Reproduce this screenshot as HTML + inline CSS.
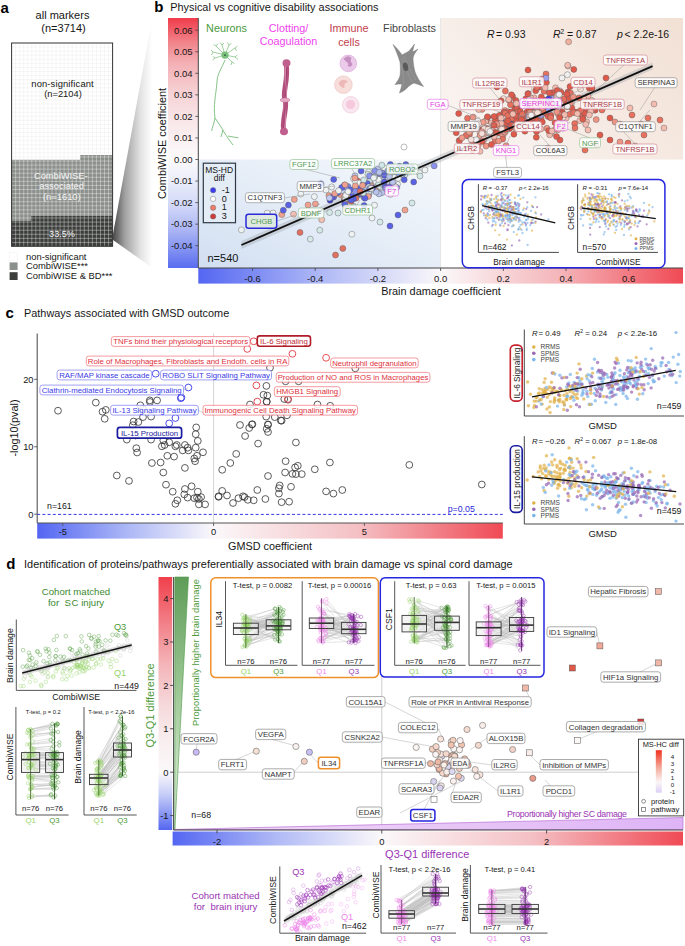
<!DOCTYPE html><html><head><meta charset="utf-8"><style>html,body{margin:0;padding:0;background:#fff;width:685px;height:946px;overflow:hidden}svg{display:block}text{font-family:"Liberation Sans",sans-serif}</style></head><body><svg width="685" height="946" viewBox="0 0 685 946"><defs><clipPath id="clipwhite"><path d="M11.6,43.0 H112.6 V154.9 H80.0 V159.8 H11.6 Z"/></clipPath><linearGradient id="funnel" x1="113" y1="0" x2="152" y2="0" gradientUnits="userSpaceOnUse"><stop offset="0" stop-color="#4a4a4a"/><stop offset="0.3" stop-color="#a0a0a0"/><stop offset="0.7" stop-color="#e2e2e2"/><stop offset="1" stop-color="#ffffff"/></linearGradient><linearGradient id="bvert" x1="0" y1="0" x2="0" y2="1"><stop offset="0" stop-color="#f03c4a"/><stop offset="0.1" stop-color="#f2858c"/><stop offset="0.18" stop-color="#f3b0b5"/><stop offset="0.3" stop-color="#f6d2d5"/><stop offset="0.42" stop-color="#f9e8ea"/><stop offset="0.566" stop-color="#fcfafc"/><stop offset="0.66" stop-color="#e8ebfa"/><stop offset="0.75" stop-color="#d2d8f8"/><stop offset="0.85" stop-color="#aab4f4"/><stop offset="0.93" stop-color="#8090f2"/><stop offset="1" stop-color="#5a6cf0"/></linearGradient><linearGradient id="bhor" x1="0" y1="0" x2="1" y2="0"><stop offset="0" stop-color="#5466f2"/><stop offset="0.2499484217041469" stop-color="#aeb8f6"/><stop offset="0.4998968434082938" stop-color="#fbf8fa"/><stop offset="0.749948421704147" stop-color="#f4b4b8"/><stop offset="1" stop-color="#f04a55"/></linearGradient><linearGradient id="bpeach" x1="0" y1="0.6" x2="1" y2="0"><stop offset="0" stop-color="#f9f3f0"/><stop offset="1" stop-color="#f2e0d4"/></linearGradient><linearGradient id="bblue" x1="0" y1="1" x2="1" y2="0"><stop offset="0" stop-color="#d2dff2"/><stop offset="0.5" stop-color="#e5edf7"/><stop offset="1" stop-color="#f6f9fc"/></linearGradient><linearGradient id="chor" x1="0" y1="0" x2="1" y2="0"><stop offset="0" stop-color="#5466f2"/><stop offset="0.18943298969072161" stop-color="#aab6f6"/><stop offset="0.37886597938144323" stop-color="#fbf8fa"/><stop offset="0.6894329896907216" stop-color="#f4c0c4"/><stop offset="1" stop-color="#f04a55"/></linearGradient><linearGradient id="dvert" x1="0" y1="0" x2="0" y2="1"><stop offset="0" stop-color="#f0404c"/><stop offset="0.171" stop-color="#f27c84"/><stop offset="0.343" stop-color="#f4b4b8"/><stop offset="0.514" stop-color="#f6dadc"/><stop offset="0.65" stop-color="#f9eeef"/><stop offset="0.7715415019762848" stop-color="#fbf8fa"/><stop offset="0.857" stop-color="#c8cff8"/><stop offset="0.943" stop-color="#8492f2"/><stop offset="1" stop-color="#5466f2"/></linearGradient><linearGradient id="dhor" x1="0" y1="0" x2="1" y2="0"><stop offset="0" stop-color="#5466f2"/><stop offset="0.20435806831566553" stop-color="#b0baf6"/><stop offset="0.40871613663133105" stop-color="#fbf8fa"/><stop offset="0.7043580683156656" stop-color="#f4c0c4"/><stop offset="1" stop-color="#f04a55"/></linearGradient><linearGradient id="dgreen" x1="0" y1="0" x2="0" y2="1"><stop offset="0" stop-color="#5e9c58"/><stop offset="0.5" stop-color="#a4cc9c"/><stop offset="1" stop-color="#e4f2e0"/></linearGradient><linearGradient id="dpurp" x1="0" y1="0" x2="1" y2="0"><stop offset="0" stop-color="#f2dcf6"/><stop offset="1" stop-color="#deb4f6"/></linearGradient><linearGradient id="dleg" x1="0" y1="0" x2="0" y2="1"><stop offset="0" stop-color="#f03020"/><stop offset="0.4" stop-color="#f4a898"/><stop offset="0.75" stop-color="#fbf6f6"/><stop offset="1" stop-color="#dcd0f8"/></linearGradient></defs><text x="0.5" y="12.6" font-size="15" fill="#000" font-weight="bold">a</text>
<text x="62.5" y="19.3" font-size="11" fill="#161616" text-anchor="middle">all markers</text>
<text x="63.5" y="32.4" font-size="11" fill="#161616" text-anchor="middle">(n=3714)</text>
<rect x="11.60" y="43.00" width="101.00" height="203.30" fill="#fff"/>
<path d="M11.6,159.8 H80.0 V154.9 H112.6 V215.9 H30.8 V220.8 H11.6 Z" fill="#8c908c"/>
<path d="M11.6,220.8 H30.8 V215.9 H112.6 V246.3 H11.6 Z" fill="#3c3e3c"/>
<path d="M15.64,43.0V246.3M19.68,43.0V246.3M23.72,43.0V246.3M27.76,43.0V246.3M31.80,43.0V246.3M35.84,43.0V246.3M39.88,43.0V246.3M43.92,43.0V246.3M47.96,43.0V246.3M52.00,43.0V246.3M56.04,43.0V246.3M60.08,43.0V246.3M64.12,43.0V246.3M68.16,43.0V246.3M72.20,43.0V246.3M76.24,43.0V246.3M80.28,43.0V246.3M84.32,43.0V246.3M88.36,43.0V246.3M92.40,43.0V246.3M96.44,43.0V246.3M100.48,43.0V246.3M104.52,43.0V246.3M108.56,43.0V246.3M11.6,47.07H112.6M11.6,51.14H112.6M11.6,55.21H112.6M11.6,59.28H112.6M11.6,63.35H112.6M11.6,67.42H112.6M11.6,71.49H112.6M11.6,75.56H112.6M11.6,79.63H112.6M11.6,83.70H112.6M11.6,87.77H112.6M11.6,91.84H112.6M11.6,95.91H112.6M11.6,99.98H112.6M11.6,104.05H112.6M11.6,108.12H112.6M11.6,112.19H112.6M11.6,116.26H112.6M11.6,120.33H112.6M11.6,124.40H112.6M11.6,128.47H112.6M11.6,132.54H112.6M11.6,136.61H112.6M11.6,140.68H112.6M11.6,144.75H112.6M11.6,148.82H112.6M11.6,152.89H112.6M11.6,156.96H112.6M11.6,161.03H112.6M11.6,165.10H112.6M11.6,169.17H112.6M11.6,173.24H112.6M11.6,177.31H112.6M11.6,181.38H112.6M11.6,185.45H112.6M11.6,189.52H112.6M11.6,193.59H112.6M11.6,197.66H112.6M11.6,201.73H112.6M11.6,205.80H112.6M11.6,209.87H112.6M11.6,213.94H112.6M11.6,218.01H112.6M11.6,222.08H112.6M11.6,226.15H112.6M11.6,230.22H112.6M11.6,234.29H112.6M11.6,238.36H112.6M11.6,242.43H112.6" stroke="#ffffff" stroke-opacity="0.45" stroke-width="0.8" fill="none"/>
<path d="M15.64,43.0V246.3M19.68,43.0V246.3M23.72,43.0V246.3M27.76,43.0V246.3M31.80,43.0V246.3M35.84,43.0V246.3M39.88,43.0V246.3M43.92,43.0V246.3M47.96,43.0V246.3M52.00,43.0V246.3M56.04,43.0V246.3M60.08,43.0V246.3M64.12,43.0V246.3M68.16,43.0V246.3M72.20,43.0V246.3M76.24,43.0V246.3M80.28,43.0V246.3M84.32,43.0V246.3M88.36,43.0V246.3M92.40,43.0V246.3M96.44,43.0V246.3M100.48,43.0V246.3M104.52,43.0V246.3M108.56,43.0V246.3M11.6,47.07H112.6M11.6,51.14H112.6M11.6,55.21H112.6M11.6,59.28H112.6M11.6,63.35H112.6M11.6,67.42H112.6M11.6,71.49H112.6M11.6,75.56H112.6M11.6,79.63H112.6M11.6,83.70H112.6M11.6,87.77H112.6M11.6,91.84H112.6M11.6,95.91H112.6M11.6,99.98H112.6M11.6,104.05H112.6M11.6,108.12H112.6M11.6,112.19H112.6M11.6,116.26H112.6M11.6,120.33H112.6M11.6,124.40H112.6M11.6,128.47H112.6M11.6,132.54H112.6M11.6,136.61H112.6M11.6,140.68H112.6M11.6,144.75H112.6M11.6,148.82H112.6M11.6,152.89H112.6M11.6,156.96H112.6M11.6,161.03H112.6M11.6,165.10H112.6M11.6,169.17H112.6M11.6,173.24H112.6M11.6,177.31H112.6M11.6,181.38H112.6M11.6,185.45H112.6M11.6,189.52H112.6M11.6,193.59H112.6M11.6,197.66H112.6M11.6,201.73H112.6M11.6,205.80H112.6M11.6,209.87H112.6M11.6,213.94H112.6M11.6,218.01H112.6M11.6,222.08H112.6M11.6,226.15H112.6M11.6,230.22H112.6M11.6,234.29H112.6M11.6,238.36H112.6M11.6,242.43H112.6" stroke="#000" stroke-opacity="0.07" stroke-width="0.5" fill="none" clip-path="url(#clipwhite)"/>
<rect x="11.60" y="43.00" width="101.00" height="203.30" fill="none" stroke="#333" stroke-width="1"/>
<text x="62.5" y="86.7" font-size="9.4" fill="#161616" text-anchor="middle" textLength="62.4">non-significant</text>
<text x="63.0" y="97.2" font-size="9.3" fill="#161616" text-anchor="middle">(n=2104)</text>
<text x="60.8" y="178.9" font-size="9.3" fill="#f4f4f4" text-anchor="middle">CombiWISE-</text>
<text x="61.6" y="189.4" font-size="9.4" fill="#f4f4f4" text-anchor="middle">associated</text>
<text x="61.8" y="200.4" font-size="9.4" fill="#f4f4f4" text-anchor="middle">(n=1610)</text>
<text x="62.0" y="236.7" font-size="9.1" fill="#f4f4f4" text-anchor="middle">33.5%</text>
<rect x="9.60" y="252.20" width="8.00" height="8.00" fill="#fff" stroke="#eee" stroke-width="0.5"/>
<rect x="9.60" y="262.40" width="8.00" height="7.60" fill="#8c908c"/>
<rect x="9.60" y="272.20" width="8.00" height="7.80" fill="#3c3e3c"/>
<text x="26.0" y="260.0" font-size="9.4" fill="#161616">non-significant</text>
<text x="26.0" y="269.2" font-size="9.4" fill="#161616">CombiWISE***</text>
<text x="26.0" y="278.6" font-size="9.4" fill="#161616">CombiWISE &amp; BD***</text>
<path d="M113,234 L152.5,17 L152.5,268 L113,240 Z" fill="url(#funnel)"/>
<text x="154.3" y="11.8" font-size="15" fill="#000" font-weight="bold">b</text>
<text x="170.3" y="11.1" font-size="10.9" fill="#161616">Physical vs cognitive disability associations</text>
<rect x="168.00" y="18.00" width="30.30" height="250.00" fill="url(#bvert)"/>
<rect x="198.30" y="268.00" width="484.70" height="15.60" fill="url(#bhor)"/>
<rect x="198.30" y="18.00" width="484.70" height="250.00" fill="#fff"/>
<rect x="440.60" y="18.00" width="242.40" height="141.50" fill="url(#bpeach)"/>
<rect x="198.30" y="159.50" width="242.30" height="108.50" fill="url(#bblue)"/>
<line x1="440.60" y1="18.00" x2="440.60" y2="268.00" stroke="#e0e0e0" stroke-width="0.8"/>
<line x1="198.30" y1="18.00" x2="198.30" y2="268.00" stroke="#444" stroke-width="1"/>
<line x1="198.30" y1="268.00" x2="683.00" y2="268.00" stroke="#444" stroke-width="1"/>
<line x1="195.30" y1="30.20" x2="198.30" y2="30.20" stroke="#444" stroke-width="0.8"/>
<text x="192.6" y="33.5" font-size="9.5" fill="#161616" text-anchor="end">0.06</text>
<line x1="195.30" y1="51.75" x2="198.30" y2="51.75" stroke="#444" stroke-width="0.8"/>
<text x="192.6" y="55.0" font-size="9.5" fill="#161616" text-anchor="end">0.05</text>
<line x1="195.30" y1="73.30" x2="198.30" y2="73.30" stroke="#444" stroke-width="0.8"/>
<text x="192.6" y="76.6" font-size="9.5" fill="#161616" text-anchor="end">0.04</text>
<line x1="195.30" y1="94.85" x2="198.30" y2="94.85" stroke="#444" stroke-width="0.8"/>
<text x="192.6" y="98.2" font-size="9.5" fill="#161616" text-anchor="end">0.03</text>
<line x1="195.30" y1="116.40" x2="198.30" y2="116.40" stroke="#444" stroke-width="0.8"/>
<text x="192.6" y="119.7" font-size="9.5" fill="#161616" text-anchor="end">0.02</text>
<line x1="195.30" y1="137.95" x2="198.30" y2="137.95" stroke="#444" stroke-width="0.8"/>
<text x="192.6" y="141.2" font-size="9.5" fill="#161616" text-anchor="end">0.01</text>
<line x1="195.30" y1="159.50" x2="198.30" y2="159.50" stroke="#444" stroke-width="0.8"/>
<text x="192.6" y="162.8" font-size="9.5" fill="#161616" text-anchor="end">0.00</text>
<line x1="195.30" y1="181.05" x2="198.30" y2="181.05" stroke="#444" stroke-width="0.8"/>
<text x="192.6" y="184.4" font-size="9.5" fill="#161616" text-anchor="end">-0.01</text>
<line x1="195.30" y1="202.60" x2="198.30" y2="202.60" stroke="#444" stroke-width="0.8"/>
<text x="192.6" y="205.9" font-size="9.5" fill="#161616" text-anchor="end">-0.02</text>
<line x1="195.30" y1="224.15" x2="198.30" y2="224.15" stroke="#444" stroke-width="0.8"/>
<text x="192.6" y="227.4" font-size="9.5" fill="#161616" text-anchor="end">-0.03</text>
<line x1="195.30" y1="245.70" x2="198.30" y2="245.70" stroke="#444" stroke-width="0.8"/>
<text x="192.6" y="249.0" font-size="9.5" fill="#161616" text-anchor="end">-0.04</text>
<line x1="252.50" y1="268.00" x2="252.50" y2="271.00" stroke="#444" stroke-width="0.8"/>
<text x="252.5" y="282.4" font-size="9.5" fill="#161616" text-anchor="middle">-0.6</text>
<line x1="315.20" y1="268.00" x2="315.20" y2="271.00" stroke="#444" stroke-width="0.8"/>
<text x="315.2" y="282.4" font-size="9.5" fill="#161616" text-anchor="middle">-0.4</text>
<line x1="377.90" y1="268.00" x2="377.90" y2="271.00" stroke="#444" stroke-width="0.8"/>
<text x="377.9" y="282.4" font-size="9.5" fill="#161616" text-anchor="middle">-0.2</text>
<line x1="440.60" y1="268.00" x2="440.60" y2="271.00" stroke="#444" stroke-width="0.8"/>
<text x="440.6" y="282.4" font-size="9.5" fill="#161616" text-anchor="middle">0.0</text>
<line x1="503.30" y1="268.00" x2="503.30" y2="271.00" stroke="#444" stroke-width="0.8"/>
<text x="503.3" y="282.4" font-size="9.5" fill="#161616" text-anchor="middle">0.2</text>
<line x1="566.00" y1="268.00" x2="566.00" y2="271.00" stroke="#444" stroke-width="0.8"/>
<text x="566.0" y="282.4" font-size="9.5" fill="#161616" text-anchor="middle">0.4</text>
<line x1="628.70" y1="268.00" x2="628.70" y2="271.00" stroke="#444" stroke-width="0.8"/>
<text x="628.7" y="282.4" font-size="9.5" fill="#161616" text-anchor="middle">0.6</text>
<text x="165.8" y="143.5" font-size="10.9" fill="#161616" text-anchor="middle" transform="rotate(-90 165.8 143.5)">CombiWISE coefficient</text>
<text x="441.0" y="294.8" font-size="10.9" fill="#161616" text-anchor="middle">Brain damage coefficient</text>
<path d="M241.4,241 L652.6,62.5 L652.6,69.5 L241.4,249 Z" fill="#9aa0a8" fill-opacity="0.35"/>
<g stroke="#555" stroke-width="0.4"><circle cx="615.0" cy="122.0" r="3" fill="#ee9484"/><circle cx="375.0" cy="177.6" r="3" fill="#5a62e4"/><circle cx="606.0" cy="78.0" r="3" fill="#e05a4c"/><circle cx="511.0" cy="123.8" r="3" fill="#e05a4c"/><circle cx="411.8" cy="167.7" r="3" fill="#5a62e4"/><circle cx="468.6" cy="136.2" r="3" fill="#f8e0da"/><circle cx="573.8" cy="69.4" r="3" fill="#e05a4c"/><circle cx="479.4" cy="138.0" r="3" fill="#f0f0f0"/><circle cx="471.6" cy="146.7" r="3" fill="#e05a4c"/><circle cx="364.0" cy="188.5" r="3" fill="#5a62e4"/><circle cx="347.4" cy="199.2" r="3" fill="#5a62e4"/><circle cx="503.4" cy="98.7" r="3" fill="#f8e0da"/><circle cx="528.0" cy="122.2" r="3" fill="#ee9484"/><circle cx="610.0" cy="118.0" r="3" fill="#e05a4c"/><circle cx="456.2" cy="132.7" r="3" fill="#e05a4c"/><circle cx="553.1" cy="100.3" r="3" fill="#e05a4c"/><circle cx="348.0" cy="186.5" r="3" fill="#8a92ee"/><circle cx="241.4" cy="229.9" r="3" fill="#eef2f2"/><circle cx="333.7" cy="179.4" r="3" fill="#5a62e4"/><circle cx="514.5" cy="116.1" r="3" fill="#9aa0f0"/><circle cx="550.5" cy="117.4" r="3" fill="#f4bcb0"/><circle cx="641.0" cy="124.0" r="3" fill="#ee9484"/><circle cx="482.5" cy="129.3" r="3" fill="#e05a4c"/><circle cx="585.3" cy="110.1" r="3" fill="#e05a4c"/><circle cx="482.1" cy="130.6" r="3" fill="#e05a4c"/><circle cx="524.2" cy="121.2" r="3" fill="#e05a4c"/><circle cx="580.0" cy="113.7" r="3" fill="#e8705f"/><circle cx="575.2" cy="112.4" r="3" fill="#e05a4c"/><circle cx="536.3" cy="130.5" r="3" fill="#e05a4c"/><circle cx="522.6" cy="105.8" r="3" fill="#f8e0da"/><circle cx="564.6" cy="102.7" r="3" fill="#e05a4c"/><circle cx="473.3" cy="143.7" r="3" fill="#e05a4c"/><circle cx="533.7" cy="118.2" r="3" fill="#e05a4c"/><circle cx="434.2" cy="165.9" r="3" fill="#8a92ee"/><circle cx="576.6" cy="112.3" r="3" fill="#e05a4c"/><circle cx="358.0" cy="186.1" r="3" fill="#5a62e4"/><circle cx="514.8" cy="107.8" r="3" fill="#e05a4c"/><circle cx="534.8" cy="112.0" r="3" fill="#ee9484"/><circle cx="480.4" cy="133.8" r="3" fill="#ee9484"/><circle cx="515.2" cy="125.1" r="3" fill="#e05a4c"/><circle cx="392.8" cy="179.7" r="3" fill="#5a62e4"/><circle cx="545.4" cy="111.5" r="3" fill="#e05a4c"/><circle cx="562.5" cy="123.1" r="3" fill="#ee9484"/><circle cx="404.7" cy="175.0" r="3" fill="#cfe6e6"/><circle cx="504.9" cy="110.6" r="3" fill="#ee9484"/><circle cx="491.7" cy="133.7" r="3" fill="#ee9484"/><circle cx="368.5" cy="172.0" r="3" fill="#eef2f2"/><circle cx="566.2" cy="118.1" r="3" fill="#f4bcb0"/><circle cx="372.0" cy="178.3" r="3" fill="#cfe6e6"/><circle cx="359.0" cy="194.4" r="3" fill="#5a62e4"/><circle cx="340.0" cy="194.5" r="3" fill="#f0a08e"/><circle cx="526.9" cy="112.0" r="3" fill="#e05a4c"/><circle cx="473.3" cy="128.2" r="3" fill="#f8e0da"/><circle cx="513.0" cy="117.3" r="3" fill="#e05a4c"/><circle cx="377.3" cy="186.8" r="3" fill="#cfe6e6"/><circle cx="392.0" cy="183.6" r="3" fill="#cfe6e6"/><circle cx="533.7" cy="108.2" r="3" fill="#f4bcb0"/><circle cx="517.3" cy="118.7" r="3" fill="#f09a8a"/><circle cx="604.0" cy="102.7" r="3" fill="#f4bcb0"/><circle cx="568.0" cy="66.0" r="3" fill="#f4bcb0"/><circle cx="527.6" cy="116.5" r="3" fill="#9aa0f0"/><circle cx="357.8" cy="193.7" r="3" fill="#5a62e4"/><circle cx="353.0" cy="191.3" r="3" fill="#5a62e4"/><circle cx="406.2" cy="169.3" r="3" fill="#b8c4ec"/><circle cx="384.4" cy="167.9" r="3" fill="#eef2f2"/><circle cx="489.5" cy="120.9" r="3" fill="#ee9484"/><circle cx="555.0" cy="122.7" r="3" fill="#e05a4c"/><circle cx="529.7" cy="112.2" r="3" fill="#e8705f"/><circle cx="544.3" cy="110.0" r="3" fill="#f8e0da"/><circle cx="571.8" cy="102.7" r="3" fill="#f8e0da"/><circle cx="588.0" cy="96.0" r="3" fill="#f4bcb0"/><circle cx="377.8" cy="169.0" r="3" fill="#b8c4ec"/><circle cx="562.2" cy="111.8" r="3" fill="#e05a4c"/><circle cx="515.9" cy="100.5" r="3" fill="#e05a4c"/><circle cx="548.0" cy="106.3" r="3" fill="#f8e0da"/><circle cx="660.0" cy="120.0" r="3" fill="#e8705f"/><circle cx="338.0" cy="213.0" r="3" fill="#d4e8e8"/><circle cx="468.8" cy="135.7" r="3" fill="#e05a4c"/><circle cx="534.1" cy="105.0" r="3" fill="#f0f0f0"/><circle cx="600.6" cy="103.7" r="3" fill="#e05a4c"/><circle cx="467.0" cy="135.0" r="3" fill="#f8e0da"/><circle cx="620.0" cy="142.0" r="3" fill="#ee9484"/><circle cx="370.4" cy="187.1" r="3" fill="#5a62e4"/><circle cx="486.0" cy="146.1" r="3" fill="#ee9484"/><circle cx="536.8" cy="118.6" r="3" fill="#e05a4c"/><circle cx="370.3" cy="177.2" r="3" fill="#5a62e4"/><circle cx="524.9" cy="131.2" r="3" fill="#e05a4c"/><circle cx="635.0" cy="146.0" r="3" fill="#f4bcb0"/><circle cx="503.8" cy="121.5" r="3" fill="#e05a4c"/><circle cx="493.1" cy="117.7" r="3" fill="#ee9484"/><circle cx="353.5" cy="178.8" r="3" fill="#eef2f2"/><circle cx="330.0" cy="200.2" r="3" fill="#3c44d0"/><circle cx="356.6" cy="192.5" r="3" fill="#5a62e4"/><circle cx="479.9" cy="132.1" r="3" fill="#f4bcb0"/><circle cx="355.0" cy="175.8" r="3" fill="#c4ccf2"/><circle cx="628.0" cy="143.0" r="3" fill="#e8705f"/><circle cx="486.4" cy="120.5" r="3" fill="#f4bcb0"/><circle cx="378.5" cy="187.0" r="3" fill="#cfe6e6"/><circle cx="345.0" cy="189.6" r="3" fill="#eef2f2"/><circle cx="374.5" cy="205.2" r="3" fill="#eef2f2"/><circle cx="513.3" cy="121.6" r="3" fill="#3c44d0"/><circle cx="467.5" cy="118.2" r="3" fill="#e8705f"/><circle cx="596.0" cy="144.0" r="3" fill="#ee9484"/><circle cx="365.7" cy="184.5" r="3" fill="#eef2f2"/><circle cx="514.3" cy="113.5" r="3" fill="#e05a4c"/><circle cx="344.4" cy="185.2" r="3" fill="#8a92ee"/><circle cx="524.1" cy="121.8" r="3" fill="#ee9484"/><circle cx="472.2" cy="140.5" r="3" fill="#e8705f"/><circle cx="531.0" cy="110.5" r="3" fill="#e05a4c"/><circle cx="486.0" cy="132.8" r="3" fill="#f09a8a"/><circle cx="528.0" cy="70.0" r="3" fill="#e05a4c"/><circle cx="345.6" cy="196.0" r="3" fill="#f0a08e"/><circle cx="401.5" cy="175.6" r="3" fill="#cfe6e6"/><circle cx="379.3" cy="179.5" r="3" fill="#cfe6e6"/><circle cx="552.1" cy="104.3" r="3" fill="#f0f0f0"/><circle cx="568.0" cy="96.0" r="3" fill="#e05a4c"/><circle cx="364.1" cy="205.5" r="3" fill="#5a62e4"/><circle cx="363.6" cy="196.9" r="3" fill="#cfe6e6"/><circle cx="351.3" cy="194.6" r="3" fill="#f0a08e"/><circle cx="346.0" cy="206.0" r="3" fill="#e07060"/><circle cx="356.8" cy="180.4" r="3" fill="#e07060"/><circle cx="412.0" cy="203.0" r="3" fill="#d4e8e8"/><circle cx="514.1" cy="123.8" r="3" fill="#3c44d0"/><circle cx="562.1" cy="100.1" r="3" fill="#ee9484"/><circle cx="567.7" cy="65.2" r="3" fill="#f4bcb0"/><circle cx="359.4" cy="193.2" r="3" fill="#5a62e4"/><circle cx="364.5" cy="196.6" r="3" fill="#8a92ee"/><circle cx="382.0" cy="173.0" r="3" fill="#8a92ee"/><circle cx="487.4" cy="117.5" r="3" fill="#f8e0da"/><circle cx="469.6" cy="133.9" r="3" fill="#e8705f"/><circle cx="498.4" cy="131.9" r="3" fill="#3c44d0"/><circle cx="535.1" cy="112.0" r="3" fill="#e05a4c"/><circle cx="476.5" cy="128.5" r="3" fill="#f4bcb0"/><circle cx="507.3" cy="121.8" r="3" fill="#f09a8a"/><circle cx="549.4" cy="107.4" r="3" fill="#f8e0da"/><circle cx="568.0" cy="92.0" r="3" fill="#e05a4c"/><circle cx="537.7" cy="112.7" r="3" fill="#ee9484"/><circle cx="610.0" cy="140.0" r="3" fill="#e05a4c"/><circle cx="331.6" cy="186.9" r="3" fill="#eef2f2"/><circle cx="585.0" cy="150.0" r="3" fill="#e8705f"/><circle cx="512.6" cy="96.5" r="3" fill="#e05a4c"/><circle cx="333.8" cy="197.0" r="3" fill="#5a62e4"/><circle cx="502.1" cy="127.9" r="3" fill="#f09a8a"/><circle cx="281.8" cy="214.6" r="3" fill="#f0a08e"/><circle cx="328.9" cy="195.6" r="3" fill="#f0a08e"/><circle cx="380.2" cy="174.5" r="3" fill="#5a62e4"/><circle cx="570.5" cy="93.0" r="3" fill="#e8705f"/><circle cx="542.6" cy="104.9" r="3" fill="#e8705f"/><circle cx="545.9" cy="107.2" r="3" fill="#e05a4c"/><circle cx="522.9" cy="115.9" r="3" fill="#e8705f"/><circle cx="335.5" cy="255.0" r="3" fill="#e07060"/><circle cx="563.1" cy="117.4" r="3" fill="#f8e0da"/><circle cx="508.1" cy="113.6" r="3" fill="#f4bcb0"/><circle cx="506.1" cy="145.7" r="3" fill="#ee9484"/><circle cx="551.1" cy="133.3" r="3" fill="#f4bcb0"/><circle cx="489.9" cy="119.5" r="3" fill="#e05a4c"/><circle cx="361.4" cy="190.1" r="3" fill="#8a92ee"/><circle cx="374.5" cy="189.1" r="3" fill="#5a62e4"/><circle cx="359.4" cy="181.9" r="3" fill="#e07060"/><circle cx="405.1" cy="171.4" r="3" fill="#b8c4ec"/><circle cx="495.1" cy="141.1" r="3" fill="#e8705f"/><circle cx="368.1" cy="192.4" r="3" fill="#eef2f2"/><circle cx="344.5" cy="199.2" r="3" fill="#5a62e4"/><circle cx="482.0" cy="109.4" r="3" fill="#f09a8a"/><circle cx="569.7" cy="114.3" r="3" fill="#e8705f"/><circle cx="397.5" cy="184.2" r="3" fill="#eef2f2"/><circle cx="485.5" cy="121.2" r="3" fill="#f4bcb0"/><circle cx="486.3" cy="128.2" r="3" fill="#e05a4c"/><circle cx="319.8" cy="230.2" r="3" fill="#d4e8e8"/><circle cx="369.9" cy="175.9" r="3" fill="#8a92ee"/><circle cx="655.0" cy="83.0" r="3" fill="#e8705f"/><circle cx="534.1" cy="97.8" r="3" fill="#f4bcb0"/><circle cx="364.8" cy="183.1" r="3" fill="#5a62e4"/><circle cx="492.3" cy="120.7" r="3" fill="#f0f0f0"/><circle cx="582.9" cy="116.5" r="3" fill="#e8705f"/><circle cx="332.1" cy="197.4" r="3" fill="#5a62e4"/><circle cx="564.6" cy="98.5" r="3" fill="#e8705f"/><circle cx="535.8" cy="112.4" r="3" fill="#ee9484"/><circle cx="511.1" cy="117.1" r="3" fill="#f09a8a"/><circle cx="515.0" cy="124.6" r="3" fill="#f2f2f2"/><circle cx="348.3" cy="209.6" r="3" fill="#f0a08e"/><circle cx="356.0" cy="198.2" r="3" fill="#e07060"/><circle cx="557.8" cy="129.9" r="3" fill="#f4bcb0"/><circle cx="363.7" cy="195.1" r="3" fill="#eef2f2"/><circle cx="528.2" cy="82.6" r="3" fill="#e05a4c"/><circle cx="382.6" cy="177.5" r="3" fill="#f0a08e"/><circle cx="501.1" cy="114.9" r="3" fill="#ee9484"/><circle cx="374.2" cy="190.3" r="3" fill="#cfe6e6"/><circle cx="591.8" cy="100.4" r="3" fill="#f4bcb0"/><circle cx="425.0" cy="170.0" r="3" fill="#eef2f2"/><circle cx="352.7" cy="194.5" r="3" fill="#5a62e4"/><circle cx="364.7" cy="183.5" r="3" fill="#cfe6e6"/><circle cx="528.2" cy="93.6" r="3" fill="#e8705f"/><circle cx="516.6" cy="106.6" r="3" fill="#e05a4c"/><circle cx="530.7" cy="98.0" r="3" fill="#f4bcb0"/><circle cx="404.2" cy="179.8" r="3" fill="#5a62e4"/><circle cx="273.0" cy="213.0" r="3" fill="#eef2f2"/><circle cx="392.8" cy="183.2" r="3" fill="#8a92ee"/><circle cx="525.9" cy="98.7" r="3" fill="#e05a4c"/><circle cx="504.9" cy="122.8" r="3" fill="#e05a4c"/><circle cx="542.2" cy="78.9" r="3" fill="#e05a4c"/><circle cx="571.9" cy="108.1" r="3" fill="#e05a4c"/><circle cx="545.9" cy="113.5" r="3" fill="#e05a4c"/><circle cx="544.1" cy="91.2" r="3" fill="#e8705f"/><circle cx="413.7" cy="182.0" r="3" fill="#5a62e4"/><circle cx="546.0" cy="74.0" r="3" fill="#e8705f"/><circle cx="359.4" cy="187.4" r="3" fill="#5a62e4"/><circle cx="555.5" cy="129.1" r="3" fill="#ee9484"/><circle cx="381.8" cy="177.0" r="3" fill="#5a62e4"/><circle cx="561.4" cy="114.2" r="3" fill="#ee9484"/><circle cx="491.1" cy="129.7" r="3" fill="#f09a8a"/><circle cx="338.0" cy="192.5" r="3" fill="#5a62e4"/><circle cx="342.5" cy="190.4" r="3" fill="#c4ccf2"/><circle cx="394.3" cy="180.8" r="3" fill="#eef2f2"/><circle cx="475.4" cy="126.9" r="3" fill="#e8705f"/><circle cx="352.8" cy="207.3" r="3" fill="#8a92ee"/><circle cx="556.5" cy="106.6" r="3" fill="#e8705f"/><circle cx="371.3" cy="185.6" r="3" fill="#eef2f2"/><circle cx="507.8" cy="111.7" r="3" fill="#e8705f"/><circle cx="355.6" cy="181.9" r="3" fill="#eef2f2"/><circle cx="480.2" cy="135.6" r="3" fill="#f09a8a"/><circle cx="541.1" cy="118.3" r="3" fill="#e8705f"/><circle cx="315.4" cy="203.9" r="3" fill="#f0a08e"/><circle cx="579.8" cy="120.6" r="3" fill="#f4bcb0"/><circle cx="467.1" cy="126.6" r="3" fill="#e05a4c"/><circle cx="532.5" cy="116.1" r="3" fill="#e8705f"/><circle cx="381.8" cy="179.3" r="3" fill="#eef2f2"/><circle cx="570.4" cy="103.1" r="3" fill="#ee9484"/><circle cx="498.2" cy="131.4" r="3" fill="#f8e0da"/><circle cx="494.6" cy="123.2" r="3" fill="#f4bcb0"/><circle cx="664.0" cy="128.0" r="3" fill="#f4bcb0"/><circle cx="527.9" cy="93.9" r="3" fill="#e05a4c"/><circle cx="560.0" cy="140.0" r="3" fill="#e05a4c"/><circle cx="484.1" cy="128.8" r="3" fill="#f8e0da"/><circle cx="516.0" cy="121.8" r="3" fill="#e05a4c"/><circle cx="513.4" cy="126.7" r="3" fill="#e05a4c"/><circle cx="602.0" cy="110.0" r="3" fill="#e8705f"/><circle cx="362.8" cy="182.6" r="3" fill="#8a92ee"/><circle cx="370.1" cy="183.0" r="3" fill="#8a92ee"/><circle cx="405.8" cy="164.6" r="3" fill="#5a62e4"/><circle cx="346.3" cy="187.3" r="3" fill="#8a92ee"/><circle cx="300.0" cy="232.4" r="3" fill="#e07060"/><circle cx="509.2" cy="100.3" r="3" fill="#e05a4c"/><circle cx="368.8" cy="194.5" r="3" fill="#8a92ee"/><circle cx="342.8" cy="248.4" r="3" fill="#e07060"/><circle cx="500.6" cy="133.2" r="3" fill="#ee9484"/><circle cx="465.4" cy="128.5" r="3" fill="#e8705f"/><circle cx="473.1" cy="117.1" r="3" fill="#ee9484"/><circle cx="520.5" cy="114.1" r="3" fill="#f0f0f0"/><circle cx="357.8" cy="192.3" r="3" fill="#c4ccf2"/><circle cx="368.6" cy="191.9" r="3" fill="#cfe6e6"/><circle cx="354.8" cy="178.0" r="3" fill="#f0a08e"/><circle cx="648.0" cy="118.0" r="3" fill="#e8705f"/><circle cx="478.2" cy="145.2" r="3" fill="#f09a8a"/><circle cx="583.7" cy="83.2" r="3" fill="#e8705f"/><circle cx="489.6" cy="129.7" r="3" fill="#f4bcb0"/><circle cx="513.9" cy="134.2" r="3" fill="#e05a4c"/><circle cx="491.6" cy="122.9" r="3" fill="#f4bcb0"/><circle cx="494.1" cy="128.5" r="3" fill="#f09a8a"/><circle cx="495.3" cy="131.6" r="3" fill="#f4bcb0"/><circle cx="344.8" cy="202.0" r="3" fill="#e07060"/><circle cx="353.5" cy="206.1" r="3" fill="#c4ccf2"/><circle cx="498.0" cy="126.8" r="3" fill="#f0f0f0"/><circle cx="391.4" cy="167.8" r="3" fill="#cfe6e6"/><circle cx="595.1" cy="110.2" r="3" fill="#e05a4c"/><circle cx="589.3" cy="88.2" r="3" fill="#e05a4c"/><circle cx="399.0" cy="176.2" r="3" fill="#eef2f2"/><circle cx="538.8" cy="87.2" r="3" fill="#e05a4c"/><circle cx="503.9" cy="112.3" r="3" fill="#e05a4c"/><circle cx="583.5" cy="98.1" r="3" fill="#f4bcb0"/><circle cx="545.1" cy="100.6" r="3" fill="#e05a4c"/><circle cx="502.9" cy="135.6" r="3" fill="#f09a8a"/><circle cx="509.4" cy="128.7" r="3" fill="#e05a4c"/><circle cx="548.0" cy="148.0" r="3" fill="#e05a4c"/><circle cx="334.8" cy="193.6" r="3" fill="#f0a08e"/><circle cx="351.9" cy="234.2" r="3" fill="#eef2f2"/><circle cx="368.7" cy="188.9" r="3" fill="#8a92ee"/><circle cx="329.6" cy="212.5" r="3" fill="#d4e8e8"/><circle cx="540.0" cy="115.6" r="3" fill="#e05a4c"/><circle cx="550.2" cy="108.6" r="3" fill="#e8705f"/><circle cx="294.3" cy="199.5" r="3" fill="#f0a08e"/><circle cx="370.3" cy="183.8" r="3" fill="#cfe6e6"/><circle cx="517.0" cy="108.5" r="3" fill="#e05a4c"/><circle cx="558.8" cy="105.7" r="3" fill="#f4bcb0"/><circle cx="567.0" cy="106.7" r="3" fill="#ee9484"/><circle cx="517.0" cy="113.9" r="3" fill="#f4bcb0"/><circle cx="568.6" cy="41.8" r="3" fill="#f0b0a0"/><circle cx="459.5" cy="146.2" r="3" fill="#f8e0da"/><circle cx="549.7" cy="134.8" r="3" fill="#f4bcb0"/><circle cx="503.4" cy="121.9" r="3" fill="#f4bcb0"/><circle cx="393.3" cy="187.5" r="3" fill="#8a92ee"/><circle cx="361.6" cy="193.3" r="3" fill="#8a92ee"/><circle cx="527.1" cy="105.2" r="3" fill="#e8705f"/><circle cx="310.3" cy="239.1" r="3" fill="#d4e8e8"/><circle cx="511.0" cy="112.1" r="3" fill="#e05a4c"/><circle cx="481.8" cy="131.7" r="3" fill="#ee9484"/><circle cx="562.0" cy="78.0" r="3" fill="#f0f0f0"/><circle cx="584.6" cy="113.3" r="3" fill="#e05a4c"/><circle cx="495.5" cy="120.6" r="3" fill="#e05a4c"/><circle cx="570.0" cy="86.6" r="3" fill="#e05a4c"/><circle cx="630.0" cy="108.0" r="3" fill="#f4bcb0"/><circle cx="596.2" cy="119.6" r="3" fill="#ee9484"/><circle cx="586.6" cy="121.8" r="3" fill="#f4bcb0"/><circle cx="475.2" cy="127.4" r="3" fill="#e05a4c"/><circle cx="546.9" cy="128.2" r="3" fill="#ee9484"/><circle cx="491.4" cy="144.5" r="3" fill="#e05a4c"/><circle cx="484.0" cy="139.1" r="3" fill="#f4bcb0"/><circle cx="529.2" cy="109.9" r="3" fill="#e05a4c"/><circle cx="534.8" cy="113.7" r="3" fill="#ee9484"/><circle cx="554.3" cy="97.2" r="3" fill="#9aa0f0"/><circle cx="364.2" cy="197.4" r="3" fill="#b8c4ec"/><circle cx="385.1" cy="186.8" r="3" fill="#5a62e4"/><circle cx="593.4" cy="108.9" r="3" fill="#e8705f"/><circle cx="399.5" cy="166.3" r="3" fill="#5a62e4"/><circle cx="507.9" cy="124.7" r="3" fill="#e05a4c"/><circle cx="543.5" cy="105.8" r="3" fill="#ee9484"/><circle cx="487.5" cy="116.8" r="3" fill="#e05a4c"/><circle cx="466.8" cy="126.1" r="3" fill="#f8e0da"/><circle cx="511.5" cy="94.8" r="3" fill="#e05a4c"/><circle cx="505.8" cy="128.8" r="3" fill="#f09a8a"/><circle cx="548.2" cy="116.6" r="3" fill="#e05a4c"/><circle cx="560.3" cy="104.1" r="3" fill="#f8e0da"/><circle cx="394.7" cy="177.3" r="3" fill="#eef2f2"/><circle cx="466.0" cy="135.5" r="3" fill="#e8705f"/><circle cx="521.7" cy="115.6" r="3" fill="#ee9484"/><circle cx="515.9" cy="120.2" r="3" fill="#e05a4c"/><circle cx="580.5" cy="89.0" r="3" fill="#f8e0da"/><circle cx="378.7" cy="183.8" r="3" fill="#cfe6e6"/><circle cx="363.4" cy="194.6" r="3" fill="#5a62e4"/><circle cx="478.6" cy="141.8" r="3" fill="#f09a8a"/><circle cx="559.8" cy="90.9" r="3" fill="#f4bcb0"/><circle cx="369.3" cy="181.6" r="3" fill="#cfe6e6"/><circle cx="367.9" cy="174.2" r="3" fill="#cfe6e6"/><circle cx="471.1" cy="146.9" r="3" fill="#f8e0da"/><circle cx="489.1" cy="132.6" r="3" fill="#f8e0da"/><circle cx="535.7" cy="90.7" r="3" fill="#e05a4c"/><circle cx="590.7" cy="111.5" r="3" fill="#f4bcb0"/><circle cx="505.2" cy="113.2" r="3" fill="#e8705f"/><circle cx="588.0" cy="130.0" r="3" fill="#f4bcb0"/><circle cx="390.3" cy="194.4" r="3" fill="#eef2f2"/><circle cx="512.1" cy="118.3" r="3" fill="#e8705f"/><circle cx="537.2" cy="114.0" r="3" fill="#f0f0f0"/><circle cx="556.3" cy="94.7" r="3" fill="#f4bcb0"/><circle cx="504.6" cy="132.2" r="3" fill="#f09a8a"/><circle cx="390.0" cy="226.0" r="3" fill="#5a62e4"/><circle cx="350.3" cy="203.3" r="3" fill="#eef2f2"/><circle cx="480.0" cy="151.3" r="3" fill="#f4bcb0"/><circle cx="592.0" cy="88.0" r="3" fill="#e05a4c"/><circle cx="567.4" cy="74.7" r="3" fill="#f0f0f0"/><circle cx="464.6" cy="124.6" r="3" fill="#f8e0da"/><circle cx="353.4" cy="190.7" r="3" fill="#d4e8e8"/><circle cx="536.6" cy="101.9" r="3" fill="#e05a4c"/><circle cx="523.5" cy="124.3" r="3" fill="#f0f0f0"/><circle cx="390.4" cy="164.5" r="3" fill="#5a62e4"/><circle cx="477.9" cy="121.2" r="3" fill="#f2f2f2"/><circle cx="560.4" cy="115.5" r="3" fill="#e05a4c"/><circle cx="550.5" cy="103.9" r="3" fill="#e05a4c"/><circle cx="502.7" cy="139.0" r="3" fill="#e8705f"/><circle cx="500.9" cy="122.4" r="3" fill="#ee9484"/><circle cx="510.5" cy="104.8" r="3" fill="#e8705f"/><circle cx="540.9" cy="129.0" r="3" fill="#f4bcb0"/><circle cx="580.6" cy="110.5" r="3" fill="#e8705f"/><circle cx="399.0" cy="174.9" r="3" fill="#8a92ee"/><circle cx="494.5" cy="129.4" r="3" fill="#f8e0da"/><circle cx="529.7" cy="117.2" r="3" fill="#f0f0f0"/><circle cx="483.1" cy="122.2" r="3" fill="#f09a8a"/><circle cx="567.4" cy="106.2" r="3" fill="#f0f0f0"/><circle cx="341.7" cy="187.6" r="3" fill="#5a62e4"/><circle cx="562.2" cy="113.8" r="3" fill="#e05a4c"/><circle cx="283.3" cy="210.2" r="3" fill="#5a62e4"/><circle cx="585.2" cy="103.0" r="3" fill="#ee9484"/><circle cx="344.8" cy="204.2" r="3" fill="#5a62e4"/><circle cx="371.0" cy="185.8" r="3" fill="#f0a08e"/><circle cx="350.4" cy="189.8" r="3" fill="#5a62e4"/><circle cx="561.1" cy="92.4" r="3" fill="#e05a4c"/><circle cx="546.4" cy="82.6" r="3" fill="#e05a4c"/><circle cx="532.3" cy="118.1" r="3" fill="#e05a4c"/><circle cx="396.7" cy="187.5" r="3" fill="#8a92ee"/><circle cx="398.0" cy="215.0" r="3" fill="#5a62e4"/><circle cx="419.3" cy="172.8" r="3" fill="#eef2f2"/><circle cx="558.2" cy="114.0" r="3" fill="#ee9484"/><circle cx="374.7" cy="170.8" r="3" fill="#8a92ee"/><circle cx="548.7" cy="130.7" r="3" fill="#e05a4c"/><circle cx="536.0" cy="84.0" r="3" fill="#f4bcb0"/><circle cx="507.2" cy="125.4" r="3" fill="#e8705f"/><circle cx="527.2" cy="103.8" r="3" fill="#3c44d0"/><circle cx="531.1" cy="111.2" r="3" fill="#e05a4c"/><circle cx="561.6" cy="124.5" r="3" fill="#ee9484"/><circle cx="351.0" cy="201.4" r="3" fill="#e07060"/><circle cx="535.9" cy="125.6" r="3" fill="#f0f0f0"/><circle cx="585.7" cy="124.4" r="3" fill="#f4bcb0"/><circle cx="507.8" cy="115.7" r="3" fill="#e8705f"/><circle cx="474.4" cy="126.0" r="3" fill="#e8705f"/><circle cx="494.2" cy="116.5" r="3" fill="#e05a4c"/><circle cx="393.2" cy="171.4" r="3" fill="#8a92ee"/><circle cx="384.9" cy="177.9" r="3" fill="#eef2f2"/><circle cx="555.5" cy="87.8" r="3" fill="#f4bcb0"/><circle cx="501.7" cy="122.6" r="3" fill="#3c44d0"/><circle cx="420.0" cy="176.0" r="3" fill="#d4e8e8"/><circle cx="518.1" cy="111.9" r="3" fill="#e8705f"/><circle cx="557.1" cy="90.6" r="3" fill="#e05a4c"/><circle cx="558.5" cy="126.6" r="3" fill="#f0f0f0"/><circle cx="536.7" cy="131.5" r="3" fill="#e05a4c"/><circle cx="473.5" cy="129.1" r="3" fill="#e8705f"/><circle cx="488.7" cy="131.7" r="3" fill="#f2f2f2"/><circle cx="505.4" cy="91.1" r="3" fill="#e8705f"/><circle cx="569.0" cy="97.8" r="3" fill="#e05a4c"/><circle cx="478.6" cy="109.5" r="3" fill="#f4bcb0"/><circle cx="383.1" cy="180.4" r="3" fill="#b8c4ec"/><circle cx="542.3" cy="122.0" r="3" fill="#e05a4c"/><circle cx="503.9" cy="127.9" r="3" fill="#f0f0f0"/><circle cx="551.9" cy="92.8" r="3" fill="#e05a4c"/><circle cx="345.0" cy="184.8" r="3" fill="#f0a08e"/><circle cx="556.7" cy="97.6" r="3" fill="#f4bcb0"/><circle cx="366.3" cy="187.2" r="3" fill="#b8c4ec"/><circle cx="368.4" cy="196.4" r="3" fill="#f0a08e"/><circle cx="515.5" cy="127.9" r="3" fill="#ee9484"/><circle cx="367.3" cy="183.5" r="3" fill="#5a62e4"/><circle cx="535.5" cy="101.0" r="3" fill="#ee9484"/><circle cx="521.3" cy="122.1" r="3" fill="#e8705f"/><circle cx="344.1" cy="197.5" r="3" fill="#f0a08e"/><circle cx="520.2" cy="111.3" r="3" fill="#e05a4c"/><circle cx="288.4" cy="205.1" r="3" fill="#5a62e4"/><circle cx="556.5" cy="136.6" r="3" fill="#e05a4c"/><circle cx="494.8" cy="132.3" r="3" fill="#e05a4c"/><circle cx="384.3" cy="182.0" r="3" fill="#5a62e4"/><circle cx="549.4" cy="93.0" r="3" fill="#e05a4c"/><circle cx="534.0" cy="106.8" r="3" fill="#e05a4c"/><circle cx="654.0" cy="104.0" r="3" fill="#f4bcb0"/><circle cx="476.2" cy="139.8" r="3" fill="#f2f2f2"/><circle cx="541.0" cy="115.2" r="3" fill="#9aa0f0"/><circle cx="528.7" cy="123.0" r="3" fill="#f0f0f0"/><circle cx="314.3" cy="196.6" r="3" fill="#eef2f2"/><circle cx="508.6" cy="99.5" r="3" fill="#f4bcb0"/><circle cx="453.2" cy="125.5" r="3" fill="#f2f2f2"/><circle cx="596.0" cy="104.0" r="3" fill="#f4bcb0"/><circle cx="573.7" cy="112.6" r="3" fill="#e8705f"/><circle cx="385.8" cy="188.4" r="3" fill="#8a92ee"/><circle cx="345.4" cy="198.4" r="3" fill="#d4e8e8"/><circle cx="379.3" cy="172.4" r="3" fill="#b8c4ec"/><circle cx="384.7" cy="174.7" r="3" fill="#cfe6e6"/><circle cx="644.0" cy="135.0" r="3" fill="#e8705f"/><circle cx="530.6" cy="122.9" r="3" fill="#e05a4c"/><circle cx="579.0" cy="98.0" r="3" fill="#e8705f"/><circle cx="363.0" cy="183.8" r="3" fill="#5a62e4"/><circle cx="378.4" cy="179.4" r="3" fill="#eef2f2"/><circle cx="361.1" cy="171.0" r="3" fill="#5a62e4"/><circle cx="505.1" cy="132.1" r="3" fill="#f09a8a"/><circle cx="530.6" cy="102.2" r="3" fill="#e8705f"/><circle cx="389.5" cy="187.2" r="3" fill="#5a62e4"/><circle cx="524.4" cy="121.3" r="3" fill="#e8705f"/><circle cx="499.2" cy="115.5" r="3" fill="#e05a4c"/><circle cx="515.6" cy="116.0" r="3" fill="#e05a4c"/><circle cx="506.4" cy="129.2" r="3" fill="#3c44d0"/><circle cx="550.9" cy="115.3" r="3" fill="#e05a4c"/><circle cx="471.1" cy="139.5" r="3" fill="#f8e0da"/><circle cx="469.2" cy="132.2" r="3" fill="#f09a8a"/><circle cx="493.7" cy="124.7" r="3" fill="#f09a8a"/><circle cx="545.2" cy="87.7" r="3" fill="#f4bcb0"/><circle cx="320.9" cy="183.8" r="3" fill="#5a62e4"/><circle cx="505.8" cy="123.0" r="3" fill="#e05a4c"/><circle cx="488.1" cy="129.4" r="3" fill="#f8e0da"/><circle cx="267.2" cy="213.1" r="3" fill="#eef2f2"/><circle cx="506.0" cy="130.1" r="3" fill="#f0f0f0"/><circle cx="564.7" cy="114.7" r="3" fill="#f4bcb0"/><circle cx="574.7" cy="123.6" r="3" fill="#e8705f"/><circle cx="543.7" cy="102.3" r="3" fill="#e05a4c"/><circle cx="542.7" cy="107.9" r="3" fill="#e05a4c"/><circle cx="559.1" cy="94.5" r="3" fill="#f0f0f0"/><circle cx="532.9" cy="106.3" r="3" fill="#e8705f"/><circle cx="345.8" cy="195.3" r="3" fill="#eef2f2"/><circle cx="541.7" cy="108.9" r="3" fill="#e05a4c"/><circle cx="496.6" cy="133.1" r="3" fill="#e05a4c"/><circle cx="531.1" cy="113.9" r="3" fill="#f4bcb0"/><circle cx="536.8" cy="108.4" r="3" fill="#e8705f"/><circle cx="380.0" cy="222.0" r="3" fill="#d4e8e8"/><circle cx="507.9" cy="120.8" r="3" fill="#e05a4c"/><circle cx="516.5" cy="103.5" r="3" fill="#f4bcb0"/><circle cx="562.8" cy="128.1" r="3" fill="#e8705f"/><circle cx="376.2" cy="190.8" r="3" fill="#f0a08e"/><circle cx="363.2" cy="182.3" r="3" fill="#f0a08e"/><circle cx="338.6" cy="190.7" r="3" fill="#eef2f2"/><circle cx="500.6" cy="127.9" r="3" fill="#f8e0da"/><circle cx="587.7" cy="105.9" r="3" fill="#e8705f"/><circle cx="504.8" cy="128.9" r="3" fill="#ee9484"/><circle cx="300.8" cy="194.0" r="3" fill="#eef2f2"/><circle cx="589.3" cy="115.1" r="3" fill="#f4bcb0"/><circle cx="348.1" cy="191.6" r="3" fill="#eef2f2"/><circle cx="539.8" cy="113.5" r="3" fill="#f8e0da"/><circle cx="556.8" cy="111.9" r="3" fill="#ee9484"/><circle cx="405.0" cy="210.0" r="3" fill="#f0a08e"/><circle cx="353.6" cy="198.7" r="3" fill="#5a62e4"/><circle cx="481.9" cy="133.6" r="3" fill="#f8e0da"/><circle cx="529.5" cy="115.0" r="3" fill="#f4bcb0"/><circle cx="359.8" cy="183.1" r="3" fill="#eef2f2"/><circle cx="384.7" cy="175.3" r="3" fill="#5a62e4"/><circle cx="382.0" cy="192.7" r="3" fill="#b8c4ec"/><circle cx="536.9" cy="87.3" r="3" fill="#e8705f"/><circle cx="559.6" cy="117.8" r="3" fill="#e05a4c"/><circle cx="368.9" cy="186.9" r="3" fill="#cfe6e6"/><circle cx="392.5" cy="167.3" r="3" fill="#8a92ee"/><circle cx="364.9" cy="198.2" r="3" fill="#5a62e4"/><circle cx="556.2" cy="101.6" r="3" fill="#3c44d0"/><circle cx="351.1" cy="200.0" r="3" fill="#5a62e4"/><circle cx="543.4" cy="99.8" r="3" fill="#e8705f"/><circle cx="495.6" cy="103.9" r="3" fill="#e05a4c"/><circle cx="466.5" cy="126.1" r="3" fill="#ee9484"/><circle cx="499.7" cy="125.9" r="3" fill="#ee9484"/><circle cx="551.9" cy="131.0" r="3" fill="#f4bcb0"/><circle cx="550.7" cy="117.8" r="3" fill="#e8705f"/><circle cx="519.8" cy="122.5" r="3" fill="#e8705f"/><circle cx="379.0" cy="193.9" r="3" fill="#b8c4ec"/><circle cx="363.5" cy="183.6" r="3" fill="#5a62e4"/><circle cx="490.0" cy="131.5" r="3" fill="#f0f0f0"/><circle cx="482.3" cy="141.4" r="3" fill="#e05a4c"/><circle cx="536.4" cy="106.7" r="3" fill="#ee9484"/><circle cx="575.0" cy="128.0" r="3" fill="#e8705f"/><circle cx="527.5" cy="125.4" r="3" fill="#f8e0da"/><circle cx="374.5" cy="176.8" r="3" fill="#b8c4ec"/><circle cx="459.1" cy="140.6" r="3" fill="#f4bcb0"/><circle cx="632.0" cy="115.0" r="3" fill="#e8705f"/><circle cx="403.3" cy="173.1" r="3" fill="#8a92ee"/><circle cx="582.8" cy="119.1" r="3" fill="#e05a4c"/><circle cx="533.6" cy="113.0" r="3" fill="#f4bcb0"/><circle cx="398.2" cy="178.3" r="3" fill="#eef2f2"/><circle cx="404.0" cy="147.0" r="3" fill="#ffffff"/><circle cx="355.3" cy="185.9" r="3" fill="#f0a08e"/><circle cx="561.3" cy="125.3" r="3" fill="#f4bcb0"/><circle cx="544.2" cy="112.2" r="3" fill="#e8705f"/><circle cx="363.1" cy="192.9" r="3" fill="#cfe6e6"/><circle cx="557.5" cy="126.2" r="3" fill="#ee9484"/><circle cx="600.0" cy="135.0" r="3" fill="#e05a4c"/><circle cx="472.4" cy="150.5" r="3" fill="#e05a4c"/><circle cx="381.9" cy="165.2" r="3" fill="#cfe6e6"/><circle cx="511.8" cy="125.2" r="3" fill="#e05a4c"/><circle cx="376.1" cy="191.9" r="3" fill="#b8c4ec"/><circle cx="374.6" cy="177.4" r="3" fill="#cfe6e6"/><circle cx="293.5" cy="214.2" r="3" fill="#f4c0b4"/><circle cx="530.0" cy="112.8" r="3" fill="#ee9484"/><circle cx="395.4" cy="186.9" r="3" fill="#eef2f2"/><circle cx="369.6" cy="175.9" r="3" fill="#8a92ee"/><circle cx="531.2" cy="115.2" r="3" fill="#f0f0f0"/><circle cx="326.0" cy="190.0" r="3" fill="#eef2f2"/><circle cx="548.7" cy="110.0" r="3" fill="#9aa0f0"/><circle cx="505.6" cy="129.5" r="3" fill="#e05a4c"/><circle cx="363.7" cy="180.0" r="3" fill="#cfe6e6"/><circle cx="392.6" cy="182.1" r="3" fill="#b8c4ec"/><circle cx="512.9" cy="114.1" r="3" fill="#f4bcb0"/><circle cx="573.3" cy="96.9" r="3" fill="#ee9484"/><circle cx="478.4" cy="123.8" r="3" fill="#f8e0da"/><circle cx="369.8" cy="188.4" r="3" fill="#8a92ee"/><circle cx="372.5" cy="188.1" r="3" fill="#5a62e4"/><circle cx="403.2" cy="169.5" r="3" fill="#eef2f2"/><circle cx="542.4" cy="107.9" r="3" fill="#ee9484"/><circle cx="459.5" cy="140.6" r="3" fill="#e05a4c"/><circle cx="548.7" cy="98.8" r="3" fill="#3c44d0"/><circle cx="496.9" cy="86.9" r="3" fill="#e05a4c"/><circle cx="529.4" cy="99.8" r="3" fill="#f8e0da"/><circle cx="620.0" cy="124.0" r="3" fill="#ee9484"/><circle cx="308.1" cy="205.0" r="3" fill="#f0a08e"/><circle cx="389.3" cy="176.5" r="3" fill="#b8c4ec"/><circle cx="501.1" cy="123.2" r="3" fill="#f4bcb0"/><circle cx="387.9" cy="170.8" r="3" fill="#8a92ee"/><circle cx="373.7" cy="177.9" r="3" fill="#eef2f2"/><circle cx="458.7" cy="113.6" r="3" fill="#e05a4c"/><circle cx="462.0" cy="137.8" r="3" fill="#f09a8a"/><circle cx="535.6" cy="104.6" r="3" fill="#f4bcb0"/><circle cx="498.7" cy="140.9" r="3" fill="#ee9484"/><circle cx="494.1" cy="136.4" r="3" fill="#f4bcb0"/><circle cx="501.9" cy="129.2" r="3" fill="#f8e0da"/><circle cx="321.7" cy="219.7" r="3" fill="#f4c0b4"/><circle cx="496.8" cy="124.2" r="3" fill="#f09a8a"/><circle cx="577.3" cy="113.7" r="3" fill="#f4bcb0"/><circle cx="515.0" cy="126.1" r="3" fill="#f4bcb0"/><circle cx="541.3" cy="96.9" r="3" fill="#e05a4c"/><circle cx="522.3" cy="114.2" r="3" fill="#e8705f"/><circle cx="556.2" cy="100.0" r="3" fill="#f0f0f0"/><circle cx="521.5" cy="119.5" r="3" fill="#e05a4c"/><circle cx="494.1" cy="125.4" r="3" fill="#e05a4c"/><circle cx="537.5" cy="112.8" r="3" fill="#f8e0da"/><circle cx="566.9" cy="94.2" r="3" fill="#e05a4c"/><circle cx="371.2" cy="188.4" r="3" fill="#eef2f2"/><circle cx="355.5" cy="191.5" r="3" fill="#8a92ee"/><circle cx="501.1" cy="118.1" r="3" fill="#f4bcb0"/><circle cx="360.2" cy="191.5" r="3" fill="#e07060"/><circle cx="362.6" cy="185.4" r="3" fill="#f0a08e"/><circle cx="329.4" cy="197.9" r="3" fill="#c4ccf2"/><circle cx="501.0" cy="100.8" r="3" fill="#e05a4c"/><circle cx="466.4" cy="148.7" r="3" fill="#f8e0da"/><circle cx="471.3" cy="147.3" r="3" fill="#f4bcb0"/><circle cx="372.0" cy="218.0" r="3" fill="#eef2f2"/><circle cx="546.0" cy="78.0" r="3" fill="#9aa0f0"/><circle cx="536.3" cy="137.3" r="3" fill="#e05a4c"/></g>
<line x1="241.40" y1="245.00" x2="652.60" y2="66.10" stroke="#111" stroke-width="1.8"/>
<line x1="490.00" y1="88.00" x2="500.00" y2="100.00" stroke="#999" stroke-width="0.5"/>
<line x1="532.00" y1="86.00" x2="530.00" y2="100.00" stroke="#999" stroke-width="0.5"/>
<line x1="583.00" y1="87.00" x2="570.00" y2="96.00" stroke="#999" stroke-width="0.5"/>
<line x1="625.00" y1="64.00" x2="590.00" y2="96.00" stroke="#999" stroke-width="0.5"/>
<line x1="655.00" y1="87.00" x2="640.00" y2="110.00" stroke="#999" stroke-width="0.5"/>
<line x1="480.00" y1="105.00" x2="500.00" y2="112.00" stroke="#999" stroke-width="0.5"/>
<line x1="447.00" y1="105.00" x2="480.00" y2="118.00" stroke="#999" stroke-width="0.5"/>
<line x1="481.00" y1="126.00" x2="495.00" y2="125.00" stroke="#999" stroke-width="0.5"/>
<line x1="540.00" y1="108.00" x2="520.00" y2="116.00" stroke="#999" stroke-width="0.5"/>
<line x1="528.00" y1="131.00" x2="520.00" y2="122.00" stroke="#999" stroke-width="0.5"/>
<line x1="561.00" y1="128.00" x2="570.00" y2="122.00" stroke="#999" stroke-width="0.5"/>
<line x1="467.00" y1="148.00" x2="482.00" y2="138.00" stroke="#999" stroke-width="0.5"/>
<line x1="506.00" y1="146.00" x2="510.00" y2="136.00" stroke="#999" stroke-width="0.5"/>
<line x1="550.00" y1="146.00" x2="540.00" y2="135.00" stroke="#999" stroke-width="0.5"/>
<line x1="590.00" y1="138.00" x2="560.00" y2="126.00" stroke="#999" stroke-width="0.5"/>
<line x1="620.00" y1="105.00" x2="600.00" y2="110.00" stroke="#999" stroke-width="0.5"/>
<line x1="640.00" y1="121.00" x2="650.00" y2="110.00" stroke="#999" stroke-width="0.5"/>
<line x1="635.00" y1="144.00" x2="622.00" y2="130.00" stroke="#999" stroke-width="0.5"/>
<line x1="507.00" y1="168.00" x2="505.00" y2="150.00" stroke="#999" stroke-width="0.5"/>
<line x1="304.00" y1="169.00" x2="340.00" y2="178.00" stroke="#999" stroke-width="0.5"/>
<line x1="352.00" y1="169.00" x2="356.00" y2="176.00" stroke="#999" stroke-width="0.5"/>
<line x1="395.00" y1="174.00" x2="380.00" y2="176.00" stroke="#999" stroke-width="0.5"/>
<line x1="310.00" y1="189.00" x2="335.00" y2="186.00" stroke="#999" stroke-width="0.5"/>
<line x1="284.00" y1="198.00" x2="310.00" y2="194.00" stroke="#999" stroke-width="0.5"/>
<line x1="392.00" y1="190.00" x2="380.00" y2="190.00" stroke="#999" stroke-width="0.5"/>
<line x1="311.00" y1="208.00" x2="320.00" y2="204.00" stroke="#999" stroke-width="0.5"/>
<line x1="357.00" y1="205.00" x2="360.00" y2="200.00" stroke="#999" stroke-width="0.5"/>
<line x1="277.00" y1="221.00" x2="295.00" y2="215.00" stroke="#999" stroke-width="0.5"/>
<rect x="472.7" y="78.0" width="34.3" height="10.0" rx="2.5" fill="#fff" fill-opacity="0.85" stroke="#cc7a88" stroke-width="0.6"/>
<text x="489.9" y="85.7" font-size="7.6" fill="#a83a48" text-anchor="middle">IL12RB2</text>
<rect x="519.3" y="76.8" width="24.7" height="10.0" rx="2.5" fill="#fff" fill-opacity="0.85" stroke="#cc7a88" stroke-width="0.6"/>
<text x="531.6" y="84.5" font-size="7.6" fill="#a83a48" text-anchor="middle">IL1R1</text>
<rect x="571.0" y="77.3" width="24.0" height="10.0" rx="2.5" fill="#fff" fill-opacity="0.85" stroke="#cc7a88" stroke-width="0.6"/>
<text x="583.0" y="85.0" font-size="7.6" fill="#a83a48" text-anchor="middle">CD14</text>
<rect x="603.4" y="55.0" width="44.0" height="10.0" rx="2.5" fill="#fff" fill-opacity="0.85" stroke="#cc7a88" stroke-width="0.6"/>
<text x="625.4" y="62.7" font-size="7.6" fill="#a83a48" text-anchor="middle">TNFRSF1A</text>
<rect x="635.2" y="77.7" width="41.9" height="10.0" rx="2.5" fill="#fff" fill-opacity="0.85" stroke="#888888" stroke-width="0.6"/>
<text x="656.2" y="85.4" font-size="7.6" fill="#333333" text-anchor="middle">SERPINA3</text>
<rect x="459.8" y="99.7" width="42.7" height="10.0" rx="2.5" fill="#fff" fill-opacity="0.85" stroke="#cc7a88" stroke-width="0.6"/>
<text x="481.1" y="107.4" font-size="7.6" fill="#a83a48" text-anchor="middle">TNFRSF19</text>
<rect x="519.8" y="98.4" width="41.7" height="10.0" rx="2.5" fill="#fff" fill-opacity="0.85" stroke="#e66ae6" stroke-width="0.6"/>
<text x="540.6" y="106.1" font-size="7.6" fill="#e63ce6" text-anchor="middle">SERPINC1</text>
<rect x="427.4" y="99.3" width="20.7" height="10.0" rx="2.5" fill="#fff" fill-opacity="0.85" stroke="#e66ae6" stroke-width="0.6"/>
<text x="437.8" y="107.0" font-size="7.6" fill="#e63ce6" text-anchor="middle">FGA</text>
<rect x="580.6" y="99.2" width="43.6" height="10.0" rx="2.5" fill="#fff" fill-opacity="0.85" stroke="#cc7a88" stroke-width="0.6"/>
<text x="602.4" y="106.9" font-size="7.6" fill="#a83a48" text-anchor="middle">TNFRSF1B</text>
<rect x="448.1" y="121.4" width="31.1" height="10.0" rx="2.5" fill="#fff" fill-opacity="0.85" stroke="#888888" stroke-width="0.6"/>
<text x="463.6" y="129.1" font-size="7.6" fill="#333333" text-anchor="middle">MMP19</text>
<rect x="514.4" y="121.5" width="27.3" height="10.0" rx="2.5" fill="#fff" fill-opacity="0.85" stroke="#cc7a88" stroke-width="0.6"/>
<text x="528.0" y="129.2" font-size="7.6" fill="#a83a48" text-anchor="middle">CCL14</text>
<rect x="554.6" y="120.8" width="13.1" height="10.0" rx="2.5" fill="#fff" fill-opacity="0.85" stroke="#e66ae6" stroke-width="0.6"/>
<text x="561.2" y="128.5" font-size="7.6" fill="#e63ce6" text-anchor="middle">F2</text>
<rect x="615.7" y="121.7" width="39.6" height="10.0" rx="2.5" fill="#fff" fill-opacity="0.85" stroke="#888888" stroke-width="0.6"/>
<text x="635.5" y="129.4" font-size="7.6" fill="#333333" text-anchor="middle">C1QTNF1</text>
<rect x="454.3" y="143.6" width="25.3" height="10.0" rx="2.5" fill="#fff" fill-opacity="0.85" stroke="#cc7a88" stroke-width="0.6"/>
<text x="467.0" y="151.3" font-size="7.6" fill="#a83a48" text-anchor="middle">IL1R2</text>
<rect x="493.3" y="145.6" width="25.5" height="10.0" rx="2.5" fill="#fff" fill-opacity="0.85" stroke="#e66ae6" stroke-width="0.6"/>
<text x="506.0" y="153.3" font-size="7.6" fill="#e63ce6" text-anchor="middle">KNG1</text>
<rect x="533.7" y="145.6" width="33.3" height="10.0" rx="2.5" fill="#fff" fill-opacity="0.85" stroke="#888888" stroke-width="0.6"/>
<text x="550.4" y="153.3" font-size="7.6" fill="#333333" text-anchor="middle">COL6A3</text>
<rect x="579.6" y="137.8" width="20.9" height="10.0" rx="2.5" fill="#fff" fill-opacity="0.85" stroke="#88bb88" stroke-width="0.6"/>
<text x="590.0" y="145.5" font-size="7.6" fill="#4f9a4f" text-anchor="middle">NGF</text>
<rect x="612.9" y="144.0" width="44.1" height="10.0" rx="2.5" fill="#fff" fill-opacity="0.85" stroke="#cc7a88" stroke-width="0.6"/>
<text x="635.0" y="151.7" font-size="7.6" fill="#a83a48" text-anchor="middle">TNFRSF1B</text>
<rect x="493.6" y="167.4" width="27.9" height="10.0" rx="2.5" fill="#fff" fill-opacity="0.85" stroke="#888888" stroke-width="0.6"/>
<text x="507.6" y="175.1" font-size="7.6" fill="#333333" text-anchor="middle">FSTL3</text>
<rect x="289.9" y="159.5" width="28.1" height="10.0" rx="2.5" fill="#fff" fill-opacity="0.85" stroke="#88bb88" stroke-width="0.6"/>
<text x="303.9" y="167.2" font-size="7.6" fill="#4f9a4f" text-anchor="middle">FGF12</text>
<rect x="331.4" y="158.5" width="43.2" height="10.0" rx="2.5" fill="#fff" fill-opacity="0.85" stroke="#88bb88" stroke-width="0.6"/>
<text x="353.0" y="166.2" font-size="7.6" fill="#4f9a4f" text-anchor="middle">LRRC37A2</text>
<rect x="386.5" y="164.0" width="31.5" height="10.0" rx="2.5" fill="#fff" fill-opacity="0.85" stroke="#88bb88" stroke-width="0.6"/>
<text x="402.2" y="171.7" font-size="7.6" fill="#4f9a4f" text-anchor="middle">ROBO2</text>
<rect x="297.2" y="181.4" width="26.6" height="10.0" rx="2.5" fill="#fff" fill-opacity="0.85" stroke="#888888" stroke-width="0.6"/>
<text x="310.5" y="189.1" font-size="7.6" fill="#333333" text-anchor="middle">MMP3</text>
<rect x="245.4" y="192.7" width="39.0" height="10.0" rx="2.5" fill="#fff" fill-opacity="0.85" stroke="#888888" stroke-width="0.6"/>
<text x="264.9" y="200.4" font-size="7.6" fill="#333333" text-anchor="middle">C1QTNF3</text>
<rect x="385.1" y="186.0" width="13.4" height="10.0" rx="2.5" fill="#fff" fill-opacity="0.85" stroke="#e66ae6" stroke-width="0.6"/>
<text x="391.8" y="193.7" font-size="7.6" fill="#e63ce6" text-anchor="middle">F7</text>
<rect x="298.3" y="208.0" width="25.5" height="10.0" rx="2.5" fill="#fff" fill-opacity="0.85" stroke="#88bb88" stroke-width="0.6"/>
<text x="311.1" y="215.7" font-size="7.6" fill="#4f9a4f" text-anchor="middle">BDNF</text>
<rect x="342.8" y="205.0" width="29.7" height="10.0" rx="2.5" fill="#fff" fill-opacity="0.85" stroke="#88bb88" stroke-width="0.6"/>
<text x="357.6" y="212.7" font-size="7.6" fill="#4f9a4f" text-anchor="middle">CDHR1</text>
<rect x="246.0" y="214.3" width="30.7" height="14.0" rx="2.5" fill="#dfe9e2" fill-opacity="1" stroke="#2a2ad8" stroke-width="1.5"/>
<text x="261.4" y="224.0" font-size="7.6" fill="#4f9a4f" text-anchor="middle">CHGB</text>
<text x="207.5" y="261.5" font-size="11" fill="#161616">n=540</text>
<rect x="203.30" y="163.20" width="32.20" height="59.50" fill="#e4ecf5" stroke="#2e3a46" stroke-width="1.2"/>
<text x="219.2" y="172.7" font-size="8.5" fill="#161616" text-anchor="middle">MS-HD</text>
<text x="219.3" y="181.0" font-size="8.5" fill="#161616" text-anchor="middle">diff</text>
<circle cx="213.1" cy="190.2" r="2.7" fill="#3c3cf0" stroke="#777" stroke-width="0.5"/>
<text x="221.7" y="192.8" font-size="9" fill="#161616">-1</text>
<circle cx="213.1" cy="198.9" r="2.7" fill="#ffffff" stroke="#777" stroke-width="0.5"/>
<text x="221.7" y="201.5" font-size="9" fill="#161616">0</text>
<circle cx="213.1" cy="207.7" r="2.7" fill="#ee7a6a" stroke="#777" stroke-width="0.5"/>
<text x="221.7" y="210.3" font-size="9" fill="#161616">1</text>
<circle cx="213.1" cy="216.4" r="2.7" fill="#cc3a3a" stroke="#777" stroke-width="0.5"/>
<text x="221.7" y="219.0" font-size="9" fill="#161616">3</text>
<text x="487.0" y="38.0" font-size="10.5" fill="#161616" font-style="italic">R</text>
<text x="496.0" y="38.0" font-size="10.5" fill="#161616">= 0.93</text>
<text x="553.0" y="38.0" font-size="10.5" fill="#161616" font-style="italic">R</text>
<text x="560.5" y="33.5" font-size="6.5" fill="#161616">2</text>
<text x="567.0" y="38.0" font-size="10.5" fill="#161616">= 0.87</text>
<text x="617.0" y="38.0" font-size="10.5" fill="#161616" font-style="italic">p</text>
<text x="624.5" y="38.0" font-size="10.5" fill="#161616">&lt; 2.2e-16</text>
<rect x="462.30" y="179.60" width="202.60" height="88.10" fill="#fff" stroke="#2626e0" stroke-width="1.5" rx="6"/>
<g fill="#9868b4" fill-opacity="0.65"><circle cx="508.4" cy="225.2" r="1.15"/><circle cx="535.5" cy="221.6" r="1.15"/><circle cx="511.9" cy="245.4" r="1.15"/><circle cx="485.7" cy="218.1" r="1.15"/><circle cx="487.6" cy="213.4" r="1.15"/><circle cx="492.2" cy="208.9" r="1.15"/><circle cx="499.7" cy="214.1" r="1.15"/><circle cx="516.8" cy="216.7" r="1.15"/><circle cx="518.6" cy="210.3" r="1.15"/><circle cx="518.1" cy="214.1" r="1.15"/><circle cx="496.0" cy="205.7" r="1.15"/><circle cx="507.7" cy="219.3" r="1.15"/><circle cx="504.8" cy="208.3" r="1.15"/><circle cx="492.7" cy="225.0" r="1.15"/><circle cx="512.6" cy="209.8" r="1.15"/><circle cx="512.0" cy="209.1" r="1.15"/><circle cx="502.5" cy="216.0" r="1.15"/><circle cx="510.2" cy="206.5" r="1.15"/><circle cx="493.4" cy="214.6" r="1.15"/><circle cx="518.5" cy="203.9" r="1.15"/><circle cx="503.7" cy="220.6" r="1.15"/><circle cx="525.2" cy="222.8" r="1.15"/><circle cx="496.6" cy="204.8" r="1.15"/><circle cx="518.4" cy="218.2" r="1.15"/><circle cx="491.5" cy="207.4" r="1.15"/><circle cx="493.9" cy="209.6" r="1.15"/><circle cx="500.7" cy="216.2" r="1.15"/><circle cx="493.8" cy="213.5" r="1.15"/><circle cx="505.0" cy="209.1" r="1.15"/><circle cx="510.0" cy="206.6" r="1.15"/><circle cx="532.0" cy="222.9" r="1.15"/><circle cx="511.9" cy="212.9" r="1.15"/><circle cx="481.1" cy="199.5" r="1.15"/><circle cx="507.3" cy="203.6" r="1.15"/><circle cx="495.9" cy="215.6" r="1.15"/><circle cx="495.8" cy="206.0" r="1.15"/><circle cx="500.3" cy="225.6" r="1.15"/><circle cx="519.1" cy="206.0" r="1.15"/><circle cx="507.7" cy="215.2" r="1.15"/><circle cx="500.2" cy="215.2" r="1.15"/><circle cx="515.3" cy="204.2" r="1.15"/><circle cx="501.6" cy="193.2" r="1.15"/><circle cx="496.4" cy="211.7" r="1.15"/><circle cx="527.3" cy="202.3" r="1.15"/><circle cx="515.6" cy="209.0" r="1.15"/><circle cx="513.3" cy="207.7" r="1.15"/><circle cx="498.8" cy="219.7" r="1.15"/><circle cx="491.6" cy="195.0" r="1.15"/><circle cx="514.5" cy="212.7" r="1.15"/><circle cx="497.0" cy="202.1" r="1.15"/><circle cx="499.5" cy="216.9" r="1.15"/><circle cx="510.1" cy="211.8" r="1.15"/><circle cx="507.5" cy="229.4" r="1.15"/><circle cx="510.9" cy="219.6" r="1.15"/><circle cx="499.9" cy="208.3" r="1.15"/><circle cx="488.8" cy="209.0" r="1.15"/><circle cx="485.4" cy="207.6" r="1.15"/><circle cx="503.5" cy="210.0" r="1.15"/><circle cx="501.8" cy="196.5" r="1.15"/><circle cx="483.7" cy="213.3" r="1.15"/><circle cx="509.7" cy="219.0" r="1.15"/><circle cx="501.2" cy="200.3" r="1.15"/><circle cx="499.4" cy="204.6" r="1.15"/><circle cx="526.3" cy="208.9" r="1.15"/><circle cx="508.7" cy="208.3" r="1.15"/><circle cx="514.0" cy="218.4" r="1.15"/><circle cx="510.0" cy="214.5" r="1.15"/><circle cx="503.4" cy="219.0" r="1.15"/><circle cx="515.3" cy="202.8" r="1.15"/><circle cx="519.3" cy="240.5" r="1.15"/><circle cx="513.1" cy="213.2" r="1.15"/><circle cx="511.3" cy="210.3" r="1.15"/><circle cx="496.9" cy="217.9" r="1.15"/><circle cx="510.2" cy="203.1" r="1.15"/><circle cx="503.4" cy="203.0" r="1.15"/><circle cx="505.5" cy="204.1" r="1.15"/><circle cx="526.0" cy="224.4" r="1.15"/><circle cx="505.0" cy="211.8" r="1.15"/><circle cx="519.2" cy="220.1" r="1.15"/><circle cx="537.1" cy="207.2" r="1.15"/><circle cx="531.0" cy="223.0" r="1.15"/><circle cx="500.8" cy="215.5" r="1.15"/><circle cx="488.3" cy="222.7" r="1.15"/><circle cx="511.4" cy="206.6" r="1.15"/><circle cx="500.6" cy="210.2" r="1.15"/><circle cx="507.5" cy="230.2" r="1.15"/><circle cx="506.7" cy="215.8" r="1.15"/><circle cx="508.4" cy="196.6" r="1.15"/><circle cx="516.3" cy="204.8" r="1.15"/><circle cx="533.0" cy="207.0" r="1.15"/><circle cx="515.0" cy="203.1" r="1.15"/><circle cx="492.3" cy="206.5" r="1.15"/><circle cx="481.0" cy="211.3" r="1.15"/><circle cx="515.4" cy="213.7" r="1.15"/><circle cx="515.3" cy="212.2" r="1.15"/><circle cx="513.2" cy="207.2" r="1.15"/><circle cx="541.2" cy="214.5" r="1.15"/><circle cx="505.1" cy="223.4" r="1.15"/><circle cx="502.5" cy="211.0" r="1.15"/><circle cx="525.0" cy="214.6" r="1.15"/></g>
<g fill="#e2b24a" fill-opacity="0.65"><circle cx="490.3" cy="200.7" r="1.15"/><circle cx="535.3" cy="212.4" r="1.15"/><circle cx="510.6" cy="194.7" r="1.15"/><circle cx="500.3" cy="207.8" r="1.15"/><circle cx="488.3" cy="206.7" r="1.15"/><circle cx="490.0" cy="215.1" r="1.15"/><circle cx="491.2" cy="200.1" r="1.15"/><circle cx="496.8" cy="212.5" r="1.15"/><circle cx="514.7" cy="212.3" r="1.15"/><circle cx="531.7" cy="220.5" r="1.15"/><circle cx="507.1" cy="212.5" r="1.15"/><circle cx="512.4" cy="217.9" r="1.15"/><circle cx="536.1" cy="217.3" r="1.15"/><circle cx="502.5" cy="214.5" r="1.15"/><circle cx="505.0" cy="200.3" r="1.15"/><circle cx="505.7" cy="212.2" r="1.15"/><circle cx="507.7" cy="210.3" r="1.15"/><circle cx="532.1" cy="230.7" r="1.15"/><circle cx="535.5" cy="222.8" r="1.15"/><circle cx="485.8" cy="215.9" r="1.15"/><circle cx="513.8" cy="211.5" r="1.15"/><circle cx="511.6" cy="221.1" r="1.15"/><circle cx="495.7" cy="224.9" r="1.15"/><circle cx="513.8" cy="209.1" r="1.15"/><circle cx="506.2" cy="208.8" r="1.15"/><circle cx="487.3" cy="201.2" r="1.15"/><circle cx="492.4" cy="216.9" r="1.15"/><circle cx="503.6" cy="226.0" r="1.15"/><circle cx="531.9" cy="205.7" r="1.15"/><circle cx="498.3" cy="200.4" r="1.15"/><circle cx="498.6" cy="199.8" r="1.15"/><circle cx="494.1" cy="199.1" r="1.15"/><circle cx="523.9" cy="208.4" r="1.15"/><circle cx="516.1" cy="220.2" r="1.15"/><circle cx="513.4" cy="225.5" r="1.15"/><circle cx="510.4" cy="215.6" r="1.15"/><circle cx="507.7" cy="203.6" r="1.15"/><circle cx="507.2" cy="213.7" r="1.15"/><circle cx="510.5" cy="220.0" r="1.15"/><circle cx="499.5" cy="214.4" r="1.15"/><circle cx="487.4" cy="216.2" r="1.15"/><circle cx="494.6" cy="215.4" r="1.15"/><circle cx="517.3" cy="214.1" r="1.15"/><circle cx="502.6" cy="215.9" r="1.15"/><circle cx="505.9" cy="212.3" r="1.15"/><circle cx="514.7" cy="218.1" r="1.15"/><circle cx="520.4" cy="228.7" r="1.15"/><circle cx="522.4" cy="224.4" r="1.15"/><circle cx="511.5" cy="202.7" r="1.15"/><circle cx="516.9" cy="234.6" r="1.15"/><circle cx="484.2" cy="197.5" r="1.15"/><circle cx="498.9" cy="219.6" r="1.15"/><circle cx="506.8" cy="205.1" r="1.15"/><circle cx="502.3" cy="221.1" r="1.15"/><circle cx="507.7" cy="211.9" r="1.15"/><circle cx="488.8" cy="206.2" r="1.15"/><circle cx="516.4" cy="216.7" r="1.15"/><circle cx="494.6" cy="213.5" r="1.15"/><circle cx="511.1" cy="207.3" r="1.15"/><circle cx="497.9" cy="210.0" r="1.15"/><circle cx="527.9" cy="214.9" r="1.15"/><circle cx="497.5" cy="215.5" r="1.15"/><circle cx="506.9" cy="239.6" r="1.15"/><circle cx="508.3" cy="219.6" r="1.15"/><circle cx="488.2" cy="195.4" r="1.15"/><circle cx="499.3" cy="234.8" r="1.15"/><circle cx="502.0" cy="207.6" r="1.15"/><circle cx="507.6" cy="207.2" r="1.15"/><circle cx="520.5" cy="199.0" r="1.15"/><circle cx="505.5" cy="217.6" r="1.15"/></g>
<g fill="#7ab4ea" fill-opacity="0.65"><circle cx="515.8" cy="206.0" r="1.15"/><circle cx="519.4" cy="227.1" r="1.15"/><circle cx="482.6" cy="204.6" r="1.15"/><circle cx="530.3" cy="225.1" r="1.15"/><circle cx="505.8" cy="215.0" r="1.15"/><circle cx="483.5" cy="209.7" r="1.15"/><circle cx="513.9" cy="219.7" r="1.15"/><circle cx="489.9" cy="202.3" r="1.15"/><circle cx="535.5" cy="197.3" r="1.15"/><circle cx="522.5" cy="233.0" r="1.15"/><circle cx="523.1" cy="210.1" r="1.15"/><circle cx="513.8" cy="232.1" r="1.15"/><circle cx="505.8" cy="216.1" r="1.15"/><circle cx="513.4" cy="214.3" r="1.15"/><circle cx="503.6" cy="210.2" r="1.15"/><circle cx="491.9" cy="226.3" r="1.15"/><circle cx="504.8" cy="216.0" r="1.15"/><circle cx="515.8" cy="209.1" r="1.15"/><circle cx="485.6" cy="205.9" r="1.15"/><circle cx="487.6" cy="203.3" r="1.15"/><circle cx="491.1" cy="208.6" r="1.15"/><circle cx="508.0" cy="221.3" r="1.15"/><circle cx="495.3" cy="202.4" r="1.15"/><circle cx="492.9" cy="221.4" r="1.15"/><circle cx="512.3" cy="214.8" r="1.15"/><circle cx="501.5" cy="220.0" r="1.15"/><circle cx="502.5" cy="220.6" r="1.15"/><circle cx="526.2" cy="219.9" r="1.15"/><circle cx="503.1" cy="218.3" r="1.15"/><circle cx="497.4" cy="209.5" r="1.15"/><circle cx="514.6" cy="202.1" r="1.15"/><circle cx="535.9" cy="213.4" r="1.15"/><circle cx="516.5" cy="212.4" r="1.15"/><circle cx="508.7" cy="210.7" r="1.15"/><circle cx="532.6" cy="207.1" r="1.15"/><circle cx="500.2" cy="224.6" r="1.15"/><circle cx="518.0" cy="207.5" r="1.15"/><circle cx="501.1" cy="216.6" r="1.15"/><circle cx="510.7" cy="208.6" r="1.15"/><circle cx="531.0" cy="210.9" r="1.15"/><circle cx="528.1" cy="218.9" r="1.15"/><circle cx="494.1" cy="220.8" r="1.15"/><circle cx="520.6" cy="224.9" r="1.15"/><circle cx="492.7" cy="218.7" r="1.15"/><circle cx="487.3" cy="219.7" r="1.15"/><circle cx="502.4" cy="202.4" r="1.15"/><circle cx="496.1" cy="212.0" r="1.15"/><circle cx="520.4" cy="212.8" r="1.15"/><circle cx="526.7" cy="230.1" r="1.15"/><circle cx="527.2" cy="207.1" r="1.15"/><circle cx="519.5" cy="204.3" r="1.15"/><circle cx="525.9" cy="214.0" r="1.15"/><circle cx="505.5" cy="208.2" r="1.15"/><circle cx="511.9" cy="220.7" r="1.15"/><circle cx="522.3" cy="222.4" r="1.15"/><circle cx="497.8" cy="195.8" r="1.15"/><circle cx="489.9" cy="207.5" r="1.15"/><circle cx="490.9" cy="207.9" r="1.15"/><circle cx="524.1" cy="216.7" r="1.15"/><circle cx="502.5" cy="197.9" r="1.15"/><circle cx="506.5" cy="219.0" r="1.15"/><circle cx="511.9" cy="226.4" r="1.15"/><circle cx="520.5" cy="213.1" r="1.15"/><circle cx="507.6" cy="205.2" r="1.15"/><circle cx="493.0" cy="209.8" r="1.15"/><circle cx="503.3" cy="199.5" r="1.15"/><circle cx="509.5" cy="216.8" r="1.15"/><circle cx="507.5" cy="201.2" r="1.15"/><circle cx="499.4" cy="219.5" r="1.15"/><circle cx="508.9" cy="204.7" r="1.15"/><circle cx="526.8" cy="228.7" r="1.15"/><circle cx="505.8" cy="195.3" r="1.15"/><circle cx="513.4" cy="225.5" r="1.15"/><circle cx="510.4" cy="220.7" r="1.15"/><circle cx="533.6" cy="222.9" r="1.15"/><circle cx="521.0" cy="213.6" r="1.15"/><circle cx="488.6" cy="201.7" r="1.15"/><circle cx="502.1" cy="204.4" r="1.15"/><circle cx="486.8" cy="209.2" r="1.15"/><circle cx="532.7" cy="219.7" r="1.15"/><circle cx="513.3" cy="211.4" r="1.15"/><circle cx="507.6" cy="217.0" r="1.15"/><circle cx="519.0" cy="212.4" r="1.15"/><circle cx="504.3" cy="207.5" r="1.15"/><circle cx="519.1" cy="195.4" r="1.15"/><circle cx="494.3" cy="218.3" r="1.15"/><circle cx="498.1" cy="211.7" r="1.15"/><circle cx="505.3" cy="205.0" r="1.15"/><circle cx="525.9" cy="225.7" r="1.15"/><circle cx="527.6" cy="222.8" r="1.15"/><circle cx="518.1" cy="195.7" r="1.15"/><circle cx="519.5" cy="217.9" r="1.15"/><circle cx="495.6" cy="222.5" r="1.15"/><circle cx="518.2" cy="229.7" r="1.15"/><circle cx="516.8" cy="205.1" r="1.15"/><circle cx="518.6" cy="229.2" r="1.15"/><circle cx="482.3" cy="210.1" r="1.15"/><circle cx="516.0" cy="219.3" r="1.15"/><circle cx="518.4" cy="208.4" r="1.15"/><circle cx="520.6" cy="220.6" r="1.15"/><circle cx="515.2" cy="216.7" r="1.15"/><circle cx="517.4" cy="214.2" r="1.15"/><circle cx="484.1" cy="215.3" r="1.15"/><circle cx="509.7" cy="217.1" r="1.15"/><circle cx="509.5" cy="215.0" r="1.15"/><circle cx="496.6" cy="211.9" r="1.15"/><circle cx="490.9" cy="199.9" r="1.15"/><circle cx="516.6" cy="209.1" r="1.15"/><circle cx="500.1" cy="212.8" r="1.15"/><circle cx="490.7" cy="206.4" r="1.15"/><circle cx="524.1" cy="222.5" r="1.15"/><circle cx="487.8" cy="214.6" r="1.15"/><circle cx="510.1" cy="222.4" r="1.15"/><circle cx="508.8" cy="219.0" r="1.15"/><circle cx="527.6" cy="217.0" r="1.15"/><circle cx="491.8" cy="207.0" r="1.15"/><circle cx="509.3" cy="204.0" r="1.15"/><circle cx="517.9" cy="211.9" r="1.15"/><circle cx="509.7" cy="217.6" r="1.15"/><circle cx="502.0" cy="222.8" r="1.15"/><circle cx="494.4" cy="213.5" r="1.15"/><circle cx="521.5" cy="229.9" r="1.15"/><circle cx="548.4" cy="219.4" r="1.15"/><circle cx="489.2" cy="211.2" r="1.15"/><circle cx="516.6" cy="217.4" r="1.15"/><circle cx="491.3" cy="198.9" r="1.15"/><circle cx="508.4" cy="214.9" r="1.15"/><circle cx="491.7" cy="207.8" r="1.15"/><circle cx="523.3" cy="197.6" r="1.15"/><circle cx="526.2" cy="220.2" r="1.15"/><circle cx="494.9" cy="210.6" r="1.15"/><circle cx="512.9" cy="212.2" r="1.15"/><circle cx="494.5" cy="218.2" r="1.15"/><circle cx="482.6" cy="204.3" r="1.15"/><circle cx="515.1" cy="213.6" r="1.15"/><circle cx="527.6" cy="245.0" r="1.15"/><circle cx="518.7" cy="221.8" r="1.15"/></g>
<g fill="#e2b24a" fill-opacity="0.65"><circle cx="495.4" cy="209.3" r="1.15"/><circle cx="497.0" cy="214.5" r="1.15"/><circle cx="497.0" cy="208.9" r="1.15"/><circle cx="496.8" cy="201.6" r="1.15"/><circle cx="490.0" cy="198.7" r="1.15"/><circle cx="502.5" cy="199.4" r="1.15"/><circle cx="487.2" cy="201.7" r="1.15"/><circle cx="489.4" cy="218.0" r="1.15"/><circle cx="507.1" cy="208.8" r="1.15"/><circle cx="485.1" cy="204.3" r="1.15"/><circle cx="498.7" cy="215.5" r="1.15"/><circle cx="485.8" cy="215.1" r="1.15"/><circle cx="497.6" cy="207.5" r="1.15"/><circle cx="496.2" cy="196.4" r="1.15"/><circle cx="482.9" cy="197.1" r="1.15"/><circle cx="498.5" cy="213.1" r="1.15"/><circle cx="494.4" cy="206.8" r="1.15"/><circle cx="502.6" cy="216.7" r="1.15"/><circle cx="489.5" cy="208.2" r="1.15"/><circle cx="495.2" cy="230.3" r="1.15"/><circle cx="504.2" cy="207.7" r="1.15"/><circle cx="501.8" cy="207.1" r="1.15"/><circle cx="491.0" cy="206.1" r="1.15"/><circle cx="487.3" cy="197.2" r="1.15"/><circle cx="514.9" cy="197.8" r="1.15"/><circle cx="513.5" cy="210.1" r="1.15"/><circle cx="508.1" cy="204.0" r="1.15"/><circle cx="513.3" cy="207.2" r="1.15"/><circle cx="499.0" cy="216.0" r="1.15"/><circle cx="492.9" cy="205.7" r="1.15"/><circle cx="491.2" cy="203.6" r="1.15"/><circle cx="496.2" cy="197.5" r="1.15"/><circle cx="503.8" cy="194.8" r="1.15"/><circle cx="498.9" cy="205.3" r="1.15"/><circle cx="480.8" cy="211.9" r="1.15"/></g>
<g fill="#9868b4" fill-opacity="0.65"><circle cx="496.9" cy="208.1" r="1.15"/><circle cx="497.8" cy="204.0" r="1.15"/><circle cx="501.2" cy="199.2" r="1.15"/><circle cx="500.9" cy="205.9" r="1.15"/><circle cx="492.3" cy="209.8" r="1.15"/><circle cx="496.5" cy="207.6" r="1.15"/><circle cx="488.4" cy="206.7" r="1.15"/><circle cx="508.0" cy="197.5" r="1.15"/><circle cx="484.7" cy="196.0" r="1.15"/><circle cx="501.3" cy="214.6" r="1.15"/><circle cx="507.1" cy="198.4" r="1.15"/><circle cx="492.5" cy="210.7" r="1.15"/><circle cx="481.4" cy="196.0" r="1.15"/></g>
<g fill="#7ab4ea" fill-opacity="0.65"><circle cx="509.1" cy="199.8" r="1.15"/><circle cx="510.2" cy="200.2" r="1.15"/><circle cx="484.8" cy="197.9" r="1.15"/><circle cx="491.2" cy="206.5" r="1.15"/><circle cx="504.9" cy="201.1" r="1.15"/><circle cx="508.4" cy="208.9" r="1.15"/><circle cx="509.1" cy="202.8" r="1.15"/><circle cx="502.4" cy="206.7" r="1.15"/><circle cx="496.5" cy="198.9" r="1.15"/><circle cx="494.0" cy="209.1" r="1.15"/><circle cx="500.1" cy="207.4" r="1.15"/><circle cx="496.7" cy="210.9" r="1.15"/><circle cx="496.8" cy="207.8" r="1.15"/><circle cx="486.0" cy="195.8" r="1.15"/><circle cx="508.5" cy="195.3" r="1.15"/><circle cx="488.2" cy="214.8" r="1.15"/><circle cx="517.6" cy="202.8" r="1.15"/><circle cx="495.1" cy="206.6" r="1.15"/><circle cx="500.8" cy="194.6" r="1.15"/><circle cx="486.4" cy="201.5" r="1.15"/><circle cx="486.5" cy="204.2" r="1.15"/><circle cx="495.6" cy="203.4" r="1.15"/><circle cx="497.5" cy="211.6" r="1.15"/></g>
<line x1="478.40" y1="184.20" x2="478.40" y2="252.40" stroke="#333" stroke-width="0.9"/>
<line x1="478.40" y1="252.40" x2="558.90" y2="252.40" stroke="#333" stroke-width="0.9"/>
<line x1="482.20" y1="205.70" x2="555.30" y2="222.80" stroke="#111" stroke-width="1.3"/>
<text x="482.7" y="189.6" font-size="6" fill="#161616" font-style="italic">R</text>
<text x="488.6" y="189.6" font-size="6" fill="#161616">= -0.37</text>
<text x="519.0" y="189.6" font-size="6" fill="#161616" font-style="italic">p</text>
<text x="523.2" y="189.6" font-size="6" fill="#161616">&lt; 2.2e-16</text>
<text x="483.0" y="250.4" font-size="8.4" fill="#161616">n=462</text>
<text x="519.0" y="264.7" font-size="8.3" fill="#161616" text-anchor="middle">Brain damage</text>
<text x="474.5" y="217.9" font-size="8.3" fill="#161616" text-anchor="middle" transform="rotate(-90 474.5 217.9)">CHGB</text>
<g fill="#7ab4ea" fill-opacity="0.65"><circle cx="590.8" cy="199.0" r="1.15"/><circle cx="639.6" cy="209.2" r="1.15"/><circle cx="631.8" cy="215.9" r="1.15"/><circle cx="604.6" cy="232.1" r="1.15"/><circle cx="633.8" cy="211.3" r="1.15"/><circle cx="624.0" cy="234.9" r="1.15"/><circle cx="626.0" cy="216.6" r="1.15"/><circle cx="603.7" cy="221.1" r="1.15"/><circle cx="641.7" cy="217.2" r="1.15"/><circle cx="611.7" cy="195.0" r="1.15"/><circle cx="598.7" cy="221.7" r="1.15"/><circle cx="621.0" cy="215.4" r="1.15"/><circle cx="613.9" cy="224.9" r="1.15"/><circle cx="617.0" cy="208.2" r="1.15"/><circle cx="636.1" cy="210.3" r="1.15"/><circle cx="647.2" cy="215.4" r="1.15"/><circle cx="592.0" cy="213.2" r="1.15"/><circle cx="622.6" cy="220.4" r="1.15"/><circle cx="619.0" cy="196.7" r="1.15"/><circle cx="602.5" cy="201.7" r="1.15"/><circle cx="593.8" cy="198.0" r="1.15"/><circle cx="591.6" cy="224.7" r="1.15"/><circle cx="629.2" cy="229.4" r="1.15"/><circle cx="584.7" cy="211.3" r="1.15"/><circle cx="610.6" cy="206.1" r="1.15"/><circle cx="589.9" cy="198.3" r="1.15"/><circle cx="599.0" cy="205.1" r="1.15"/><circle cx="604.6" cy="207.8" r="1.15"/><circle cx="614.2" cy="220.0" r="1.15"/><circle cx="597.9" cy="209.0" r="1.15"/><circle cx="597.0" cy="200.3" r="1.15"/><circle cx="611.7" cy="222.4" r="1.15"/><circle cx="615.2" cy="209.2" r="1.15"/><circle cx="616.2" cy="229.9" r="1.15"/><circle cx="609.9" cy="209.9" r="1.15"/><circle cx="610.3" cy="209.0" r="1.15"/><circle cx="617.0" cy="225.9" r="1.15"/><circle cx="620.9" cy="210.2" r="1.15"/><circle cx="602.9" cy="214.0" r="1.15"/><circle cx="595.1" cy="203.8" r="1.15"/><circle cx="607.7" cy="213.9" r="1.15"/><circle cx="631.4" cy="207.5" r="1.15"/><circle cx="613.7" cy="221.3" r="1.15"/><circle cx="624.2" cy="226.8" r="1.15"/><circle cx="613.3" cy="209.9" r="1.15"/><circle cx="621.7" cy="214.8" r="1.15"/><circle cx="638.2" cy="212.2" r="1.15"/><circle cx="613.5" cy="220.7" r="1.15"/><circle cx="624.7" cy="201.3" r="1.15"/><circle cx="627.8" cy="206.6" r="1.15"/><circle cx="632.3" cy="214.1" r="1.15"/><circle cx="599.5" cy="217.4" r="1.15"/><circle cx="607.4" cy="211.8" r="1.15"/><circle cx="583.1" cy="225.5" r="1.15"/><circle cx="602.6" cy="201.5" r="1.15"/><circle cx="628.1" cy="218.1" r="1.15"/><circle cx="606.0" cy="226.5" r="1.15"/><circle cx="618.9" cy="218.7" r="1.15"/><circle cx="616.7" cy="213.3" r="1.15"/><circle cx="629.5" cy="221.2" r="1.15"/><circle cx="596.2" cy="206.4" r="1.15"/><circle cx="605.0" cy="221.0" r="1.15"/><circle cx="638.4" cy="223.2" r="1.15"/><circle cx="598.3" cy="214.6" r="1.15"/><circle cx="581.0" cy="215.1" r="1.15"/><circle cx="639.9" cy="210.5" r="1.15"/><circle cx="589.8" cy="224.5" r="1.15"/><circle cx="582.9" cy="200.1" r="1.15"/><circle cx="607.1" cy="201.5" r="1.15"/><circle cx="583.3" cy="215.0" r="1.15"/><circle cx="605.1" cy="208.8" r="1.15"/><circle cx="606.8" cy="213.0" r="1.15"/><circle cx="603.9" cy="216.9" r="1.15"/><circle cx="630.8" cy="198.3" r="1.15"/><circle cx="603.9" cy="214.3" r="1.15"/><circle cx="635.3" cy="223.1" r="1.15"/><circle cx="597.3" cy="193.2" r="1.15"/><circle cx="606.8" cy="202.3" r="1.15"/><circle cx="628.3" cy="193.9" r="1.15"/><circle cx="601.3" cy="200.6" r="1.15"/><circle cx="596.3" cy="220.1" r="1.15"/><circle cx="625.0" cy="210.0" r="1.15"/><circle cx="639.1" cy="221.7" r="1.15"/><circle cx="649.0" cy="210.3" r="1.15"/><circle cx="627.5" cy="200.3" r="1.15"/><circle cx="617.6" cy="223.6" r="1.15"/><circle cx="603.3" cy="214.9" r="1.15"/><circle cx="643.9" cy="202.9" r="1.15"/><circle cx="605.5" cy="214.3" r="1.15"/><circle cx="609.2" cy="224.9" r="1.15"/><circle cx="624.6" cy="224.9" r="1.15"/><circle cx="629.9" cy="196.7" r="1.15"/><circle cx="620.9" cy="224.8" r="1.15"/><circle cx="627.2" cy="211.3" r="1.15"/><circle cx="615.6" cy="226.9" r="1.15"/><circle cx="605.7" cy="208.4" r="1.15"/><circle cx="609.1" cy="194.3" r="1.15"/><circle cx="636.3" cy="210.9" r="1.15"/><circle cx="603.5" cy="201.0" r="1.15"/><circle cx="618.6" cy="211.4" r="1.15"/><circle cx="595.3" cy="211.5" r="1.15"/><circle cx="584.2" cy="209.3" r="1.15"/><circle cx="600.3" cy="214.2" r="1.15"/><circle cx="594.8" cy="207.9" r="1.15"/><circle cx="626.1" cy="218.3" r="1.15"/><circle cx="603.8" cy="234.4" r="1.15"/><circle cx="633.2" cy="206.2" r="1.15"/><circle cx="615.9" cy="212.9" r="1.15"/><circle cx="580.7" cy="218.9" r="1.15"/><circle cx="627.1" cy="208.8" r="1.15"/><circle cx="597.5" cy="212.0" r="1.15"/><circle cx="627.8" cy="217.7" r="1.15"/><circle cx="612.4" cy="202.9" r="1.15"/><circle cx="624.6" cy="222.6" r="1.15"/><circle cx="588.5" cy="211.4" r="1.15"/><circle cx="587.0" cy="213.8" r="1.15"/><circle cx="596.8" cy="219.0" r="1.15"/><circle cx="652.6" cy="207.1" r="1.15"/><circle cx="608.5" cy="217.1" r="1.15"/><circle cx="629.4" cy="218.6" r="1.15"/><circle cx="594.4" cy="208.6" r="1.15"/><circle cx="605.1" cy="222.8" r="1.15"/></g>
<g fill="#e2b24a" fill-opacity="0.65"><circle cx="589.0" cy="193.3" r="1.15"/><circle cx="609.4" cy="211.0" r="1.15"/><circle cx="629.3" cy="228.0" r="1.15"/><circle cx="605.1" cy="208.0" r="1.15"/><circle cx="620.5" cy="208.1" r="1.15"/><circle cx="648.3" cy="213.5" r="1.15"/><circle cx="649.3" cy="211.5" r="1.15"/><circle cx="605.0" cy="215.7" r="1.15"/><circle cx="609.9" cy="211.2" r="1.15"/><circle cx="630.9" cy="235.4" r="1.15"/><circle cx="581.3" cy="206.4" r="1.15"/><circle cx="654.3" cy="221.5" r="1.15"/><circle cx="606.0" cy="219.1" r="1.15"/><circle cx="622.7" cy="213.0" r="1.15"/><circle cx="593.9" cy="212.9" r="1.15"/><circle cx="627.1" cy="219.8" r="1.15"/><circle cx="607.9" cy="215.1" r="1.15"/><circle cx="615.4" cy="197.9" r="1.15"/><circle cx="634.6" cy="215.1" r="1.15"/><circle cx="611.2" cy="209.7" r="1.15"/><circle cx="587.7" cy="214.6" r="1.15"/><circle cx="602.0" cy="198.7" r="1.15"/><circle cx="599.3" cy="211.9" r="1.15"/><circle cx="622.5" cy="219.2" r="1.15"/><circle cx="615.0" cy="232.8" r="1.15"/><circle cx="636.2" cy="217.4" r="1.15"/><circle cx="632.8" cy="207.5" r="1.15"/><circle cx="607.4" cy="222.1" r="1.15"/><circle cx="597.9" cy="203.5" r="1.15"/><circle cx="618.7" cy="195.2" r="1.15"/><circle cx="614.7" cy="205.3" r="1.15"/><circle cx="634.4" cy="225.1" r="1.15"/><circle cx="596.1" cy="208.6" r="1.15"/><circle cx="611.2" cy="199.2" r="1.15"/><circle cx="629.2" cy="206.0" r="1.15"/><circle cx="619.1" cy="207.7" r="1.15"/><circle cx="605.5" cy="201.8" r="1.15"/><circle cx="595.9" cy="210.5" r="1.15"/><circle cx="583.8" cy="200.3" r="1.15"/><circle cx="609.7" cy="206.8" r="1.15"/><circle cx="624.7" cy="220.8" r="1.15"/><circle cx="610.1" cy="223.8" r="1.15"/><circle cx="612.1" cy="200.5" r="1.15"/><circle cx="635.0" cy="221.5" r="1.15"/><circle cx="629.1" cy="222.7" r="1.15"/><circle cx="626.7" cy="205.9" r="1.15"/><circle cx="606.6" cy="205.3" r="1.15"/><circle cx="601.7" cy="218.6" r="1.15"/><circle cx="610.9" cy="202.4" r="1.15"/><circle cx="623.8" cy="214.5" r="1.15"/><circle cx="620.5" cy="216.1" r="1.15"/><circle cx="620.0" cy="218.7" r="1.15"/><circle cx="619.8" cy="219.4" r="1.15"/><circle cx="631.7" cy="223.5" r="1.15"/><circle cx="598.7" cy="197.0" r="1.15"/><circle cx="613.2" cy="214.2" r="1.15"/><circle cx="614.0" cy="212.0" r="1.15"/><circle cx="615.4" cy="202.7" r="1.15"/><circle cx="595.4" cy="209.3" r="1.15"/><circle cx="617.5" cy="211.3" r="1.15"/><circle cx="629.2" cy="216.7" r="1.15"/><circle cx="611.4" cy="221.7" r="1.15"/><circle cx="604.6" cy="210.5" r="1.15"/><circle cx="583.1" cy="198.3" r="1.15"/><circle cx="613.5" cy="216.8" r="1.15"/><circle cx="608.3" cy="216.3" r="1.15"/><circle cx="600.0" cy="207.5" r="1.15"/><circle cx="610.3" cy="209.0" r="1.15"/><circle cx="608.1" cy="220.6" r="1.15"/><circle cx="616.5" cy="215.0" r="1.15"/><circle cx="609.9" cy="226.0" r="1.15"/><circle cx="617.7" cy="213.1" r="1.15"/><circle cx="601.5" cy="217.4" r="1.15"/><circle cx="630.3" cy="220.4" r="1.15"/><circle cx="614.5" cy="207.7" r="1.15"/><circle cx="625.2" cy="206.9" r="1.15"/><circle cx="593.3" cy="222.5" r="1.15"/><circle cx="607.0" cy="211.7" r="1.15"/><circle cx="622.1" cy="229.1" r="1.15"/><circle cx="617.4" cy="203.8" r="1.15"/><circle cx="588.1" cy="208.7" r="1.15"/><circle cx="599.9" cy="216.1" r="1.15"/><circle cx="597.4" cy="209.5" r="1.15"/><circle cx="613.7" cy="197.2" r="1.15"/><circle cx="594.7" cy="207.7" r="1.15"/><circle cx="621.4" cy="208.7" r="1.15"/><circle cx="624.6" cy="208.7" r="1.15"/><circle cx="613.7" cy="214.4" r="1.15"/><circle cx="589.4" cy="204.8" r="1.15"/><circle cx="601.3" cy="196.7" r="1.15"/><circle cx="603.8" cy="211.8" r="1.15"/><circle cx="616.4" cy="215.9" r="1.15"/><circle cx="618.7" cy="215.3" r="1.15"/><circle cx="599.5" cy="196.6" r="1.15"/><circle cx="609.3" cy="203.9" r="1.15"/><circle cx="627.4" cy="209.0" r="1.15"/><circle cx="624.6" cy="203.9" r="1.15"/><circle cx="624.8" cy="216.6" r="1.15"/><circle cx="595.9" cy="218.1" r="1.15"/><circle cx="593.0" cy="213.9" r="1.15"/><circle cx="615.9" cy="222.1" r="1.15"/><circle cx="620.9" cy="208.7" r="1.15"/><circle cx="604.1" cy="208.2" r="1.15"/><circle cx="649.2" cy="205.0" r="1.15"/><circle cx="619.6" cy="222.0" r="1.15"/><circle cx="609.7" cy="207.8" r="1.15"/><circle cx="613.3" cy="224.4" r="1.15"/><circle cx="584.0" cy="204.9" r="1.15"/><circle cx="584.0" cy="211.0" r="1.15"/><circle cx="587.5" cy="198.8" r="1.15"/><circle cx="609.9" cy="213.4" r="1.15"/></g>
<g fill="#9868b4" fill-opacity="0.65"><circle cx="598.7" cy="212.1" r="1.15"/><circle cx="639.1" cy="215.0" r="1.15"/><circle cx="599.8" cy="227.1" r="1.15"/><circle cx="643.5" cy="217.0" r="1.15"/><circle cx="627.5" cy="210.4" r="1.15"/><circle cx="590.1" cy="228.0" r="1.15"/><circle cx="634.2" cy="213.2" r="1.15"/><circle cx="616.0" cy="211.2" r="1.15"/><circle cx="620.4" cy="206.3" r="1.15"/><circle cx="597.2" cy="211.6" r="1.15"/><circle cx="636.5" cy="211.1" r="1.15"/><circle cx="619.2" cy="194.0" r="1.15"/><circle cx="596.4" cy="196.7" r="1.15"/><circle cx="607.9" cy="204.2" r="1.15"/><circle cx="636.6" cy="209.8" r="1.15"/><circle cx="592.7" cy="196.5" r="1.15"/><circle cx="632.9" cy="211.0" r="1.15"/><circle cx="588.7" cy="202.8" r="1.15"/><circle cx="613.7" cy="214.6" r="1.15"/><circle cx="593.9" cy="219.1" r="1.15"/><circle cx="600.0" cy="215.1" r="1.15"/><circle cx="637.5" cy="226.4" r="1.15"/><circle cx="596.3" cy="208.0" r="1.15"/><circle cx="644.1" cy="210.7" r="1.15"/><circle cx="622.0" cy="200.4" r="1.15"/><circle cx="627.2" cy="223.5" r="1.15"/><circle cx="620.6" cy="212.9" r="1.15"/><circle cx="625.6" cy="207.5" r="1.15"/><circle cx="632.9" cy="212.8" r="1.15"/><circle cx="590.2" cy="234.7" r="1.15"/><circle cx="605.4" cy="223.9" r="1.15"/><circle cx="592.2" cy="208.0" r="1.15"/><circle cx="615.4" cy="202.5" r="1.15"/><circle cx="605.4" cy="198.4" r="1.15"/><circle cx="627.1" cy="208.6" r="1.15"/><circle cx="624.8" cy="221.7" r="1.15"/><circle cx="620.3" cy="214.1" r="1.15"/><circle cx="617.6" cy="214.0" r="1.15"/><circle cx="626.8" cy="224.4" r="1.15"/><circle cx="628.1" cy="223.8" r="1.15"/><circle cx="588.0" cy="208.2" r="1.15"/><circle cx="598.1" cy="203.8" r="1.15"/><circle cx="601.8" cy="217.2" r="1.15"/><circle cx="636.1" cy="209.4" r="1.15"/><circle cx="646.7" cy="224.3" r="1.15"/><circle cx="621.2" cy="223.1" r="1.15"/><circle cx="634.3" cy="215.5" r="1.15"/><circle cx="612.2" cy="216.0" r="1.15"/><circle cx="594.8" cy="197.1" r="1.15"/><circle cx="608.3" cy="228.9" r="1.15"/><circle cx="640.2" cy="221.1" r="1.15"/><circle cx="602.1" cy="206.5" r="1.15"/><circle cx="629.2" cy="208.3" r="1.15"/><circle cx="635.1" cy="216.9" r="1.15"/><circle cx="610.0" cy="218.1" r="1.15"/><circle cx="605.3" cy="220.0" r="1.15"/><circle cx="626.4" cy="218.1" r="1.15"/><circle cx="585.1" cy="204.3" r="1.15"/><circle cx="613.0" cy="215.5" r="1.15"/><circle cx="595.6" cy="215.3" r="1.15"/><circle cx="616.7" cy="221.3" r="1.15"/><circle cx="593.5" cy="216.9" r="1.15"/><circle cx="629.9" cy="222.4" r="1.15"/><circle cx="598.6" cy="207.0" r="1.15"/><circle cx="642.7" cy="215.6" r="1.15"/><circle cx="625.6" cy="214.1" r="1.15"/><circle cx="606.1" cy="211.3" r="1.15"/><circle cx="615.4" cy="202.4" r="1.15"/><circle cx="630.7" cy="227.2" r="1.15"/><circle cx="619.8" cy="216.8" r="1.15"/><circle cx="601.2" cy="203.7" r="1.15"/><circle cx="614.5" cy="202.4" r="1.15"/><circle cx="607.0" cy="211.5" r="1.15"/></g>
<g fill="#e2b24a" fill-opacity="0.65"><circle cx="588.0" cy="204.5" r="1.15"/><circle cx="584.2" cy="212.0" r="1.15"/><circle cx="599.7" cy="194.0" r="1.15"/><circle cx="581.8" cy="201.7" r="1.15"/><circle cx="593.4" cy="215.7" r="1.15"/><circle cx="599.5" cy="199.1" r="1.15"/><circle cx="591.2" cy="205.0" r="1.15"/><circle cx="589.9" cy="201.7" r="1.15"/><circle cx="582.1" cy="203.1" r="1.15"/><circle cx="603.4" cy="205.1" r="1.15"/><circle cx="591.0" cy="212.2" r="1.15"/><circle cx="603.0" cy="198.6" r="1.15"/><circle cx="590.9" cy="199.2" r="1.15"/><circle cx="590.1" cy="204.4" r="1.15"/><circle cx="604.2" cy="196.5" r="1.15"/><circle cx="595.3" cy="202.8" r="1.15"/><circle cx="605.3" cy="198.9" r="1.15"/><circle cx="588.6" cy="208.5" r="1.15"/><circle cx="598.0" cy="204.0" r="1.15"/><circle cx="598.1" cy="196.5" r="1.15"/><circle cx="592.5" cy="197.6" r="1.15"/><circle cx="594.8" cy="198.9" r="1.15"/><circle cx="596.2" cy="200.1" r="1.15"/><circle cx="603.6" cy="210.1" r="1.15"/><circle cx="589.6" cy="200.7" r="1.15"/><circle cx="590.1" cy="204.5" r="1.15"/><circle cx="589.4" cy="215.0" r="1.15"/><circle cx="602.7" cy="201.1" r="1.15"/><circle cx="591.1" cy="209.9" r="1.15"/><circle cx="594.7" cy="204.7" r="1.15"/><circle cx="605.9" cy="210.7" r="1.15"/><circle cx="611.3" cy="199.2" r="1.15"/><circle cx="602.7" cy="218.8" r="1.15"/><circle cx="584.9" cy="204.4" r="1.15"/><circle cx="591.7" cy="206.8" r="1.15"/><circle cx="591.1" cy="201.7" r="1.15"/><circle cx="598.5" cy="205.8" r="1.15"/><circle cx="585.4" cy="196.7" r="1.15"/><circle cx="596.9" cy="201.6" r="1.15"/><circle cx="580.4" cy="208.1" r="1.15"/><circle cx="592.7" cy="214.1" r="1.15"/><circle cx="590.2" cy="219.0" r="1.15"/><circle cx="587.8" cy="197.8" r="1.15"/><circle cx="599.0" cy="209.5" r="1.15"/><circle cx="592.5" cy="198.3" r="1.15"/><circle cx="594.5" cy="200.8" r="1.15"/><circle cx="584.8" cy="205.7" r="1.15"/><circle cx="604.8" cy="207.5" r="1.15"/><circle cx="589.9" cy="203.4" r="1.15"/><circle cx="601.8" cy="210.8" r="1.15"/><circle cx="596.1" cy="208.5" r="1.15"/><circle cx="602.9" cy="200.4" r="1.15"/><circle cx="592.3" cy="208.4" r="1.15"/><circle cx="597.6" cy="195.8" r="1.15"/><circle cx="591.0" cy="209.7" r="1.15"/><circle cx="582.4" cy="201.0" r="1.15"/><circle cx="585.0" cy="194.7" r="1.15"/><circle cx="601.5" cy="211.8" r="1.15"/><circle cx="605.7" cy="210.8" r="1.15"/><circle cx="593.4" cy="205.2" r="1.15"/><circle cx="596.5" cy="199.5" r="1.15"/><circle cx="601.6" cy="201.5" r="1.15"/><circle cx="601.5" cy="212.3" r="1.15"/><circle cx="614.6" cy="216.0" r="1.15"/><circle cx="608.1" cy="198.8" r="1.15"/><circle cx="593.3" cy="194.6" r="1.15"/><circle cx="597.7" cy="212.5" r="1.15"/><circle cx="605.1" cy="208.9" r="1.15"/><circle cx="599.7" cy="205.1" r="1.15"/><circle cx="605.3" cy="208.5" r="1.15"/><circle cx="601.3" cy="209.0" r="1.15"/><circle cx="603.8" cy="203.1" r="1.15"/></g>
<g fill="#9868b4" fill-opacity="0.65"><circle cx="589.7" cy="197.7" r="1.15"/><circle cx="597.1" cy="204.6" r="1.15"/><circle cx="581.1" cy="209.3" r="1.15"/><circle cx="581.8" cy="207.0" r="1.15"/><circle cx="598.7" cy="204.5" r="1.15"/><circle cx="597.4" cy="204.7" r="1.15"/><circle cx="591.5" cy="194.5" r="1.15"/><circle cx="595.6" cy="204.2" r="1.15"/></g>
<g fill="#7ab4ea" fill-opacity="0.65"><circle cx="590.1" cy="200.0" r="1.15"/><circle cx="581.6" cy="215.6" r="1.15"/><circle cx="594.8" cy="197.5" r="1.15"/><circle cx="595.7" cy="222.1" r="1.15"/><circle cx="594.6" cy="211.1" r="1.15"/><circle cx="594.7" cy="210.7" r="1.15"/><circle cx="611.7" cy="196.5" r="1.15"/><circle cx="609.1" cy="215.8" r="1.15"/><circle cx="599.6" cy="199.9" r="1.15"/><circle cx="610.3" cy="203.5" r="1.15"/><circle cx="589.3" cy="205.5" r="1.15"/><circle cx="598.7" cy="193.6" r="1.15"/><circle cx="592.0" cy="206.4" r="1.15"/><circle cx="615.0" cy="206.6" r="1.15"/></g>
<line x1="577.60" y1="184.20" x2="577.60" y2="252.40" stroke="#333" stroke-width="0.9"/>
<line x1="577.60" y1="252.40" x2="658.00" y2="252.40" stroke="#333" stroke-width="0.9"/>
<line x1="582.00" y1="208.00" x2="655.80" y2="218.70" stroke="#111" stroke-width="1.3"/>
<text x="582.5" y="189.6" font-size="6" fill="#161616" font-style="italic">R</text>
<text x="588.4" y="189.6" font-size="6" fill="#161616">= -0.31</text>
<text x="618.5" y="189.6" font-size="6" fill="#161616" font-style="italic">p</text>
<text x="622.7" y="189.6" font-size="6" fill="#161616">= 7.6e-14</text>
<text x="582.6" y="250.4" font-size="8.4" fill="#161616">n=570</text>
<text x="618.0" y="264.7" font-size="8.3" fill="#161616" text-anchor="middle">CombiWISE</text>
<text x="573.8" y="217.9" font-size="8.3" fill="#161616" text-anchor="middle" transform="rotate(-90 573.8 217.9)">CHGB</text>
<circle cx="636.0" cy="238.8" r="1.5" fill="#e2b24a"/>
<text x="639.5" y="240.6" font-size="5" fill="#444">RRMS</text>
<circle cx="636.0" cy="243.6" r="1.5" fill="#9868b4"/>
<text x="639.5" y="245.4" font-size="5" fill="#444">SPMS</text>
<circle cx="636.0" cy="248.4" r="1.5" fill="#7ab4ea"/>
<text x="639.5" y="250.2" font-size="5" fill="#444">PPMS</text>
<text x="226.5" y="32.2" font-size="10.8" fill="#4a9a3c" text-anchor="middle">Neurons</text>
<text x="288.5" y="32.2" font-size="10.8" fill="#ee44ee" text-anchor="middle">Clotting/</text>
<text x="288.5" y="45.4" font-size="10.8" fill="#ee44ee" text-anchor="middle">Coagulation</text>
<text x="349.0" y="32.2" font-size="10.8" fill="#c2404c" text-anchor="middle">Immune</text>
<text x="349.0" y="45.6" font-size="10.8" fill="#c2404c" text-anchor="middle">cells</text>
<text x="409.5" y="32.0" font-size="10.8" fill="#444" text-anchor="middle">Fibroblasts</text>
<path d="M225,60 C222,68 217,74 217,82 C216,95 213,105 215,118 M215,118 C214,124 212,128 211.7,131 M215,118 C219,124 222,128 224,132 C227,137 230,141 233,145 M223,130 L221,137 M228,136 C231,137 235,137 238.3,137.8" fill="none" stroke="#86c486" stroke-width="1.0"/>
<path d="M225,55L213,52M213,52L211,50M213,52L211.5,55M225,55L216,46M216,46L213.5,44.5M216,46L218,43.5M225,55L222,45M222,45L220,42.5M222,45L224,43M225,55L229,45M229,45L227.5,42.5M229,45L231.5,43.5M225,55L235,48M235,48L237.5,46M235,48L236.5,51M225,55L235,57M235,57L237.5,55M235,57L238,59.5M225,55L232,62M232,62L234.5,63.5M232,62L231,65M225,55L215,58M215,58L212.5,60M215,58L213,56.5" fill="none" stroke="#86c486" stroke-width="0.8"/>
<circle cx="225.0" cy="55.2" r="3.6" fill="#7cbf7c"/>
<circle cx="225.0" cy="55.2" r="0.9" fill="#2a5a4a"/>
<path d="M286,63 C289,80 282,92 285,100 C288,108 281,120 284,132" fill="none" stroke="#b4507e" stroke-width="5"/>
<path d="M286,63 C283,80 289,92 285,100 C282,110 288,120 284,132" fill="none" stroke="#d487aa" stroke-width="1.6"/>
<path d="M287,63 C286,80 286,92 285,100 C284,110 285,120 283,132" fill="none" stroke="#9a3a68" stroke-width="0.8"/>
<ellipse cx="286.5" cy="63" rx="4" ry="3.8" fill="#c0608e"/>
<ellipse cx="284" cy="131.5" rx="4" ry="3.8" fill="#c0608e"/>
<ellipse cx="285" cy="100" rx="5" ry="2" fill="#e6aac6" stroke="#c47c9e" stroke-width="0.5"/>
<circle cx="348.3" cy="63.4" r="8.3" fill="#eccaea" stroke="#dcb0dc" stroke-width="0.8"/>
<path d="M343.5,59 q4,-5 8,-1 q-2,3 1,6 q-1,4 -5,2 q2,-3 -1,-4 z" fill="#c690c2"/>
<circle cx="343.4" cy="84.7" r="8.8" fill="#f8dedb" stroke="#eccac8" stroke-width="0.8"/>
<path d="M338.5,83 q4,-6 10,-1 q-5,0 -4,6 q-4,0 -6,-5 z" fill="#eeb8b8"/>
<circle cx="350.7" cy="104.8" r="8.3" fill="#fae6ee" stroke="#f0d0de" stroke-width="0.8"/>
<circle cx="350.5" cy="104.5" r="4.6" fill="#f6c8dc"/>
<path d="M393,44.5 C397,48 400,52 402,55 C405,53 408,52 409,51 C411,49 413,46 414.5,44 C413.5,47 413,50 412.5,52 C414.5,51 416.5,50 418,49 C415.5,52 413.5,55 413,58 C413,63 414,68 415,72 C417,77 420,82 423.5,86.5 C420,85 417,84 414,83 C411,84 409,86 407,88 C405,90 402,92 399.5,93 C400.5,90 401.5,87 402,84 C399.5,84 397,84 395,84.5 C397,82 399,79 400,76 C400.5,72 400.5,67 400,62 C398,56 396,50 393,44.5 Z" fill="#8a8a8a" stroke="#7a7a7a" stroke-width="0.5"/>
<path d="M402,58 C405,66 408,74 412,82 M404,56 C407,64 411,72 416,80 M401,64 C403,72 404,80 403,88" fill="none" stroke="#a0a0a0" stroke-width="0.5"/>
<ellipse cx="405.6" cy="66.8" rx="2.6" ry="4.4" fill="#5a5a5a" transform="rotate(-12 405.6 66.8)"/>
<text x="5.5" y="317.5" font-size="15" fill="#000" font-weight="bold">c</text>
<text x="24.0" y="316.9" font-size="10.9" fill="#161616">Pathways associated with GMSD outcome</text>
<rect x="37.20" y="523.00" width="465.60" height="15.60" fill="url(#chor)"/>
<line x1="213.60" y1="333.50" x2="213.60" y2="523.00" stroke="#d4d4d4" stroke-width="1"/>
<line x1="37.20" y1="333.50" x2="37.20" y2="523.00" stroke="#555" stroke-width="1.1"/>
<line x1="37.20" y1="523.00" x2="502.80" y2="523.00" stroke="#555" stroke-width="1.1"/>
<line x1="37.2" y1="514.4" x2="502.8" y2="514.4" stroke="#3a3ae8" stroke-width="1" stroke-dasharray="3,2.2"/>
<text x="447.7" y="511.5" font-size="8.8" fill="#2a2ad8">p=0.05</text>
<text x="47.0" y="508.5" font-size="8.8" fill="#161616">n=161</text>
<line x1="34.20" y1="379.30" x2="37.20" y2="379.30" stroke="#555" stroke-width="0.9"/>
<text x="33.5" y="382.6" font-size="9.3" fill="#161616" text-anchor="end">20</text>
<line x1="34.20" y1="446.75" x2="37.20" y2="446.75" stroke="#555" stroke-width="0.9"/>
<text x="33.5" y="450.1" font-size="9.3" fill="#161616" text-anchor="end">10</text>
<line x1="34.20" y1="514.20" x2="37.20" y2="514.20" stroke="#555" stroke-width="0.9"/>
<text x="33.5" y="517.5" font-size="9.3" fill="#161616" text-anchor="end">0</text>
<line x1="62.80" y1="523.00" x2="62.80" y2="526.00" stroke="#555" stroke-width="0.9"/>
<text x="62.8" y="534.5" font-size="9.3" fill="#161616" text-anchor="middle">-5</text>
<line x1="213.60" y1="523.00" x2="213.60" y2="526.00" stroke="#555" stroke-width="0.9"/>
<text x="213.6" y="534.5" font-size="9.3" fill="#161616" text-anchor="middle">0</text>
<line x1="364.40" y1="523.00" x2="364.40" y2="526.00" stroke="#555" stroke-width="0.9"/>
<text x="364.4" y="534.5" font-size="9.3" fill="#161616" text-anchor="middle">5</text>
<text x="17.5" y="428.0" font-size="10.8" fill="#161616" text-anchor="middle" transform="rotate(-90 17.5 428.0)">-log10(pval)</text>
<text x="270.0" y="549.7" font-size="10.8" fill="#161616" text-anchor="middle">GMSD coefficient</text>
<circle cx="58.0" cy="410.7" r="3.4" fill="#fff" stroke="#333" stroke-width="0.8" fill-opacity="0"/>
<circle cx="95.8" cy="402.6" r="3.4" fill="#fff" stroke="#333" stroke-width="0.8" fill-opacity="0"/>
<circle cx="102.5" cy="411.7" r="3.4" fill="#fff" stroke="#333" stroke-width="0.8" fill-opacity="0"/>
<circle cx="105.8" cy="409.9" r="3.4" fill="#fff" stroke="#333" stroke-width="0.8" fill-opacity="0"/>
<circle cx="104.7" cy="418.8" r="3.4" fill="#fff" stroke="#333" stroke-width="0.8" fill-opacity="0"/>
<circle cx="140.3" cy="405.3" r="3.4" fill="#fff" stroke="#333" stroke-width="0.8" fill-opacity="0"/>
<circle cx="149.8" cy="400.4" r="3.4" fill="#fff" stroke="#333" stroke-width="0.8" fill-opacity="0"/>
<circle cx="157.1" cy="400.4" r="3.4" fill="#fff" stroke="#333" stroke-width="0.8" fill-opacity="0"/>
<circle cx="151.1" cy="416.6" r="3.4" fill="#fff" stroke="#333" stroke-width="0.8" fill-opacity="0"/>
<circle cx="143.0" cy="417.1" r="3.4" fill="#fff" stroke="#333" stroke-width="0.8" fill-opacity="0"/>
<circle cx="133.6" cy="421.5" r="3.4" fill="#fff" stroke="#333" stroke-width="0.8" fill-opacity="0"/>
<circle cx="138.4" cy="422.0" r="3.4" fill="#fff" stroke="#333" stroke-width="0.8" fill-opacity="0"/>
<circle cx="132.8" cy="425.2" r="3.4" fill="#fff" stroke="#333" stroke-width="0.8" fill-opacity="0"/>
<circle cx="135.5" cy="435.5" r="3.4" fill="#fff" stroke="#333" stroke-width="0.8" fill-opacity="0"/>
<circle cx="126.8" cy="439.6" r="3.4" fill="#fff" stroke="#333" stroke-width="0.8" fill-opacity="0"/>
<circle cx="151.1" cy="439.6" r="3.4" fill="#fff" stroke="#333" stroke-width="0.8" fill-opacity="0"/>
<circle cx="163.3" cy="440.4" r="3.4" fill="#fff" stroke="#333" stroke-width="0.8" fill-opacity="0"/>
<circle cx="164.6" cy="445.0" r="3.4" fill="#fff" stroke="#333" stroke-width="0.8" fill-opacity="0"/>
<circle cx="161.9" cy="446.3" r="3.4" fill="#fff" stroke="#333" stroke-width="0.8" fill-opacity="0"/>
<circle cx="169.2" cy="442.3" r="3.4" fill="#fff" stroke="#333" stroke-width="0.8" fill-opacity="0"/>
<circle cx="175.4" cy="446.3" r="3.4" fill="#fff" stroke="#333" stroke-width="0.8" fill-opacity="0"/>
<circle cx="176.8" cy="445.0" r="3.4" fill="#fff" stroke="#333" stroke-width="0.8" fill-opacity="0"/>
<circle cx="184.9" cy="445.0" r="3.4" fill="#fff" stroke="#333" stroke-width="0.8" fill-opacity="0"/>
<circle cx="182.7" cy="450.4" r="3.4" fill="#fff" stroke="#333" stroke-width="0.8" fill-opacity="0"/>
<circle cx="188.4" cy="450.4" r="3.4" fill="#fff" stroke="#333" stroke-width="0.8" fill-opacity="0"/>
<circle cx="187.6" cy="447.7" r="3.4" fill="#fff" stroke="#333" stroke-width="0.8" fill-opacity="0"/>
<circle cx="196.2" cy="427.4" r="3.4" fill="#fff" stroke="#333" stroke-width="0.8" fill-opacity="0"/>
<circle cx="195.7" cy="434.2" r="3.4" fill="#fff" stroke="#333" stroke-width="0.8" fill-opacity="0"/>
<circle cx="197.8" cy="440.9" r="3.4" fill="#fff" stroke="#333" stroke-width="0.8" fill-opacity="0"/>
<circle cx="195.7" cy="447.7" r="3.4" fill="#fff" stroke="#333" stroke-width="0.8" fill-opacity="0"/>
<circle cx="203.0" cy="452.3" r="3.4" fill="#fff" stroke="#333" stroke-width="0.8" fill-opacity="0"/>
<circle cx="197.0" cy="455.8" r="3.4" fill="#fff" stroke="#333" stroke-width="0.8" fill-opacity="0"/>
<circle cx="194.3" cy="458.5" r="3.4" fill="#fff" stroke="#333" stroke-width="0.8" fill-opacity="0"/>
<circle cx="195.1" cy="461.2" r="3.4" fill="#fff" stroke="#333" stroke-width="0.8" fill-opacity="0"/>
<circle cx="136.3" cy="448.2" r="3.4" fill="#fff" stroke="#333" stroke-width="0.8" fill-opacity="0"/>
<circle cx="137.1" cy="452.5" r="3.4" fill="#fff" stroke="#333" stroke-width="0.8" fill-opacity="0"/>
<circle cx="167.3" cy="455.8" r="3.4" fill="#fff" stroke="#333" stroke-width="0.8" fill-opacity="0"/>
<circle cx="174.1" cy="456.6" r="3.4" fill="#fff" stroke="#333" stroke-width="0.8" fill-opacity="0"/>
<circle cx="151.9" cy="463.0" r="3.4" fill="#fff" stroke="#333" stroke-width="0.8" fill-opacity="0"/>
<circle cx="160.6" cy="462.5" r="3.4" fill="#fff" stroke="#333" stroke-width="0.8" fill-opacity="0"/>
<circle cx="184.9" cy="467.9" r="3.4" fill="#fff" stroke="#333" stroke-width="0.8" fill-opacity="0"/>
<circle cx="163.3" cy="472.5" r="3.4" fill="#fff" stroke="#333" stroke-width="0.8" fill-opacity="0"/>
<circle cx="116.8" cy="475.5" r="3.4" fill="#fff" stroke="#333" stroke-width="0.8" fill-opacity="0"/>
<circle cx="129.0" cy="480.9" r="3.4" fill="#fff" stroke="#333" stroke-width="0.8" fill-opacity="0"/>
<circle cx="166.0" cy="484.7" r="3.4" fill="#fff" stroke="#333" stroke-width="0.8" fill-opacity="0"/>
<circle cx="172.7" cy="491.7" r="3.4" fill="#fff" stroke="#333" stroke-width="0.8" fill-opacity="0"/>
<circle cx="184.9" cy="489.0" r="3.4" fill="#fff" stroke="#333" stroke-width="0.8" fill-opacity="0"/>
<circle cx="191.6" cy="486.3" r="3.4" fill="#fff" stroke="#333" stroke-width="0.8" fill-opacity="0"/>
<circle cx="197.8" cy="491.7" r="3.4" fill="#fff" stroke="#333" stroke-width="0.8" fill-opacity="0"/>
<circle cx="184.3" cy="494.4" r="3.4" fill="#fff" stroke="#333" stroke-width="0.8" fill-opacity="0"/>
<circle cx="187.6" cy="497.6" r="3.4" fill="#fff" stroke="#333" stroke-width="0.8" fill-opacity="0"/>
<circle cx="194.3" cy="498.2" r="3.4" fill="#fff" stroke="#333" stroke-width="0.8" fill-opacity="0"/>
<circle cx="197.0" cy="497.6" r="3.4" fill="#fff" stroke="#333" stroke-width="0.8" fill-opacity="0"/>
<circle cx="201.1" cy="497.1" r="3.4" fill="#fff" stroke="#333" stroke-width="0.8" fill-opacity="0"/>
<circle cx="198.9" cy="499.0" r="3.4" fill="#fff" stroke="#333" stroke-width="0.8" fill-opacity="0"/>
<circle cx="177.3" cy="500.3" r="3.4" fill="#fff" stroke="#333" stroke-width="0.8" fill-opacity="0"/>
<circle cx="175.4" cy="503.8" r="3.4" fill="#fff" stroke="#333" stroke-width="0.8" fill-opacity="0"/>
<circle cx="198.9" cy="504.4" r="3.4" fill="#fff" stroke="#333" stroke-width="0.8" fill-opacity="0"/>
<circle cx="205.1" cy="504.4" r="3.4" fill="#fff" stroke="#333" stroke-width="0.8" fill-opacity="0"/>
<circle cx="218.6" cy="496.3" r="3.4" fill="#fff" stroke="#333" stroke-width="0.8" fill-opacity="0"/>
<circle cx="250.0" cy="404.5" r="3.4" fill="#fff" stroke="#333" stroke-width="0.8" fill-opacity="0"/>
<circle cx="266.7" cy="401.8" r="3.4" fill="#fff" stroke="#333" stroke-width="0.8" fill-opacity="0"/>
<circle cx="266.2" cy="416.6" r="3.4" fill="#fff" stroke="#333" stroke-width="0.8" fill-opacity="0"/>
<circle cx="274.8" cy="417.1" r="3.4" fill="#fff" stroke="#333" stroke-width="0.8" fill-opacity="0"/>
<circle cx="281.6" cy="420.7" r="3.4" fill="#fff" stroke="#333" stroke-width="0.8" fill-opacity="0"/>
<circle cx="287.0" cy="415.3" r="3.4" fill="#fff" stroke="#333" stroke-width="0.8" fill-opacity="0"/>
<circle cx="252.4" cy="424.2" r="3.4" fill="#fff" stroke="#333" stroke-width="0.8" fill-opacity="0"/>
<circle cx="249.2" cy="428.0" r="3.4" fill="#fff" stroke="#333" stroke-width="0.8" fill-opacity="0"/>
<circle cx="245.1" cy="436.0" r="3.4" fill="#fff" stroke="#333" stroke-width="0.8" fill-opacity="0"/>
<circle cx="268.0" cy="424.7" r="3.4" fill="#fff" stroke="#333" stroke-width="0.8" fill-opacity="0"/>
<circle cx="266.7" cy="428.8" r="3.4" fill="#fff" stroke="#333" stroke-width="0.8" fill-opacity="0"/>
<circle cx="268.0" cy="432.0" r="3.4" fill="#fff" stroke="#333" stroke-width="0.8" fill-opacity="0"/>
<circle cx="258.1" cy="443.6" r="3.4" fill="#fff" stroke="#333" stroke-width="0.8" fill-opacity="0"/>
<circle cx="295.9" cy="442.5" r="3.4" fill="#fff" stroke="#333" stroke-width="0.8" fill-opacity="0"/>
<circle cx="236.2" cy="453.9" r="3.4" fill="#fff" stroke="#333" stroke-width="0.8" fill-opacity="0"/>
<circle cx="230.3" cy="463.0" r="3.4" fill="#fff" stroke="#333" stroke-width="0.8" fill-opacity="0"/>
<circle cx="222.2" cy="469.8" r="3.4" fill="#fff" stroke="#333" stroke-width="0.8" fill-opacity="0"/>
<circle cx="285.6" cy="461.2" r="3.4" fill="#fff" stroke="#333" stroke-width="0.8" fill-opacity="0"/>
<circle cx="297.8" cy="465.8" r="3.4" fill="#fff" stroke="#333" stroke-width="0.8" fill-opacity="0"/>
<circle cx="295.1" cy="467.4" r="3.4" fill="#fff" stroke="#333" stroke-width="0.8" fill-opacity="0"/>
<circle cx="314.8" cy="469.3" r="3.4" fill="#fff" stroke="#333" stroke-width="0.8" fill-opacity="0"/>
<circle cx="329.9" cy="462.5" r="3.4" fill="#fff" stroke="#333" stroke-width="0.8" fill-opacity="0"/>
<circle cx="285.1" cy="472.5" r="3.4" fill="#fff" stroke="#333" stroke-width="0.8" fill-opacity="0"/>
<circle cx="292.4" cy="473.9" r="3.4" fill="#fff" stroke="#333" stroke-width="0.8" fill-opacity="0"/>
<circle cx="295.9" cy="474.1" r="3.4" fill="#fff" stroke="#333" stroke-width="0.8" fill-opacity="0"/>
<circle cx="301.8" cy="474.1" r="3.4" fill="#fff" stroke="#333" stroke-width="0.8" fill-opacity="0"/>
<circle cx="268.0" cy="476.0" r="3.4" fill="#fff" stroke="#333" stroke-width="0.8" fill-opacity="0"/>
<circle cx="279.7" cy="485.5" r="3.4" fill="#fff" stroke="#333" stroke-width="0.8" fill-opacity="0"/>
<circle cx="278.9" cy="488.2" r="3.4" fill="#fff" stroke="#333" stroke-width="0.8" fill-opacity="0"/>
<circle cx="278.9" cy="493.6" r="3.4" fill="#fff" stroke="#333" stroke-width="0.8" fill-opacity="0"/>
<circle cx="291.0" cy="486.8" r="3.4" fill="#fff" stroke="#333" stroke-width="0.8" fill-opacity="0"/>
<circle cx="222.2" cy="490.9" r="3.4" fill="#fff" stroke="#333" stroke-width="0.8" fill-opacity="0"/>
<circle cx="218.6" cy="496.8" r="3.4" fill="#fff" stroke="#333" stroke-width="0.8" fill-opacity="0"/>
<circle cx="227.0" cy="495.5" r="3.4" fill="#fff" stroke="#333" stroke-width="0.8" fill-opacity="0"/>
<circle cx="238.4" cy="498.2" r="3.4" fill="#fff" stroke="#333" stroke-width="0.8" fill-opacity="0"/>
<circle cx="243.0" cy="496.3" r="3.4" fill="#fff" stroke="#333" stroke-width="0.8" fill-opacity="0"/>
<circle cx="244.6" cy="497.1" r="3.4" fill="#fff" stroke="#333" stroke-width="0.8" fill-opacity="0"/>
<circle cx="247.8" cy="499.8" r="3.4" fill="#fff" stroke="#333" stroke-width="0.8" fill-opacity="0"/>
<circle cx="253.7" cy="500.3" r="3.4" fill="#fff" stroke="#333" stroke-width="0.8" fill-opacity="0"/>
<circle cx="257.3" cy="490.0" r="3.4" fill="#fff" stroke="#333" stroke-width="0.8" fill-opacity="0"/>
<circle cx="265.4" cy="499.0" r="3.4" fill="#fff" stroke="#333" stroke-width="0.8" fill-opacity="0"/>
<circle cx="233.0" cy="503.0" r="3.4" fill="#fff" stroke="#333" stroke-width="0.8" fill-opacity="0"/>
<circle cx="281.6" cy="502.2" r="3.4" fill="#fff" stroke="#333" stroke-width="0.8" fill-opacity="0"/>
<circle cx="289.1" cy="501.7" r="3.4" fill="#fff" stroke="#333" stroke-width="0.8" fill-opacity="0"/>
<circle cx="326.1" cy="491.4" r="3.4" fill="#fff" stroke="#333" stroke-width="0.8" fill-opacity="0"/>
<circle cx="333.4" cy="493.6" r="3.4" fill="#fff" stroke="#333" stroke-width="0.8" fill-opacity="0"/>
<circle cx="342.3" cy="490.0" r="3.4" fill="#fff" stroke="#333" stroke-width="0.8" fill-opacity="0"/>
<circle cx="317.5" cy="404.5" r="3.4" fill="#fff" stroke="#333" stroke-width="0.8" fill-opacity="0"/>
<circle cx="330.2" cy="405.8" r="3.4" fill="#fff" stroke="#333" stroke-width="0.8" fill-opacity="0"/>
<circle cx="284.3" cy="399.0" r="3.4" fill="#fff" stroke="#333" stroke-width="0.8" fill-opacity="0"/>
<circle cx="270.0" cy="367.8" r="3.4" fill="#fff" stroke="#333" stroke-width="0.8" fill-opacity="0"/>
<circle cx="266.4" cy="385.9" r="3.4" fill="#fff" stroke="#333" stroke-width="0.8" fill-opacity="0"/>
<circle cx="263.5" cy="394.8" r="3.4" fill="#fff" stroke="#333" stroke-width="0.8" fill-opacity="0"/>
<circle cx="267.3" cy="395.6" r="3.4" fill="#fff" stroke="#333" stroke-width="0.8" fill-opacity="0"/>
<circle cx="266.7" cy="401.6" r="3.4" fill="#fff" stroke="#333" stroke-width="0.8" fill-opacity="0"/>
<circle cx="285.6" cy="381.3" r="3.4" fill="#fff" stroke="#333" stroke-width="0.8" fill-opacity="0"/>
<circle cx="298.6" cy="381.3" r="3.4" fill="#fff" stroke="#333" stroke-width="0.8" fill-opacity="0"/>
<circle cx="288.0" cy="399.7" r="3.4" fill="#fff" stroke="#333" stroke-width="0.8" fill-opacity="0"/>
<circle cx="355.3" cy="368.3" r="3.4" fill="#fff" stroke="#333" stroke-width="0.8" fill-opacity="0"/>
<circle cx="409.3" cy="464.9" r="3.4" fill="#fff" stroke="#333" stroke-width="0.8" fill-opacity="0"/>
<circle cx="481.8" cy="484.5" r="3.4" fill="#fff" stroke="#333" stroke-width="0.8" fill-opacity="0"/>
<circle cx="251.9" cy="424.5" r="3.4" fill="#fff" stroke="#333" stroke-width="0.8" fill-opacity="0"/>
<circle cx="268.0" cy="424.5" r="3.4" fill="#fff" stroke="#333" stroke-width="0.8" fill-opacity="0"/>
<circle cx="280.8" cy="420.5" r="3.4" fill="#fff" stroke="#333" stroke-width="0.8" fill-opacity="0"/>
<circle cx="150.0" cy="402.0" r="3.4" fill="#fff" stroke="#333" stroke-width="0.8" fill-opacity="0"/>
<circle cx="143.0" cy="409.0" r="3.4" fill="#fff" stroke="#333" stroke-width="0.8" fill-opacity="0"/>
<circle cx="240.0" cy="425.0" r="3.4" fill="#fff" stroke="#333" stroke-width="0.8" fill-opacity="0"/>
<circle cx="253.7" cy="341.3" r="3.4" fill="#fff" stroke="#e03a44" stroke-width="0.9" fill-opacity="0"/>
<circle cx="247.3" cy="348.9" r="3.4" fill="#fff" stroke="#e03a44" stroke-width="0.9" fill-opacity="0"/>
<circle cx="292.4" cy="353.8" r="3.4" fill="#fff" stroke="#e03a44" stroke-width="0.9" fill-opacity="0"/>
<circle cx="326.1" cy="357.8" r="3.4" fill="#fff" stroke="#e03a44" stroke-width="0.9" fill-opacity="0"/>
<circle cx="256.4" cy="385.4" r="3.4" fill="#fff" stroke="#e03a44" stroke-width="0.9" fill-opacity="0"/>
<circle cx="257.3" cy="401.6" r="3.4" fill="#fff" stroke="#e03a44" stroke-width="0.9" fill-opacity="0"/>
<circle cx="288.0" cy="399.0" r="3.4" fill="#fff" stroke="#e03a44" stroke-width="0.9" fill-opacity="0"/>
<circle cx="155.7" cy="373.7" r="3.4" fill="#fff" stroke="#3a3ae8" stroke-width="0.9" fill-opacity="0"/>
<circle cx="188.4" cy="387.5" r="3.4" fill="#fff" stroke="#3a3ae8" stroke-width="0.9" fill-opacity="0"/>
<circle cx="181.4" cy="397.5" r="3.4" fill="#fff" stroke="#3a3ae8" stroke-width="0.9" fill-opacity="0"/>
<circle cx="180.8" cy="398.2" r="3.4" fill="#fff" stroke="#3a3ae8" stroke-width="0.9" fill-opacity="0"/>
<circle cx="169.2" cy="423.4" r="3.4" fill="#fff" stroke="#3a3ae8" stroke-width="0.9" fill-opacity="0"/>
<circle cx="175.4" cy="418.0" r="3.4" fill="#fff" stroke="#3a3ae8" stroke-width="0.9" fill-opacity="0"/>
<line x1="183.00" y1="390.00" x2="188.00" y2="388.00" stroke="#aaa" stroke-width="0.5"/>
<line x1="198.00" y1="410.00" x2="205.00" y2="414.00" stroke="#aaa" stroke-width="0.5"/>
<line x1="272.00" y1="375.00" x2="255.00" y2="380.00" stroke="#aaa" stroke-width="0.5"/>
<line x1="160.00" y1="375.00" x2="156.00" y2="374.00" stroke="#aaa" stroke-width="0.5"/>
<rect x="111.4" y="336.6" width="138.6" height="9.8" rx="2.5" fill="#fff" fill-opacity="0.85" stroke="#f07078" stroke-width="0.7"/>
<text x="180.7" y="344.3" font-size="7.8" fill="#e0303c" text-anchor="middle">TNFs bind their physiological receptors</text>
<rect x="86.3" y="356.1" width="202.5" height="9.8" rx="2.5" fill="#fff" fill-opacity="0.85" stroke="#f07078" stroke-width="0.7"/>
<text x="187.6" y="363.8" font-size="7.8" fill="#e0303c" text-anchor="middle" textLength="199.5" lengthAdjust="spacingAndGlyphs">Role of Macrophages, Fibroblasts and Endoth. cells in RA</text>
<rect x="57.1" y="370.1" width="94.6" height="9.8" rx="2.5" fill="#fff" fill-opacity="0.85" stroke="#7a7af0" stroke-width="0.7"/>
<text x="104.4" y="377.8" font-size="7.8" fill="#3a3ae8" text-anchor="middle">RAF/MAP kinase cascade</text>
<rect x="160.6" y="370.1" width="110.9" height="9.8" rx="2.5" fill="#fff" fill-opacity="0.85" stroke="#7a7af0" stroke-width="0.7"/>
<text x="216.1" y="377.8" font-size="7.8" fill="#3a3ae8" text-anchor="middle">ROBO SLIT Signaling Pathway</text>
<rect x="39.9" y="385.1" width="143.6" height="9.8" rx="2.5" fill="#fff" fill-opacity="0.85" stroke="#7a7af0" stroke-width="0.7"/>
<text x="111.7" y="392.8" font-size="7.8" fill="#3a3ae8" text-anchor="middle">Clathrin-mediated Endocytosis Signaling</text>
<rect x="110.6" y="405.3" width="87.8" height="9.8" rx="2.5" fill="#fff" fill-opacity="0.85" stroke="#7a7af0" stroke-width="0.7"/>
<text x="154.5" y="413.0" font-size="7.8" fill="#3a3ae8" text-anchor="middle">IL-13 Signaling Pathway</text>
<rect x="203.0" y="405.3" width="154.5" height="9.8" rx="2.5" fill="#fff" fill-opacity="0.85" stroke="#f07078" stroke-width="0.7"/>
<text x="280.2" y="413.0" font-size="7.8" fill="#e0303c" text-anchor="middle" textLength="151.5" lengthAdjust="spacingAndGlyphs">Immunogenic Cell Death Signaling Pathway</text>
<rect x="330.7" y="358.0" width="87.5" height="9.8" rx="2.5" fill="#fff" fill-opacity="0.85" stroke="#f07078" stroke-width="0.7"/>
<text x="374.4" y="365.7" font-size="7.8" fill="#e0303c" text-anchor="middle" textLength="84.5" lengthAdjust="spacingAndGlyphs">Neutrophil degranulation</text>
<rect x="276.2" y="372.4" width="153.7" height="9.8" rx="2.5" fill="#fff" fill-opacity="0.85" stroke="#f07078" stroke-width="0.7"/>
<text x="353.0" y="380.1" font-size="7.8" fill="#e0303c" text-anchor="middle" textLength="150.7" lengthAdjust="spacingAndGlyphs">Production of NO and ROS in Macrophages</text>
<rect x="274.3" y="386.7" width="65.9" height="9.8" rx="2.5" fill="#fff" fill-opacity="0.85" stroke="#f07078" stroke-width="0.7"/>
<text x="307.2" y="394.4" font-size="7.8" fill="#e0303c" text-anchor="middle">HMGB1 Signaling</text>
<rect x="257.3" y="335.9" width="53.2" height="10.4" rx="2.5" fill="#fff" fill-opacity="0.85" stroke="#b01c28" stroke-width="1.6"/>
<text x="283.9" y="343.9" font-size="7.8" fill="#c02a34" text-anchor="middle">IL-6 Signaling</text>
<rect x="117.4" y="427.4" width="64.2" height="10.8" rx="2.5" fill="#fff" fill-opacity="0.85" stroke="#1c1ca0" stroke-width="1.7"/>
<text x="149.5" y="435.6" font-size="7.8" fill="#1c1ca0" text-anchor="middle">IL-15 Production</text>
<line x1="524.30" y1="329.50" x2="524.30" y2="416.00" stroke="#333" stroke-width="0.9"/>
<line x1="524.30" y1="416.00" x2="684.00" y2="416.00" stroke="#333" stroke-width="0.9"/>
<g fill="#7ab4ea" fill-opacity="0.72"><circle cx="538.9" cy="401.0" r="1.7"/><circle cx="594.4" cy="393.5" r="1.7"/><circle cx="566.7" cy="396.5" r="1.7"/><circle cx="558.6" cy="400.3" r="1.7"/><circle cx="552.0" cy="393.1" r="1.7"/><circle cx="564.5" cy="404.9" r="1.7"/><circle cx="568.8" cy="383.0" r="1.7"/><circle cx="574.1" cy="382.5" r="1.7"/></g>
<g fill="#e2b24a" fill-opacity="0.72"><circle cx="539.7" cy="399.9" r="1.7"/><circle cx="562.7" cy="402.0" r="1.7"/><circle cx="557.7" cy="391.5" r="1.7"/><circle cx="577.5" cy="398.4" r="1.7"/><circle cx="545.0" cy="388.5" r="1.7"/><circle cx="573.1" cy="392.7" r="1.7"/><circle cx="559.8" cy="399.5" r="1.7"/><circle cx="541.3" cy="399.5" r="1.7"/><circle cx="536.1" cy="397.4" r="1.7"/><circle cx="547.9" cy="389.4" r="1.7"/><circle cx="602.2" cy="386.1" r="1.7"/><circle cx="552.8" cy="389.3" r="1.7"/><circle cx="554.7" cy="398.0" r="1.7"/><circle cx="534.0" cy="407.5" r="1.7"/><circle cx="582.2" cy="386.4" r="1.7"/><circle cx="563.7" cy="409.5" r="1.7"/><circle cx="570.0" cy="391.5" r="1.7"/><circle cx="539.3" cy="388.6" r="1.7"/><circle cx="556.4" cy="391.2" r="1.7"/><circle cx="560.0" cy="395.8" r="1.7"/><circle cx="563.9" cy="402.2" r="1.7"/><circle cx="564.3" cy="404.8" r="1.7"/><circle cx="551.7" cy="392.9" r="1.7"/><circle cx="559.4" cy="401.7" r="1.7"/><circle cx="558.5" cy="400.2" r="1.7"/><circle cx="550.4" cy="401.6" r="1.7"/><circle cx="571.6" cy="397.4" r="1.7"/><circle cx="545.1" cy="392.7" r="1.7"/><circle cx="571.6" cy="389.9" r="1.7"/><circle cx="561.9" cy="390.4" r="1.7"/><circle cx="577.7" cy="383.5" r="1.7"/><circle cx="544.3" cy="392.4" r="1.7"/><circle cx="590.8" cy="393.2" r="1.7"/><circle cx="553.0" cy="390.0" r="1.7"/><circle cx="546.4" cy="393.2" r="1.7"/><circle cx="555.0" cy="392.4" r="1.7"/><circle cx="530.5" cy="394.3" r="1.7"/><circle cx="550.1" cy="412.5" r="1.7"/><circle cx="567.0" cy="393.6" r="1.7"/><circle cx="564.1" cy="395.2" r="1.7"/><circle cx="549.3" cy="394.5" r="1.7"/><circle cx="586.4" cy="376.1" r="1.7"/><circle cx="549.3" cy="387.0" r="1.7"/><circle cx="545.1" cy="378.7" r="1.7"/><circle cx="545.5" cy="390.4" r="1.7"/><circle cx="571.7" cy="396.4" r="1.7"/><circle cx="574.5" cy="384.4" r="1.7"/><circle cx="564.3" cy="377.4" r="1.7"/><circle cx="544.1" cy="382.4" r="1.7"/><circle cx="534.5" cy="405.5" r="1.7"/><circle cx="538.4" cy="393.6" r="1.7"/><circle cx="539.3" cy="393.0" r="1.7"/><circle cx="527.6" cy="382.0" r="1.7"/><circle cx="554.1" cy="388.0" r="1.7"/><circle cx="542.8" cy="393.5" r="1.7"/><circle cx="576.2" cy="397.6" r="1.7"/><circle cx="543.1" cy="392.3" r="1.7"/><circle cx="550.8" cy="387.6" r="1.7"/><circle cx="565.4" cy="390.5" r="1.7"/><circle cx="549.4" cy="406.9" r="1.7"/><circle cx="570.7" cy="406.6" r="1.7"/><circle cx="528.4" cy="405.7" r="1.7"/><circle cx="551.3" cy="391.6" r="1.7"/><circle cx="542.2" cy="404.1" r="1.7"/><circle cx="566.8" cy="399.7" r="1.7"/><circle cx="554.6" cy="399.8" r="1.7"/><circle cx="554.5" cy="400.4" r="1.7"/><circle cx="544.5" cy="390.9" r="1.7"/><circle cx="577.1" cy="373.1" r="1.7"/><circle cx="559.2" cy="395.3" r="1.7"/><circle cx="577.2" cy="394.1" r="1.7"/><circle cx="547.0" cy="409.0" r="1.7"/><circle cx="566.1" cy="399.4" r="1.7"/><circle cx="560.9" cy="389.2" r="1.7"/><circle cx="574.9" cy="394.6" r="1.7"/><circle cx="542.0" cy="389.6" r="1.7"/><circle cx="576.5" cy="388.3" r="1.7"/><circle cx="547.3" cy="397.3" r="1.7"/><circle cx="534.2" cy="401.1" r="1.7"/><circle cx="554.2" cy="402.2" r="1.7"/><circle cx="536.8" cy="397.2" r="1.7"/><circle cx="583.8" cy="399.0" r="1.7"/><circle cx="566.5" cy="399.1" r="1.7"/><circle cx="567.5" cy="389.0" r="1.7"/><circle cx="536.2" cy="401.1" r="1.7"/><circle cx="551.5" cy="382.2" r="1.7"/></g>
<g fill="#9868b4" fill-opacity="0.72"><circle cx="559.9" cy="388.2" r="1.7"/><circle cx="567.3" cy="410.3" r="1.7"/><circle cx="558.6" cy="394.8" r="1.7"/><circle cx="566.7" cy="377.4" r="1.7"/><circle cx="536.5" cy="406.8" r="1.7"/></g>
<g fill="#7ab4ea" fill-opacity="0.72"><circle cx="574.6" cy="390.1" r="1.7"/><circle cx="609.8" cy="397.7" r="1.7"/><circle cx="587.2" cy="378.8" r="1.7"/><circle cx="626.7" cy="376.7" r="1.7"/><circle cx="679.8" cy="376.1" r="1.7"/><circle cx="635.2" cy="382.7" r="1.7"/><circle cx="582.7" cy="392.4" r="1.7"/><circle cx="612.4" cy="382.5" r="1.7"/><circle cx="620.7" cy="388.0" r="1.7"/><circle cx="632.0" cy="368.9" r="1.7"/><circle cx="619.9" cy="375.5" r="1.7"/><circle cx="613.4" cy="389.0" r="1.7"/><circle cx="611.2" cy="391.3" r="1.7"/><circle cx="554.9" cy="374.0" r="1.7"/><circle cx="631.2" cy="361.0" r="1.7"/><circle cx="622.7" cy="390.1" r="1.7"/><circle cx="601.6" cy="378.0" r="1.7"/><circle cx="634.9" cy="371.7" r="1.7"/><circle cx="571.9" cy="387.2" r="1.7"/><circle cx="541.2" cy="404.1" r="1.7"/><circle cx="570.3" cy="374.5" r="1.7"/><circle cx="620.0" cy="370.3" r="1.7"/><circle cx="661.0" cy="362.8" r="1.7"/><circle cx="601.5" cy="390.1" r="1.7"/><circle cx="612.9" cy="380.3" r="1.7"/><circle cx="662.1" cy="362.7" r="1.7"/><circle cx="649.4" cy="368.3" r="1.7"/><circle cx="591.4" cy="404.3" r="1.7"/><circle cx="600.3" cy="396.1" r="1.7"/><circle cx="652.1" cy="375.7" r="1.7"/><circle cx="620.0" cy="387.6" r="1.7"/><circle cx="648.9" cy="369.1" r="1.7"/><circle cx="635.5" cy="385.3" r="1.7"/><circle cx="630.5" cy="372.0" r="1.7"/><circle cx="597.5" cy="372.0" r="1.7"/><circle cx="615.1" cy="372.7" r="1.7"/><circle cx="648.2" cy="383.6" r="1.7"/><circle cx="615.7" cy="404.4" r="1.7"/><circle cx="671.9" cy="375.7" r="1.7"/><circle cx="630.2" cy="370.1" r="1.7"/><circle cx="612.4" cy="385.6" r="1.7"/><circle cx="628.3" cy="372.7" r="1.7"/><circle cx="626.5" cy="383.2" r="1.7"/><circle cx="595.3" cy="400.7" r="1.7"/><circle cx="654.5" cy="381.5" r="1.7"/><circle cx="583.2" cy="389.9" r="1.7"/><circle cx="629.1" cy="367.8" r="1.7"/><circle cx="586.9" cy="391.3" r="1.7"/><circle cx="605.8" cy="402.4" r="1.7"/><circle cx="646.3" cy="363.9" r="1.7"/><circle cx="578.8" cy="377.8" r="1.7"/><circle cx="618.0" cy="384.4" r="1.7"/><circle cx="559.8" cy="375.2" r="1.7"/><circle cx="627.5" cy="398.6" r="1.7"/><circle cx="653.0" cy="380.0" r="1.7"/><circle cx="668.9" cy="369.4" r="1.7"/><circle cx="601.6" cy="388.8" r="1.7"/><circle cx="622.6" cy="389.4" r="1.7"/><circle cx="574.0" cy="400.2" r="1.7"/><circle cx="598.3" cy="384.2" r="1.7"/><circle cx="546.4" cy="387.5" r="1.7"/><circle cx="579.4" cy="383.5" r="1.7"/><circle cx="644.9" cy="374.9" r="1.7"/><circle cx="651.2" cy="348.6" r="1.7"/><circle cx="590.4" cy="375.3" r="1.7"/><circle cx="542.8" cy="396.8" r="1.7"/><circle cx="645.6" cy="371.5" r="1.7"/><circle cx="587.8" cy="396.6" r="1.7"/><circle cx="620.5" cy="390.5" r="1.7"/><circle cx="573.8" cy="388.0" r="1.7"/><circle cx="680.3" cy="371.5" r="1.7"/><circle cx="557.5" cy="406.1" r="1.7"/><circle cx="632.4" cy="369.7" r="1.7"/><circle cx="626.2" cy="396.2" r="1.7"/><circle cx="642.8" cy="393.8" r="1.7"/><circle cx="603.8" cy="378.7" r="1.7"/><circle cx="608.2" cy="383.9" r="1.7"/><circle cx="579.8" cy="385.4" r="1.7"/><circle cx="648.1" cy="367.6" r="1.7"/><circle cx="634.6" cy="369.8" r="1.7"/><circle cx="670.9" cy="372.7" r="1.7"/><circle cx="573.1" cy="397.1" r="1.7"/><circle cx="566.6" cy="387.1" r="1.7"/><circle cx="645.6" cy="359.1" r="1.7"/><circle cx="623.1" cy="388.1" r="1.7"/><circle cx="610.1" cy="392.9" r="1.7"/><circle cx="618.5" cy="363.1" r="1.7"/><circle cx="621.0" cy="381.1" r="1.7"/><circle cx="609.6" cy="384.7" r="1.7"/><circle cx="595.1" cy="388.3" r="1.7"/><circle cx="582.2" cy="383.9" r="1.7"/><circle cx="638.9" cy="371.9" r="1.7"/><circle cx="589.2" cy="404.3" r="1.7"/><circle cx="567.7" cy="396.3" r="1.7"/><circle cx="677.9" cy="364.3" r="1.7"/><circle cx="630.1" cy="379.4" r="1.7"/><circle cx="673.3" cy="357.1" r="1.7"/><circle cx="602.4" cy="373.9" r="1.7"/><circle cx="594.5" cy="359.3" r="1.7"/><circle cx="599.0" cy="377.9" r="1.7"/><circle cx="602.4" cy="386.7" r="1.7"/><circle cx="655.2" cy="366.4" r="1.7"/><circle cx="623.1" cy="393.5" r="1.7"/><circle cx="656.1" cy="368.3" r="1.7"/><circle cx="602.0" cy="381.2" r="1.7"/><circle cx="630.4" cy="383.8" r="1.7"/><circle cx="627.9" cy="387.3" r="1.7"/><circle cx="622.4" cy="382.1" r="1.7"/><circle cx="668.6" cy="362.5" r="1.7"/><circle cx="638.7" cy="379.6" r="1.7"/><circle cx="608.0" cy="377.2" r="1.7"/><circle cx="648.5" cy="373.5" r="1.7"/><circle cx="636.9" cy="381.0" r="1.7"/><circle cx="635.4" cy="372.2" r="1.7"/><circle cx="639.6" cy="376.3" r="1.7"/><circle cx="592.3" cy="368.5" r="1.7"/><circle cx="581.8" cy="395.3" r="1.7"/><circle cx="613.3" cy="377.2" r="1.7"/><circle cx="636.0" cy="384.8" r="1.7"/><circle cx="660.9" cy="365.8" r="1.7"/><circle cx="637.4" cy="399.3" r="1.7"/><circle cx="628.4" cy="380.1" r="1.7"/><circle cx="624.7" cy="383.5" r="1.7"/><circle cx="626.1" cy="380.6" r="1.7"/><circle cx="664.3" cy="376.1" r="1.7"/><circle cx="623.5" cy="377.0" r="1.7"/><circle cx="678.6" cy="354.5" r="1.7"/><circle cx="580.0" cy="380.7" r="1.7"/><circle cx="641.8" cy="366.2" r="1.7"/><circle cx="583.1" cy="393.5" r="1.7"/><circle cx="613.9" cy="374.3" r="1.7"/><circle cx="629.5" cy="382.4" r="1.7"/><circle cx="636.4" cy="386.7" r="1.7"/><circle cx="598.8" cy="386.3" r="1.7"/><circle cx="606.7" cy="374.5" r="1.7"/><circle cx="572.6" cy="388.7" r="1.7"/><circle cx="624.2" cy="378.7" r="1.7"/><circle cx="676.2" cy="382.6" r="1.7"/><circle cx="616.1" cy="394.6" r="1.7"/><circle cx="577.8" cy="391.1" r="1.7"/><circle cx="587.9" cy="374.7" r="1.7"/><circle cx="612.7" cy="379.4" r="1.7"/><circle cx="653.4" cy="381.7" r="1.7"/><circle cx="610.8" cy="392.6" r="1.7"/><circle cx="623.9" cy="385.4" r="1.7"/><circle cx="627.1" cy="388.4" r="1.7"/><circle cx="628.3" cy="360.6" r="1.7"/><circle cx="589.4" cy="381.0" r="1.7"/><circle cx="635.2" cy="367.6" r="1.7"/><circle cx="603.0" cy="383.2" r="1.7"/><circle cx="576.5" cy="387.5" r="1.7"/><circle cx="640.2" cy="367.4" r="1.7"/></g>
<g fill="#9868b4" fill-opacity="0.72"><circle cx="620.8" cy="380.5" r="1.7"/><circle cx="637.8" cy="384.0" r="1.7"/><circle cx="658.8" cy="378.7" r="1.7"/><circle cx="631.8" cy="376.0" r="1.7"/><circle cx="644.2" cy="389.7" r="1.7"/><circle cx="603.5" cy="375.4" r="1.7"/><circle cx="601.5" cy="370.5" r="1.7"/><circle cx="623.5" cy="388.3" r="1.7"/><circle cx="649.5" cy="377.4" r="1.7"/><circle cx="543.6" cy="396.4" r="1.7"/><circle cx="643.4" cy="371.4" r="1.7"/><circle cx="612.1" cy="396.4" r="1.7"/><circle cx="611.4" cy="381.2" r="1.7"/><circle cx="632.1" cy="374.1" r="1.7"/><circle cx="623.5" cy="386.2" r="1.7"/><circle cx="599.2" cy="370.8" r="1.7"/><circle cx="641.7" cy="369.5" r="1.7"/><circle cx="608.1" cy="384.6" r="1.7"/><circle cx="577.6" cy="384.2" r="1.7"/><circle cx="572.5" cy="385.4" r="1.7"/><circle cx="618.8" cy="389.0" r="1.7"/><circle cx="611.4" cy="376.6" r="1.7"/><circle cx="580.2" cy="369.2" r="1.7"/><circle cx="637.1" cy="388.5" r="1.7"/><circle cx="646.3" cy="375.2" r="1.7"/><circle cx="627.6" cy="387.4" r="1.7"/><circle cx="652.7" cy="360.2" r="1.7"/><circle cx="568.7" cy="385.5" r="1.7"/><circle cx="575.2" cy="383.4" r="1.7"/><circle cx="601.5" cy="388.9" r="1.7"/><circle cx="623.7" cy="390.1" r="1.7"/><circle cx="669.9" cy="375.1" r="1.7"/><circle cx="655.3" cy="368.4" r="1.7"/><circle cx="662.7" cy="358.0" r="1.7"/><circle cx="577.2" cy="377.6" r="1.7"/><circle cx="600.7" cy="378.4" r="1.7"/><circle cx="596.5" cy="390.0" r="1.7"/><circle cx="624.4" cy="373.7" r="1.7"/><circle cx="612.4" cy="386.6" r="1.7"/><circle cx="576.4" cy="390.3" r="1.7"/><circle cx="605.0" cy="373.7" r="1.7"/><circle cx="625.4" cy="381.0" r="1.7"/><circle cx="631.6" cy="392.1" r="1.7"/><circle cx="592.8" cy="382.5" r="1.7"/><circle cx="641.1" cy="362.3" r="1.7"/><circle cx="590.3" cy="383.2" r="1.7"/><circle cx="587.0" cy="393.9" r="1.7"/><circle cx="617.6" cy="389.4" r="1.7"/><circle cx="614.6" cy="368.0" r="1.7"/><circle cx="599.3" cy="388.8" r="1.7"/><circle cx="600.1" cy="384.7" r="1.7"/><circle cx="625.4" cy="386.3" r="1.7"/><circle cx="576.5" cy="404.8" r="1.7"/><circle cx="596.3" cy="395.4" r="1.7"/><circle cx="611.4" cy="377.5" r="1.7"/><circle cx="633.2" cy="385.7" r="1.7"/><circle cx="629.9" cy="372.3" r="1.7"/><circle cx="611.8" cy="372.9" r="1.7"/><circle cx="651.1" cy="387.9" r="1.7"/><circle cx="608.9" cy="388.1" r="1.7"/><circle cx="627.1" cy="379.2" r="1.7"/><circle cx="611.8" cy="386.1" r="1.7"/><circle cx="561.9" cy="377.9" r="1.7"/><circle cx="651.5" cy="369.3" r="1.7"/><circle cx="567.7" cy="384.2" r="1.7"/><circle cx="554.1" cy="387.6" r="1.7"/><circle cx="640.9" cy="364.8" r="1.7"/><circle cx="652.7" cy="375.0" r="1.7"/><circle cx="552.3" cy="373.0" r="1.7"/><circle cx="647.6" cy="365.0" r="1.7"/><circle cx="615.2" cy="384.1" r="1.7"/><circle cx="643.8" cy="384.7" r="1.7"/><circle cx="654.2" cy="371.0" r="1.7"/><circle cx="606.9" cy="396.8" r="1.7"/><circle cx="612.5" cy="375.1" r="1.7"/><circle cx="628.7" cy="377.2" r="1.7"/><circle cx="670.1" cy="370.2" r="1.7"/><circle cx="597.9" cy="384.5" r="1.7"/><circle cx="600.5" cy="372.4" r="1.7"/><circle cx="585.8" cy="387.7" r="1.7"/><circle cx="627.2" cy="387.1" r="1.7"/><circle cx="603.4" cy="372.7" r="1.7"/><circle cx="641.1" cy="384.6" r="1.7"/><circle cx="600.0" cy="394.0" r="1.7"/><circle cx="631.6" cy="374.1" r="1.7"/><circle cx="552.3" cy="392.6" r="1.7"/><circle cx="612.0" cy="392.3" r="1.7"/><circle cx="650.2" cy="364.8" r="1.7"/><circle cx="672.7" cy="374.3" r="1.7"/><circle cx="666.8" cy="371.8" r="1.7"/><circle cx="611.8" cy="387.0" r="1.7"/><circle cx="633.9" cy="380.0" r="1.7"/><circle cx="579.5" cy="406.8" r="1.7"/><circle cx="614.0" cy="395.1" r="1.7"/><circle cx="615.1" cy="362.1" r="1.7"/><circle cx="615.3" cy="380.6" r="1.7"/><circle cx="616.1" cy="363.5" r="1.7"/><circle cx="636.3" cy="371.0" r="1.7"/><circle cx="599.7" cy="396.5" r="1.7"/><circle cx="625.3" cy="381.2" r="1.7"/><circle cx="590.7" cy="387.0" r="1.7"/><circle cx="610.0" cy="385.0" r="1.7"/><circle cx="616.9" cy="383.3" r="1.7"/><circle cx="637.2" cy="362.9" r="1.7"/><circle cx="598.8" cy="370.3" r="1.7"/><circle cx="627.6" cy="367.5" r="1.7"/><circle cx="597.5" cy="392.0" r="1.7"/><circle cx="633.3" cy="386.7" r="1.7"/><circle cx="597.6" cy="362.5" r="1.7"/><circle cx="666.1" cy="365.5" r="1.7"/><circle cx="590.7" cy="390.1" r="1.7"/><circle cx="581.5" cy="384.2" r="1.7"/><circle cx="630.5" cy="375.0" r="1.7"/><circle cx="626.8" cy="369.9" r="1.7"/><circle cx="591.8" cy="376.8" r="1.7"/><circle cx="607.1" cy="385.2" r="1.7"/><circle cx="637.9" cy="378.6" r="1.7"/><circle cx="617.4" cy="380.5" r="1.7"/></g>
<g fill="#e2b24a" fill-opacity="0.72"><circle cx="570.4" cy="398.5" r="1.7"/><circle cx="642.0" cy="387.5" r="1.7"/><circle cx="631.0" cy="367.8" r="1.7"/><circle cx="638.2" cy="388.8" r="1.7"/><circle cx="617.4" cy="360.3" r="1.7"/><circle cx="618.2" cy="381.1" r="1.7"/><circle cx="643.5" cy="376.5" r="1.7"/><circle cx="626.8" cy="379.9" r="1.7"/><circle cx="616.5" cy="358.3" r="1.7"/><circle cx="581.9" cy="378.8" r="1.7"/><circle cx="574.9" cy="386.6" r="1.7"/><circle cx="589.9" cy="404.6" r="1.7"/><circle cx="640.2" cy="371.8" r="1.7"/><circle cx="632.8" cy="371.9" r="1.7"/><circle cx="636.2" cy="357.4" r="1.7"/><circle cx="603.6" cy="396.5" r="1.7"/><circle cx="553.5" cy="373.0" r="1.7"/><circle cx="590.6" cy="389.4" r="1.7"/><circle cx="579.0" cy="363.9" r="1.7"/><circle cx="570.3" cy="386.4" r="1.7"/><circle cx="592.6" cy="373.1" r="1.7"/><circle cx="639.3" cy="394.1" r="1.7"/><circle cx="612.1" cy="385.9" r="1.7"/></g>
<line x1="531.90" y1="396.80" x2="675.70" y2="370.30" stroke="#111" stroke-width="1.2"/>
<text x="532.0" y="336.2" font-size="7.8" fill="#161616" font-style="italic">R</text>
<text x="538.6" y="336.2" font-size="7.8" fill="#161616">= 0.49</text>
<text x="574.6" y="336.2" font-size="7.8" fill="#161616" font-style="italic">R</text>
<text x="580.3" y="332.6" font-size="5" fill="#161616">2</text>
<text x="585.2" y="336.2" font-size="7.8" fill="#161616">= 0.24</text>
<text x="617.8" y="336.2" font-size="7.8" fill="#161616" font-style="italic">p</text>
<text x="624.0" y="336.2" font-size="7.8" fill="#161616">&lt; 2.2e-16</text>
<text x="602.7" y="429.0" font-size="9.5" fill="#161616" text-anchor="middle">GMSD</text>
<rect x="510.30" y="345.10" width="11.90" height="56.00" fill="#fff" stroke="#c8202c" stroke-width="1.6" rx="4.5"/>
<text x="519.6" y="373.1" font-size="8.3" fill="#161616" text-anchor="middle" transform="rotate(-90 519.6 373.1)">IL-6 Signaling</text>
<line x1="524.30" y1="436.20" x2="524.30" y2="524.00" stroke="#333" stroke-width="0.9"/>
<line x1="524.30" y1="524.00" x2="684.00" y2="524.00" stroke="#333" stroke-width="0.9"/>
<g fill="#e2b24a" fill-opacity="0.72"><circle cx="557.6" cy="488.3" r="1.7"/><circle cx="565.0" cy="469.7" r="1.7"/><circle cx="565.9" cy="480.1" r="1.7"/><circle cx="572.5" cy="483.9" r="1.7"/><circle cx="554.3" cy="483.2" r="1.7"/><circle cx="556.9" cy="472.8" r="1.7"/><circle cx="578.6" cy="491.3" r="1.7"/><circle cx="569.3" cy="458.4" r="1.7"/><circle cx="586.0" cy="471.5" r="1.7"/><circle cx="569.9" cy="466.2" r="1.7"/><circle cx="543.4" cy="468.4" r="1.7"/><circle cx="546.4" cy="476.2" r="1.7"/><circle cx="551.6" cy="462.0" r="1.7"/><circle cx="574.9" cy="486.3" r="1.7"/><circle cx="563.8" cy="480.2" r="1.7"/><circle cx="558.6" cy="484.5" r="1.7"/><circle cx="552.3" cy="476.4" r="1.7"/><circle cx="560.1" cy="481.0" r="1.7"/><circle cx="554.8" cy="476.3" r="1.7"/><circle cx="574.2" cy="472.9" r="1.7"/><circle cx="563.3" cy="473.3" r="1.7"/><circle cx="569.5" cy="458.1" r="1.7"/><circle cx="567.9" cy="483.2" r="1.7"/><circle cx="580.8" cy="465.0" r="1.7"/><circle cx="568.4" cy="467.6" r="1.7"/><circle cx="586.8" cy="496.1" r="1.7"/><circle cx="557.1" cy="467.3" r="1.7"/><circle cx="540.3" cy="465.9" r="1.7"/><circle cx="557.0" cy="465.2" r="1.7"/><circle cx="571.4" cy="487.7" r="1.7"/><circle cx="559.9" cy="477.6" r="1.7"/><circle cx="540.2" cy="468.0" r="1.7"/><circle cx="545.4" cy="475.8" r="1.7"/><circle cx="615.2" cy="480.4" r="1.7"/><circle cx="555.0" cy="480.7" r="1.7"/><circle cx="574.9" cy="480.6" r="1.7"/><circle cx="559.9" cy="473.2" r="1.7"/><circle cx="541.0" cy="471.0" r="1.7"/><circle cx="557.8" cy="476.2" r="1.7"/><circle cx="581.2" cy="468.0" r="1.7"/><circle cx="546.5" cy="455.8" r="1.7"/><circle cx="546.2" cy="468.0" r="1.7"/><circle cx="556.5" cy="480.0" r="1.7"/><circle cx="574.7" cy="477.9" r="1.7"/><circle cx="560.1" cy="461.3" r="1.7"/><circle cx="560.6" cy="468.1" r="1.7"/><circle cx="545.4" cy="469.7" r="1.7"/><circle cx="551.0" cy="475.2" r="1.7"/><circle cx="581.7" cy="487.8" r="1.7"/><circle cx="553.8" cy="482.4" r="1.7"/><circle cx="569.5" cy="481.6" r="1.7"/><circle cx="593.6" cy="457.4" r="1.7"/><circle cx="550.8" cy="472.1" r="1.7"/><circle cx="544.1" cy="490.5" r="1.7"/><circle cx="560.1" cy="474.8" r="1.7"/><circle cx="565.2" cy="470.6" r="1.7"/><circle cx="548.8" cy="479.3" r="1.7"/><circle cx="564.8" cy="489.3" r="1.7"/><circle cx="539.6" cy="476.5" r="1.7"/><circle cx="577.2" cy="458.7" r="1.7"/><circle cx="571.9" cy="484.2" r="1.7"/><circle cx="557.0" cy="477.7" r="1.7"/><circle cx="584.3" cy="479.5" r="1.7"/><circle cx="565.1" cy="465.3" r="1.7"/><circle cx="571.7" cy="462.2" r="1.7"/><circle cx="559.6" cy="469.5" r="1.7"/><circle cx="577.1" cy="475.6" r="1.7"/><circle cx="562.8" cy="464.2" r="1.7"/><circle cx="571.2" cy="476.6" r="1.7"/><circle cx="570.1" cy="472.4" r="1.7"/><circle cx="560.4" cy="463.2" r="1.7"/><circle cx="548.8" cy="471.5" r="1.7"/><circle cx="548.7" cy="473.9" r="1.7"/><circle cx="588.0" cy="480.7" r="1.7"/><circle cx="576.0" cy="483.4" r="1.7"/><circle cx="573.1" cy="468.1" r="1.7"/><circle cx="564.6" cy="468.9" r="1.7"/><circle cx="590.6" cy="479.9" r="1.7"/><circle cx="563.9" cy="469.9" r="1.7"/><circle cx="558.1" cy="484.9" r="1.7"/><circle cx="559.8" cy="485.8" r="1.7"/><circle cx="533.3" cy="476.4" r="1.7"/><circle cx="560.0" cy="477.1" r="1.7"/><circle cx="527.2" cy="480.0" r="1.7"/><circle cx="571.3" cy="458.9" r="1.7"/><circle cx="554.7" cy="459.7" r="1.7"/><circle cx="558.6" cy="479.0" r="1.7"/><circle cx="554.5" cy="471.7" r="1.7"/><circle cx="544.2" cy="465.2" r="1.7"/><circle cx="570.2" cy="468.6" r="1.7"/><circle cx="538.2" cy="471.9" r="1.7"/><circle cx="552.7" cy="464.9" r="1.7"/><circle cx="542.6" cy="473.6" r="1.7"/><circle cx="569.0" cy="447.9" r="1.7"/><circle cx="541.6" cy="478.7" r="1.7"/><circle cx="568.8" cy="478.2" r="1.7"/><circle cx="568.8" cy="496.3" r="1.7"/></g>
<g fill="#7ab4ea" fill-opacity="0.72"><circle cx="571.1" cy="459.9" r="1.7"/><circle cx="576.8" cy="471.3" r="1.7"/><circle cx="545.8" cy="471.0" r="1.7"/><circle cx="552.2" cy="454.7" r="1.7"/><circle cx="569.1" cy="467.2" r="1.7"/><circle cx="549.0" cy="464.9" r="1.7"/><circle cx="587.6" cy="489.4" r="1.7"/><circle cx="574.8" cy="471.4" r="1.7"/><circle cx="552.9" cy="480.5" r="1.7"/></g>
<g fill="#9868b4" fill-opacity="0.72"><circle cx="546.4" cy="484.8" r="1.7"/></g>
<g fill="#7ab4ea" fill-opacity="0.72"><circle cx="653.4" cy="500.8" r="1.7"/><circle cx="606.3" cy="478.0" r="1.7"/><circle cx="633.2" cy="494.1" r="1.7"/><circle cx="603.9" cy="492.3" r="1.7"/><circle cx="606.8" cy="482.9" r="1.7"/><circle cx="609.0" cy="482.2" r="1.7"/><circle cx="649.1" cy="490.6" r="1.7"/><circle cx="667.0" cy="503.9" r="1.7"/><circle cx="605.4" cy="486.0" r="1.7"/><circle cx="603.8" cy="475.7" r="1.7"/><circle cx="587.1" cy="485.8" r="1.7"/><circle cx="646.1" cy="502.5" r="1.7"/><circle cx="663.0" cy="494.4" r="1.7"/><circle cx="594.3" cy="489.6" r="1.7"/><circle cx="633.3" cy="502.0" r="1.7"/><circle cx="586.4" cy="509.8" r="1.7"/><circle cx="624.6" cy="495.2" r="1.7"/><circle cx="616.0" cy="494.9" r="1.7"/><circle cx="638.9" cy="486.2" r="1.7"/><circle cx="592.7" cy="494.4" r="1.7"/><circle cx="663.6" cy="487.0" r="1.7"/><circle cx="653.3" cy="488.7" r="1.7"/><circle cx="592.6" cy="504.8" r="1.7"/><circle cx="619.1" cy="510.2" r="1.7"/><circle cx="616.3" cy="498.2" r="1.7"/><circle cx="620.8" cy="493.6" r="1.7"/><circle cx="656.7" cy="486.3" r="1.7"/><circle cx="551.7" cy="485.3" r="1.7"/><circle cx="658.5" cy="497.6" r="1.7"/><circle cx="605.4" cy="485.6" r="1.7"/><circle cx="545.2" cy="492.4" r="1.7"/><circle cx="569.7" cy="488.2" r="1.7"/><circle cx="594.1" cy="484.1" r="1.7"/><circle cx="618.5" cy="502.4" r="1.7"/><circle cx="625.9" cy="517.2" r="1.7"/><circle cx="592.8" cy="488.4" r="1.7"/><circle cx="633.5" cy="490.5" r="1.7"/><circle cx="633.8" cy="475.7" r="1.7"/><circle cx="563.5" cy="479.7" r="1.7"/><circle cx="620.2" cy="490.5" r="1.7"/><circle cx="589.6" cy="486.5" r="1.7"/><circle cx="667.1" cy="503.3" r="1.7"/><circle cx="660.8" cy="494.9" r="1.7"/><circle cx="625.5" cy="504.3" r="1.7"/><circle cx="607.7" cy="478.2" r="1.7"/><circle cx="632.5" cy="483.5" r="1.7"/><circle cx="601.6" cy="485.2" r="1.7"/><circle cx="604.2" cy="476.6" r="1.7"/><circle cx="619.9" cy="486.2" r="1.7"/><circle cx="632.1" cy="491.5" r="1.7"/><circle cx="584.2" cy="499.5" r="1.7"/><circle cx="585.9" cy="498.7" r="1.7"/><circle cx="621.8" cy="483.9" r="1.7"/><circle cx="622.3" cy="497.7" r="1.7"/><circle cx="601.5" cy="482.8" r="1.7"/><circle cx="618.3" cy="478.8" r="1.7"/><circle cx="657.2" cy="506.0" r="1.7"/><circle cx="623.8" cy="485.2" r="1.7"/><circle cx="629.2" cy="486.5" r="1.7"/><circle cx="543.3" cy="487.5" r="1.7"/><circle cx="612.5" cy="485.4" r="1.7"/><circle cx="618.5" cy="492.5" r="1.7"/><circle cx="631.4" cy="468.2" r="1.7"/><circle cx="601.7" cy="489.0" r="1.7"/><circle cx="594.4" cy="489.6" r="1.7"/><circle cx="551.1" cy="472.7" r="1.7"/><circle cx="633.8" cy="487.8" r="1.7"/><circle cx="638.4" cy="488.6" r="1.7"/><circle cx="618.9" cy="487.4" r="1.7"/><circle cx="587.9" cy="490.3" r="1.7"/><circle cx="642.0" cy="483.6" r="1.7"/><circle cx="566.7" cy="462.1" r="1.7"/><circle cx="649.6" cy="486.8" r="1.7"/><circle cx="612.8" cy="492.1" r="1.7"/><circle cx="602.1" cy="496.9" r="1.7"/><circle cx="648.1" cy="488.5" r="1.7"/><circle cx="600.8" cy="490.4" r="1.7"/><circle cx="610.0" cy="498.2" r="1.7"/><circle cx="623.0" cy="473.0" r="1.7"/><circle cx="660.4" cy="486.6" r="1.7"/><circle cx="581.4" cy="498.8" r="1.7"/><circle cx="571.4" cy="483.8" r="1.7"/><circle cx="667.9" cy="484.8" r="1.7"/><circle cx="570.6" cy="475.8" r="1.7"/><circle cx="620.6" cy="486.8" r="1.7"/><circle cx="643.4" cy="496.3" r="1.7"/><circle cx="614.2" cy="490.1" r="1.7"/><circle cx="618.1" cy="512.3" r="1.7"/><circle cx="647.4" cy="489.1" r="1.7"/><circle cx="595.6" cy="470.7" r="1.7"/><circle cx="609.7" cy="487.5" r="1.7"/><circle cx="608.7" cy="492.2" r="1.7"/><circle cx="593.0" cy="484.1" r="1.7"/><circle cx="646.2" cy="487.1" r="1.7"/><circle cx="645.2" cy="490.8" r="1.7"/><circle cx="661.3" cy="499.7" r="1.7"/><circle cx="656.1" cy="503.9" r="1.7"/><circle cx="650.0" cy="480.4" r="1.7"/><circle cx="584.0" cy="477.0" r="1.7"/><circle cx="655.1" cy="491.5" r="1.7"/><circle cx="620.1" cy="509.9" r="1.7"/><circle cx="608.8" cy="483.6" r="1.7"/><circle cx="599.1" cy="492.0" r="1.7"/><circle cx="586.0" cy="485.6" r="1.7"/><circle cx="603.3" cy="484.9" r="1.7"/><circle cx="605.2" cy="487.2" r="1.7"/><circle cx="618.1" cy="487.6" r="1.7"/><circle cx="628.8" cy="499.6" r="1.7"/><circle cx="631.4" cy="503.1" r="1.7"/><circle cx="612.8" cy="497.1" r="1.7"/><circle cx="647.2" cy="498.2" r="1.7"/><circle cx="612.1" cy="488.7" r="1.7"/><circle cx="637.8" cy="471.8" r="1.7"/><circle cx="610.8" cy="476.8" r="1.7"/><circle cx="558.6" cy="496.0" r="1.7"/><circle cx="623.5" cy="482.9" r="1.7"/><circle cx="625.6" cy="487.7" r="1.7"/><circle cx="623.7" cy="487.9" r="1.7"/><circle cx="569.3" cy="474.5" r="1.7"/><circle cx="633.6" cy="494.4" r="1.7"/><circle cx="592.6" cy="486.7" r="1.7"/><circle cx="577.1" cy="477.7" r="1.7"/><circle cx="616.3" cy="481.5" r="1.7"/><circle cx="553.4" cy="482.6" r="1.7"/><circle cx="596.6" cy="495.2" r="1.7"/><circle cx="612.9" cy="486.9" r="1.7"/><circle cx="602.5" cy="477.0" r="1.7"/><circle cx="644.6" cy="495.4" r="1.7"/><circle cx="610.4" cy="483.0" r="1.7"/><circle cx="599.7" cy="508.2" r="1.7"/><circle cx="624.2" cy="491.2" r="1.7"/><circle cx="615.4" cy="492.2" r="1.7"/><circle cx="618.9" cy="486.6" r="1.7"/><circle cx="615.8" cy="482.1" r="1.7"/><circle cx="627.4" cy="493.4" r="1.7"/><circle cx="608.2" cy="485.3" r="1.7"/><circle cx="639.1" cy="489.7" r="1.7"/><circle cx="628.7" cy="496.0" r="1.7"/><circle cx="614.4" cy="483.3" r="1.7"/><circle cx="639.7" cy="487.4" r="1.7"/><circle cx="630.2" cy="481.5" r="1.7"/><circle cx="608.0" cy="493.7" r="1.7"/><circle cx="592.8" cy="466.0" r="1.7"/><circle cx="646.9" cy="496.3" r="1.7"/><circle cx="620.9" cy="489.1" r="1.7"/><circle cx="650.2" cy="493.1" r="1.7"/><circle cx="596.4" cy="484.1" r="1.7"/><circle cx="575.1" cy="473.4" r="1.7"/><circle cx="581.9" cy="482.8" r="1.7"/><circle cx="589.1" cy="493.3" r="1.7"/><circle cx="625.6" cy="480.4" r="1.7"/><circle cx="642.6" cy="482.4" r="1.7"/><circle cx="584.1" cy="484.3" r="1.7"/><circle cx="614.6" cy="486.2" r="1.7"/></g>
<g fill="#9868b4" fill-opacity="0.72"><circle cx="639.5" cy="487.4" r="1.7"/><circle cx="613.7" cy="473.7" r="1.7"/><circle cx="636.8" cy="496.0" r="1.7"/><circle cx="640.6" cy="515.5" r="1.7"/><circle cx="648.8" cy="480.8" r="1.7"/><circle cx="583.2" cy="477.3" r="1.7"/><circle cx="629.0" cy="498.9" r="1.7"/><circle cx="628.2" cy="478.4" r="1.7"/><circle cx="623.2" cy="484.8" r="1.7"/><circle cx="664.9" cy="495.6" r="1.7"/><circle cx="645.2" cy="496.9" r="1.7"/><circle cx="639.0" cy="487.4" r="1.7"/><circle cx="604.2" cy="508.4" r="1.7"/><circle cx="617.9" cy="490.5" r="1.7"/><circle cx="633.1" cy="481.9" r="1.7"/><circle cx="605.9" cy="493.0" r="1.7"/><circle cx="631.6" cy="503.3" r="1.7"/><circle cx="580.8" cy="495.5" r="1.7"/><circle cx="597.3" cy="493.2" r="1.7"/><circle cx="644.1" cy="501.9" r="1.7"/><circle cx="592.4" cy="474.3" r="1.7"/><circle cx="646.4" cy="493.7" r="1.7"/><circle cx="624.7" cy="480.9" r="1.7"/><circle cx="664.3" cy="481.9" r="1.7"/><circle cx="626.9" cy="486.8" r="1.7"/><circle cx="572.3" cy="475.4" r="1.7"/><circle cx="585.9" cy="462.1" r="1.7"/><circle cx="632.9" cy="494.2" r="1.7"/><circle cx="616.2" cy="506.6" r="1.7"/><circle cx="588.5" cy="471.7" r="1.7"/><circle cx="612.7" cy="481.7" r="1.7"/><circle cx="570.1" cy="485.8" r="1.7"/><circle cx="563.5" cy="482.6" r="1.7"/><circle cx="636.6" cy="502.0" r="1.7"/><circle cx="568.1" cy="500.5" r="1.7"/><circle cx="638.6" cy="485.5" r="1.7"/><circle cx="578.9" cy="485.9" r="1.7"/><circle cx="613.4" cy="488.2" r="1.7"/><circle cx="632.3" cy="486.0" r="1.7"/><circle cx="656.2" cy="502.6" r="1.7"/><circle cx="641.7" cy="474.6" r="1.7"/><circle cx="649.2" cy="497.7" r="1.7"/><circle cx="579.0" cy="462.0" r="1.7"/><circle cx="639.2" cy="485.1" r="1.7"/><circle cx="628.3" cy="489.4" r="1.7"/><circle cx="574.7" cy="479.8" r="1.7"/><circle cx="618.9" cy="496.1" r="1.7"/><circle cx="632.2" cy="488.3" r="1.7"/><circle cx="604.9" cy="481.9" r="1.7"/><circle cx="615.3" cy="473.8" r="1.7"/><circle cx="647.9" cy="483.9" r="1.7"/><circle cx="604.2" cy="495.5" r="1.7"/><circle cx="644.5" cy="491.5" r="1.7"/><circle cx="644.5" cy="487.1" r="1.7"/><circle cx="617.7" cy="478.6" r="1.7"/><circle cx="664.6" cy="494.5" r="1.7"/><circle cx="658.2" cy="487.4" r="1.7"/><circle cx="626.7" cy="487.5" r="1.7"/><circle cx="602.2" cy="496.4" r="1.7"/><circle cx="627.5" cy="485.7" r="1.7"/><circle cx="622.5" cy="488.4" r="1.7"/><circle cx="567.9" cy="493.5" r="1.7"/><circle cx="659.3" cy="493.4" r="1.7"/><circle cx="642.3" cy="476.3" r="1.7"/><circle cx="625.3" cy="477.8" r="1.7"/><circle cx="620.8" cy="475.4" r="1.7"/><circle cx="606.7" cy="490.2" r="1.7"/><circle cx="577.3" cy="496.7" r="1.7"/><circle cx="653.6" cy="498.8" r="1.7"/><circle cx="631.8" cy="484.6" r="1.7"/><circle cx="613.4" cy="495.3" r="1.7"/><circle cx="636.9" cy="476.9" r="1.7"/><circle cx="638.7" cy="486.5" r="1.7"/><circle cx="610.9" cy="482.3" r="1.7"/><circle cx="592.1" cy="477.6" r="1.7"/><circle cx="641.1" cy="496.7" r="1.7"/><circle cx="617.4" cy="505.0" r="1.7"/><circle cx="625.3" cy="498.2" r="1.7"/><circle cx="598.7" cy="475.3" r="1.7"/><circle cx="627.5" cy="492.3" r="1.7"/><circle cx="665.3" cy="507.9" r="1.7"/><circle cx="578.5" cy="477.3" r="1.7"/><circle cx="627.8" cy="491.9" r="1.7"/><circle cx="609.6" cy="491.4" r="1.7"/><circle cx="595.9" cy="488.9" r="1.7"/><circle cx="634.8" cy="492.5" r="1.7"/><circle cx="548.5" cy="483.2" r="1.7"/><circle cx="596.0" cy="487.3" r="1.7"/><circle cx="573.4" cy="471.8" r="1.7"/><circle cx="616.7" cy="477.8" r="1.7"/><circle cx="670.1" cy="490.2" r="1.7"/><circle cx="608.6" cy="474.6" r="1.7"/><circle cx="633.5" cy="485.2" r="1.7"/><circle cx="628.9" cy="478.7" r="1.7"/><circle cx="637.6" cy="491.1" r="1.7"/><circle cx="568.0" cy="482.4" r="1.7"/><circle cx="638.1" cy="492.6" r="1.7"/><circle cx="651.0" cy="487.6" r="1.7"/><circle cx="600.2" cy="498.2" r="1.7"/><circle cx="680.0" cy="504.0" r="1.7"/><circle cx="615.8" cy="487.3" r="1.7"/><circle cx="651.4" cy="508.2" r="1.7"/><circle cx="601.7" cy="477.5" r="1.7"/><circle cx="661.9" cy="502.6" r="1.7"/><circle cx="655.3" cy="489.7" r="1.7"/><circle cx="590.0" cy="492.9" r="1.7"/><circle cx="637.8" cy="499.8" r="1.7"/><circle cx="610.3" cy="492.7" r="1.7"/></g>
<g fill="#e2b24a" fill-opacity="0.72"><circle cx="663.5" cy="475.9" r="1.7"/><circle cx="616.9" cy="497.3" r="1.7"/><circle cx="649.9" cy="471.9" r="1.7"/><circle cx="590.0" cy="493.8" r="1.7"/><circle cx="624.3" cy="472.6" r="1.7"/><circle cx="589.8" cy="486.8" r="1.7"/><circle cx="617.6" cy="494.9" r="1.7"/><circle cx="597.4" cy="488.0" r="1.7"/><circle cx="630.3" cy="484.9" r="1.7"/><circle cx="598.6" cy="507.0" r="1.7"/><circle cx="674.3" cy="496.2" r="1.7"/><circle cx="623.3" cy="488.9" r="1.7"/><circle cx="608.1" cy="485.6" r="1.7"/><circle cx="619.3" cy="485.3" r="1.7"/><circle cx="648.7" cy="493.2" r="1.7"/><circle cx="665.3" cy="484.8" r="1.7"/><circle cx="631.6" cy="480.7" r="1.7"/><circle cx="619.7" cy="493.3" r="1.7"/><circle cx="622.7" cy="494.3" r="1.7"/><circle cx="622.4" cy="506.7" r="1.7"/><circle cx="665.9" cy="493.9" r="1.7"/></g>
<line x1="531.90" y1="476.80" x2="676.20" y2="491.60" stroke="#111" stroke-width="1.2"/>
<text x="532.0" y="444.3" font-size="7.8" fill="#161616" font-style="italic">R</text>
<text x="538.6" y="444.3" font-size="7.8" fill="#161616">= −0.26</text>
<text x="574.6" y="444.3" font-size="7.8" fill="#161616" font-style="italic">R</text>
<text x="580.3" y="440.7" font-size="5" fill="#161616">2</text>
<text x="585.2" y="444.3" font-size="7.8" fill="#161616">= 0.067</text>
<text x="617.8" y="444.3" font-size="7.8" fill="#161616" font-style="italic">p</text>
<text x="624.0" y="444.3" font-size="7.8" fill="#161616">= 1.8e-08</text>
<text x="602.7" y="537.0" font-size="9.5" fill="#161616" text-anchor="middle">GMSD</text>
<rect x="510.30" y="445.70" width="11.90" height="66.70" fill="#fff" stroke="#1c1ca0" stroke-width="1.6" rx="4.5"/>
<text x="519.6" y="479.0" font-size="8.3" fill="#161616" text-anchor="middle" transform="rotate(-90 519.6 479.0)">IL-15 production</text>
<circle cx="533.8" cy="347.0" r="1.8" fill="#e2b24a"/>
<text x="540.5" y="349.3" font-size="6.6" fill="#444">RRMS</text>
<circle cx="533.8" cy="353.3" r="1.8" fill="#9868b4"/>
<text x="540.5" y="355.6" font-size="6.6" fill="#444">SPMS</text>
<circle cx="533.8" cy="359.6" r="1.8" fill="#7ab4ea"/>
<text x="540.5" y="361.9" font-size="6.6" fill="#444">PPMS</text>
<circle cx="533.8" cy="503.0" r="1.8" fill="#e2b24a"/>
<text x="540.5" y="505.3" font-size="6.6" fill="#444">RRMS</text>
<circle cx="533.8" cy="509.3" r="1.8" fill="#9868b4"/>
<text x="540.5" y="511.6" font-size="6.6" fill="#444">SPMS</text>
<circle cx="533.8" cy="515.6" r="1.8" fill="#7ab4ea"/>
<text x="540.5" y="517.9" font-size="6.6" fill="#444">PPMS</text>
<text x="656.8" y="408.6" font-size="8.8" fill="#161616">n=459</text>
<text x="656.8" y="514.0" font-size="8.8" fill="#161616">n=459</text>
<circle cx="676.0" cy="332.5" r="1.6" fill="#7ab4ea" fill-opacity="0.8"/>
<circle cx="676.0" cy="521.0" r="1.6" fill="#7ab4ea" fill-opacity="0.8"/>
<text x="6.3" y="568.8" font-size="15" fill="#000" font-weight="bold">d</text>
<text x="24.1" y="567.8" font-size="10.9" fill="#161616">Identification of proteins/pathways preferentially associated with brain damage vs spinal cord damage</text>
<text x="76.0" y="594.8" font-size="9.6" fill="#3c8a30" text-anchor="middle">Cohort matched</text>
<text x="76.0" y="606.0" font-size="9.6" fill="#3c8a30" text-anchor="middle">for  S C injury</text>
<g fill="none" stroke-width="0.5" stroke-opacity="0.8"><circle cx="40.1" cy="666.9" r="1.8" stroke="#c8c8c8" stroke-width="0.5"/><circle cx="74.7" cy="655.6" r="1.8" stroke="#c8c8c8" stroke-width="0.5"/><circle cx="45.8" cy="668.5" r="1.8" stroke="#c8c8c8" stroke-width="0.5"/><circle cx="78.4" cy="653.4" r="1.8" stroke="#c8c8c8" stroke-width="0.5"/><circle cx="77.6" cy="658.9" r="1.8" stroke="#c8c8c8" stroke-width="0.5"/><circle cx="62.8" cy="662.9" r="1.8" stroke="#c8c8c8" stroke-width="0.5"/><circle cx="86.4" cy="661.4" r="1.8" stroke="#c8c8c8" stroke-width="0.5"/><circle cx="47.5" cy="668.8" r="1.8" stroke="#c8c8c8" stroke-width="0.5"/><circle cx="47.6" cy="676.6" r="1.8" stroke="#c8c8c8" stroke-width="0.5"/><circle cx="103.3" cy="655.0" r="1.8" stroke="#c8c8c8" stroke-width="0.5"/><circle cx="118.3" cy="647.8" r="1.8" stroke="#c8c8c8" stroke-width="0.5"/><circle cx="58.2" cy="663.3" r="1.8" stroke="#c8c8c8" stroke-width="0.5"/><circle cx="76.7" cy="664.6" r="1.8" stroke="#c8c8c8" stroke-width="0.5"/><circle cx="62.5" cy="667.6" r="1.8" stroke="#c8c8c8" stroke-width="0.5"/><circle cx="39.0" cy="669.4" r="1.8" stroke="#c8c8c8" stroke-width="0.5"/><circle cx="124.1" cy="645.5" r="1.8" stroke="#c8c8c8" stroke-width="0.5"/><circle cx="71.8" cy="657.7" r="1.8" stroke="#c8c8c8" stroke-width="0.5"/><circle cx="75.3" cy="658.5" r="1.8" stroke="#c8c8c8" stroke-width="0.5"/><circle cx="42.6" cy="673.7" r="1.8" stroke="#c8c8c8" stroke-width="0.5"/><circle cx="47.8" cy="667.9" r="1.8" stroke="#c8c8c8" stroke-width="0.5"/><circle cx="107.8" cy="653.1" r="1.8" stroke="#c8c8c8" stroke-width="0.5"/><circle cx="120.3" cy="655.5" r="1.8" stroke="#c8c8c8" stroke-width="0.5"/><circle cx="105.0" cy="652.1" r="1.8" stroke="#c8c8c8" stroke-width="0.5"/><circle cx="102.3" cy="648.5" r="1.8" stroke="#c8c8c8" stroke-width="0.5"/><circle cx="35.5" cy="664.1" r="1.8" stroke="#c8c8c8" stroke-width="0.5"/><circle cx="44.1" cy="668.3" r="1.8" stroke="#c8c8c8" stroke-width="0.5"/><circle cx="123.5" cy="649.3" r="1.8" stroke="#c8c8c8" stroke-width="0.5"/><circle cx="62.2" cy="660.8" r="1.8" stroke="#c8c8c8" stroke-width="0.5"/><circle cx="71.6" cy="653.0" r="1.8" stroke="#c8c8c8" stroke-width="0.5"/><circle cx="64.5" cy="668.6" r="1.8" stroke="#c8c8c8" stroke-width="0.5"/><circle cx="25.0" cy="676.4" r="1.8" stroke="#c8c8c8" stroke-width="0.5"/><circle cx="131.2" cy="647.7" r="1.8" stroke="#c8c8c8" stroke-width="0.5"/><circle cx="76.6" cy="655.3" r="1.8" stroke="#c8c8c8" stroke-width="0.5"/><circle cx="104.3" cy="652.2" r="1.8" stroke="#c8c8c8" stroke-width="0.5"/><circle cx="46.4" cy="663.9" r="1.8" stroke="#c8c8c8" stroke-width="0.5"/><circle cx="90.5" cy="653.1" r="1.8" stroke="#c8c8c8" stroke-width="0.5"/><circle cx="41.9" cy="669.4" r="1.8" stroke="#c8c8c8" stroke-width="0.5"/><circle cx="124.0" cy="649.3" r="1.8" stroke="#c8c8c8" stroke-width="0.5"/><circle cx="60.1" cy="661.2" r="1.8" stroke="#c8c8c8" stroke-width="0.5"/><circle cx="33.4" cy="668.8" r="1.8" stroke="#c8c8c8" stroke-width="0.5"/><circle cx="29.2" cy="673.3" r="1.8" stroke="#c8c8c8" stroke-width="0.5"/><circle cx="63.2" cy="657.7" r="1.8" stroke="#c8c8c8" stroke-width="0.5"/><circle cx="97.2" cy="650.9" r="1.8" stroke="#c8c8c8" stroke-width="0.5"/><circle cx="127.4" cy="640.3" r="1.8" stroke="#c8c8c8" stroke-width="0.5"/><circle cx="66.8" cy="669.3" r="1.8" stroke="#c8c8c8" stroke-width="0.5"/><circle cx="87.0" cy="655.9" r="1.8" stroke="#c8c8c8" stroke-width="0.5"/><circle cx="119.1" cy="645.2" r="1.8" stroke="#c8c8c8" stroke-width="0.5"/><circle cx="49.2" cy="666.3" r="1.8" stroke="#c8c8c8" stroke-width="0.5"/><circle cx="118.4" cy="648.9" r="1.8" stroke="#c8c8c8" stroke-width="0.5"/><circle cx="110.6" cy="651.3" r="1.8" stroke="#c8c8c8" stroke-width="0.5"/><circle cx="107.1" cy="645.5" r="1.8" stroke="#c8c8c8" stroke-width="0.5"/><circle cx="27.7" cy="672.3" r="1.8" stroke="#c8c8c8" stroke-width="0.5"/><circle cx="50.4" cy="665.1" r="1.8" stroke="#c8c8c8" stroke-width="0.5"/><circle cx="40.8" cy="671.3" r="1.8" stroke="#c8c8c8" stroke-width="0.5"/><circle cx="29.6" cy="667.8" r="1.8" stroke="#c8c8c8" stroke-width="0.5"/><circle cx="130.2" cy="650.8" r="1.8" stroke="#c8c8c8" stroke-width="0.5"/><circle cx="104.0" cy="649.8" r="1.8" stroke="#c8c8c8" stroke-width="0.5"/><circle cx="127.5" cy="646.3" r="1.8" stroke="#c8c8c8" stroke-width="0.5"/><circle cx="79.8" cy="658.2" r="1.8" stroke="#c8c8c8" stroke-width="0.5"/><circle cx="45.3" cy="666.4" r="1.8" stroke="#c8c8c8" stroke-width="0.5"/><circle cx="112.5" cy="634.8" r="1.8" stroke="#4e9a3a"/><circle cx="86.9" cy="653.5" r="1.8" stroke="#4e9a3a"/><circle cx="68.0" cy="660.4" r="1.8" stroke="#4e9a3a"/><circle cx="55.3" cy="660.2" r="1.8" stroke="#4e9a3a"/><circle cx="79.7" cy="649.2" r="1.8" stroke="#4e9a3a"/><circle cx="23.1" cy="650.1" r="1.8" stroke="#4e9a3a"/><circle cx="96.0" cy="641.6" r="1.8" stroke="#4e9a3a"/><circle cx="86.1" cy="646.1" r="1.8" stroke="#4e9a3a"/><circle cx="91.5" cy="638.7" r="1.8" stroke="#4e9a3a"/><circle cx="49.8" cy="662.4" r="1.8" stroke="#4e9a3a"/><circle cx="65.8" cy="636.2" r="1.8" stroke="#4e9a3a"/><circle cx="36.4" cy="662.3" r="1.8" stroke="#4e9a3a"/><circle cx="32.2" cy="658.2" r="1.8" stroke="#4e9a3a"/><circle cx="70.3" cy="648.8" r="1.8" stroke="#4e9a3a"/><circle cx="37.2" cy="651.4" r="1.8" stroke="#4e9a3a"/><circle cx="35.7" cy="666.2" r="1.8" stroke="#4e9a3a"/><circle cx="80.2" cy="650.8" r="1.8" stroke="#4e9a3a"/><circle cx="45.7" cy="648.7" r="1.8" stroke="#4e9a3a"/><circle cx="39.9" cy="654.8" r="1.8" stroke="#4e9a3a"/><circle cx="98.7" cy="636.2" r="1.8" stroke="#4e9a3a"/><circle cx="81.4" cy="636.3" r="1.8" stroke="#4e9a3a"/><circle cx="116.4" cy="634.7" r="1.8" stroke="#4e9a3a"/><circle cx="105.6" cy="640.4" r="1.8" stroke="#4e9a3a"/><circle cx="72.1" cy="650.1" r="1.8" stroke="#4e9a3a"/><circle cx="28.9" cy="660.0" r="1.8" stroke="#4e9a3a"/><circle cx="98.8" cy="646.7" r="1.8" stroke="#4e9a3a"/><circle cx="49.3" cy="657.1" r="1.8" stroke="#4e9a3a"/><circle cx="26.5" cy="666.7" r="1.8" stroke="#4e9a3a"/><circle cx="64.0" cy="656.8" r="1.8" stroke="#4e9a3a"/><circle cx="53.9" cy="639.9" r="1.8" stroke="#4e9a3a"/><circle cx="76.3" cy="653.9" r="1.8" stroke="#4e9a3a"/><circle cx="32.6" cy="664.6" r="1.8" stroke="#4e9a3a"/><circle cx="86.9" cy="656.0" r="1.8" stroke="#4e9a3a"/><circle cx="126.4" cy="635.8" r="1.8" stroke="#4e9a3a"/><circle cx="55.5" cy="656.2" r="1.8" stroke="#4e9a3a"/><circle cx="82.6" cy="654.7" r="1.8" stroke="#4e9a3a"/><circle cx="28.9" cy="652.8" r="1.8" stroke="#4e9a3a"/><circle cx="60.4" cy="656.6" r="1.8" stroke="#4e9a3a"/><circle cx="56.4" cy="650.0" r="1.8" stroke="#4e9a3a"/><circle cx="30.2" cy="660.2" r="1.8" stroke="#4e9a3a"/><circle cx="29.9" cy="655.5" r="1.8" stroke="#4e9a3a"/><circle cx="70.4" cy="660.6" r="1.8" stroke="#4e9a3a"/><circle cx="89.1" cy="634.9" r="1.8" stroke="#4e9a3a"/><circle cx="69.8" cy="648.6" r="1.8" stroke="#4e9a3a"/><circle cx="77.9" cy="653.2" r="1.8" stroke="#4e9a3a"/><circle cx="46.4" cy="651.3" r="1.8" stroke="#4e9a3a"/><circle cx="27.3" cy="665.6" r="1.8" stroke="#4e9a3a"/><circle cx="98.1" cy="640.4" r="1.8" stroke="#4e9a3a"/><circle cx="110.3" cy="640.7" r="1.8" stroke="#4e9a3a"/><circle cx="47.5" cy="663.2" r="1.8" stroke="#4e9a3a"/><circle cx="63.6" cy="661.3" r="1.8" stroke="#4e9a3a"/><circle cx="126.0" cy="634.5" r="1.8" stroke="#4e9a3a"/><circle cx="31.2" cy="667.9" r="1.8" stroke="#4e9a3a"/><circle cx="99.5" cy="641.2" r="1.8" stroke="#4e9a3a"/><circle cx="118.2" cy="635.6" r="1.8" stroke="#4e9a3a"/><circle cx="103.9" cy="650.7" r="1.8" stroke="#4e9a3a"/><circle cx="94.1" cy="636.7" r="1.8" stroke="#4e9a3a"/><circle cx="95.8" cy="651.6" r="1.8" stroke="#4e9a3a"/><circle cx="48.5" cy="649.3" r="1.8" stroke="#4e9a3a"/><circle cx="88.4" cy="648.5" r="1.8" stroke="#4e9a3a"/><circle cx="22.7" cy="666.7" r="1.8" stroke="#4e9a3a"/><circle cx="55.8" cy="656.1" r="1.8" stroke="#4e9a3a"/><circle cx="37.7" cy="651.7" r="1.8" stroke="#4e9a3a"/><circle cx="81.8" cy="641.5" r="1.8" stroke="#4e9a3a"/><circle cx="123.9" cy="633.1" r="1.8" stroke="#4e9a3a"/><circle cx="102.2" cy="644.8" r="1.8" stroke="#4e9a3a"/><circle cx="125.2" cy="634.8" r="1.8" stroke="#4e9a3a"/><circle cx="98.0" cy="640.8" r="1.8" stroke="#4e9a3a"/><circle cx="91.3" cy="638.2" r="1.8" stroke="#4e9a3a"/><circle cx="95.6" cy="644.4" r="1.8" stroke="#4e9a3a"/><circle cx="56.8" cy="636.0" r="1.8" stroke="#4e9a3a"/><circle cx="49.5" cy="652.8" r="1.8" stroke="#4e9a3a"/><circle cx="95.6" cy="646.5" r="1.8" stroke="#4e9a3a"/><circle cx="43.6" cy="661.2" r="1.8" stroke="#4e9a3a"/><circle cx="76.6" cy="673.3" r="1.8" stroke="#96d468"/><circle cx="77.7" cy="664.8" r="1.8" stroke="#96d468"/><circle cx="47.8" cy="672.8" r="1.8" stroke="#96d468"/><circle cx="23.5" cy="686.1" r="1.8" stroke="#96d468"/><circle cx="45.9" cy="681.8" r="1.8" stroke="#96d468"/><circle cx="82.0" cy="667.4" r="1.8" stroke="#96d468"/><circle cx="20.8" cy="686.0" r="1.8" stroke="#96d468"/><circle cx="93.7" cy="667.5" r="1.8" stroke="#96d468"/><circle cx="100.8" cy="658.9" r="1.8" stroke="#96d468"/><circle cx="96.1" cy="664.1" r="1.8" stroke="#96d468"/><circle cx="72.8" cy="667.9" r="1.8" stroke="#96d468"/><circle cx="107.7" cy="651.6" r="1.8" stroke="#96d468"/><circle cx="108.6" cy="660.6" r="1.8" stroke="#96d468"/><circle cx="96.2" cy="663.2" r="1.8" stroke="#96d468"/><circle cx="81.9" cy="663.5" r="1.8" stroke="#96d468"/><circle cx="53.2" cy="675.7" r="1.8" stroke="#96d468"/><circle cx="82.9" cy="671.1" r="1.8" stroke="#96d468"/><circle cx="84.0" cy="667.9" r="1.8" stroke="#96d468"/><circle cx="87.9" cy="663.8" r="1.8" stroke="#96d468"/><circle cx="23.8" cy="678.8" r="1.8" stroke="#96d468"/><circle cx="74.0" cy="662.2" r="1.8" stroke="#96d468"/><circle cx="30.6" cy="675.0" r="1.8" stroke="#96d468"/><circle cx="80.6" cy="666.2" r="1.8" stroke="#96d468"/><circle cx="41.8" cy="671.0" r="1.8" stroke="#96d468"/><circle cx="55.9" cy="671.3" r="1.8" stroke="#96d468"/><circle cx="77.0" cy="665.0" r="1.8" stroke="#96d468"/><circle cx="85.4" cy="669.6" r="1.8" stroke="#96d468"/><circle cx="48.3" cy="677.1" r="1.8" stroke="#96d468"/><circle cx="115.6" cy="650.8" r="1.8" stroke="#96d468"/><circle cx="76.8" cy="659.2" r="1.8" stroke="#96d468"/><circle cx="112.3" cy="659.1" r="1.8" stroke="#96d468"/><circle cx="82.4" cy="661.4" r="1.8" stroke="#96d468"/><circle cx="68.9" cy="668.3" r="1.8" stroke="#96d468"/><circle cx="76.5" cy="660.2" r="1.8" stroke="#96d468"/><circle cx="76.6" cy="665.8" r="1.8" stroke="#96d468"/><circle cx="82.7" cy="658.9" r="1.8" stroke="#96d468"/><circle cx="100.9" cy="664.4" r="1.8" stroke="#96d468"/><circle cx="75.1" cy="666.8" r="1.8" stroke="#96d468"/><circle cx="63.1" cy="673.6" r="1.8" stroke="#96d468"/><circle cx="41.5" cy="686.1" r="1.8" stroke="#96d468"/><circle cx="110.7" cy="664.1" r="1.8" stroke="#96d468"/><circle cx="44.5" cy="672.7" r="1.8" stroke="#96d468"/><circle cx="88.9" cy="656.6" r="1.8" stroke="#96d468"/><circle cx="84.6" cy="671.3" r="1.8" stroke="#96d468"/><circle cx="70.9" cy="669.8" r="1.8" stroke="#96d468"/><circle cx="80.3" cy="667.5" r="1.8" stroke="#96d468"/><circle cx="57.2" cy="668.4" r="1.8" stroke="#96d468"/><circle cx="78.1" cy="665.4" r="1.8" stroke="#96d468"/><circle cx="83.8" cy="666.5" r="1.8" stroke="#96d468"/><circle cx="64.4" cy="668.0" r="1.8" stroke="#96d468"/><circle cx="89.2" cy="668.2" r="1.8" stroke="#96d468"/><circle cx="92.9" cy="658.6" r="1.8" stroke="#96d468"/><circle cx="57.8" cy="667.4" r="1.8" stroke="#96d468"/><circle cx="85.0" cy="661.3" r="1.8" stroke="#96d468"/><circle cx="67.4" cy="676.0" r="1.8" stroke="#96d468"/><circle cx="62.5" cy="671.7" r="1.8" stroke="#96d468"/><circle cx="116.4" cy="660.8" r="1.8" stroke="#96d468"/><circle cx="79.8" cy="668.8" r="1.8" stroke="#96d468"/><circle cx="80.4" cy="665.2" r="1.8" stroke="#96d468"/><circle cx="77.5" cy="667.2" r="1.8" stroke="#96d468"/><circle cx="41.1" cy="684.8" r="1.8" stroke="#96d468"/><circle cx="82.1" cy="663.3" r="1.8" stroke="#96d468"/><circle cx="71.7" cy="675.6" r="1.8" stroke="#96d468"/><circle cx="88.5" cy="667.6" r="1.8" stroke="#96d468"/><circle cx="62.2" cy="679.2" r="1.8" stroke="#96d468"/><circle cx="110.9" cy="667.2" r="1.8" stroke="#96d468"/><circle cx="88.8" cy="659.4" r="1.8" stroke="#96d468"/><circle cx="92.3" cy="659.0" r="1.8" stroke="#96d468"/><circle cx="103.2" cy="658.2" r="1.8" stroke="#96d468"/><circle cx="97.4" cy="659.1" r="1.8" stroke="#96d468"/><circle cx="70.0" cy="671.2" r="1.8" stroke="#96d468"/><circle cx="66.4" cy="679.4" r="1.8" stroke="#96d468"/><circle cx="79.5" cy="672.3" r="1.8" stroke="#96d468"/><circle cx="53.3" cy="677.1" r="1.8" stroke="#96d468"/><circle cx="86.2" cy="667.1" r="1.8" stroke="#96d468"/><circle cx="35.5" cy="680.7" r="1.8" stroke="#96d468"/><circle cx="31.8" cy="676.7" r="1.8" stroke="#96d468"/><circle cx="85.8" cy="662.4" r="1.8" stroke="#96d468"/><circle cx="77.6" cy="667.3" r="1.8" stroke="#96d468"/><circle cx="29.8" cy="682.0" r="1.8" stroke="#96d468"/></g>
<path d="M22.2,670.6 L131.7,642.4 L131.7,647.4 L22.2,675.6 Z" fill="#aaa" fill-opacity="0.35"/>
<line x1="22.20" y1="673.10" x2="131.70" y2="644.90" stroke="#161616" stroke-width="1.5"/>
<line x1="16.30" y1="619.50" x2="16.30" y2="690.40" stroke="#444" stroke-width="0.9"/>
<line x1="16.30" y1="690.40" x2="136.50" y2="690.40" stroke="#444" stroke-width="0.9"/>
<text x="113.9" y="629.5" font-size="9.2" fill="#4e9a3a">Q3</text>
<text x="113.9" y="676.0" font-size="9.2" fill="#96d468">Q1</text>
<text x="114.3" y="689.4" font-size="8.8" fill="#161616">n=449</text>
<text x="12.6" y="655.5" font-size="8.8" fill="#161616" text-anchor="middle" transform="rotate(-90 12.6 655.5)">Brain damage</text>
<text x="76.2" y="700.0" font-size="8.8" fill="#161616" text-anchor="middle">CombiWISE</text>
<path d="M29.1,798.0L51.2,794.2M32.3,787.2L55.0,784.5M31.5,765.1L57.9,764.7M28.6,754.5L52.1,754.3M31.1,784.4L54.3,785.7M32.0,787.2L52.6,785.0M28.7,774.4L55.0,773.2M33.4,751.9L55.4,752.8M28.0,783.4L55.0,786.3M33.4,752.9L54.0,752.9M32.1,755.1L50.2,755.1M31.3,784.6L52.5,783.1M28.8,758.6L53.6,759.1M28.8,762.3L56.5,763.0M25.5,764.1L49.9,763.7M30.6,729.3L57.2,723.6M30.4,789.3L52.9,787.6M32.0,797.1L50.7,795.1M33.1,734.7L58.0,732.1M31.1,764.6L55.4,766.5M29.9,777.9L52.4,777.8M33.0,768.3L55.2,768.9M30.6,766.5L56.0,766.3M30.6,733.2L51.3,733.7M27.9,776.7L57.6,776.8M33.1,776.0L52.6,775.8M29.1,757.2L56.5,757.5M35.2,758.3L53.3,758.0M28.6,733.4L50.9,728.6M29.5,744.2L53.2,741.8M30.9,767.0L53.4,765.9M29.0,777.4L54.9,775.1M27.2,744.4L50.7,740.2M28.0,730.0L52.3,723.9M28.7,796.0L55.3,795.7M30.1,753.0L53.7,752.8M33.0,741.4L53.4,738.1M32.2,755.4L55.6,755.7M31.4,775.8L51.5,775.1M32.6,748.2L59.2,745.4M25.5,753.2L52.9,753.3M29.2,778.4L55.5,780.3M29.4,755.7L54.2,755.4M28.2,775.7L56.9,777.0M31.8,794.8L53.6,797.4M29.1,768.0L52.8,768.2M28.1,768.1L55.2,769.3M32.7,764.9L56.0,764.6M29.1,755.5L54.3,755.7M30.1,744.5L59.3,742.3M27.1,732.7L56.3,725.7M32.8,731.2L57.8,724.0M30.8,729.6L57.6,724.3M34.0,748.8L57.0,752.1M35.8,769.5L54.2,769.9M32.2,780.3L58.4,782.3M29.8,756.1L53.7,755.7M28.8,758.3L54.9,757.6M34.5,754.7L57.8,754.4M30.2,789.2L56.8,788.1M32.1,778.6L52.1,777.6M31.2,736.5L53.9,731.3M22.8,756.8L52.5,756.9M31.0,754.1L57.3,753.7M31.0,789.0L53.8,789.5M31.1,764.8L54.6,765.7M30.3,737.5L53.0,733.8M31.2,755.4L53.4,754.7M28.3,729.8L56.1,724.7M32.1,778.1L52.3,781.1M29.5,761.9L54.7,760.9M31.0,747.8L53.4,746.2M34.5,762.4L53.7,762.0M31.2,748.9L51.6,748.9M28.3,757.9L57.3,757.6M31.5,786.6L50.9,783.8" stroke="#bdbdbd" stroke-width="0.4" fill="none"/>
<rect x="21.5" y="752.6" width="18.2" height="19.8" fill="#ececec" fill-opacity="0.6"/>
<g fill="none" stroke="#96d468" stroke-width="0.55" stroke-opacity="0.8"><circle cx="29.1" cy="798.0" r="1.7"/><circle cx="32.3" cy="787.2" r="1.7"/><circle cx="31.5" cy="765.1" r="1.7"/><circle cx="28.6" cy="754.5" r="1.7"/><circle cx="31.1" cy="784.4" r="1.7"/><circle cx="32.0" cy="787.2" r="1.7"/><circle cx="28.7" cy="774.4" r="1.7"/><circle cx="33.4" cy="751.9" r="1.7"/><circle cx="28.0" cy="783.4" r="1.7"/><circle cx="33.4" cy="752.9" r="1.7"/><circle cx="32.1" cy="755.1" r="1.7"/><circle cx="31.3" cy="784.6" r="1.7"/><circle cx="28.8" cy="758.6" r="1.7"/><circle cx="28.8" cy="762.3" r="1.7"/><circle cx="25.5" cy="764.1" r="1.7"/><circle cx="30.6" cy="729.3" r="1.7"/><circle cx="30.4" cy="789.3" r="1.7"/><circle cx="32.0" cy="797.1" r="1.7"/><circle cx="33.1" cy="734.7" r="1.7"/><circle cx="31.1" cy="764.6" r="1.7"/><circle cx="29.9" cy="777.9" r="1.7"/><circle cx="33.0" cy="768.3" r="1.7"/><circle cx="30.6" cy="766.5" r="1.7"/><circle cx="30.6" cy="733.2" r="1.7"/><circle cx="27.9" cy="776.7" r="1.7"/><circle cx="33.1" cy="776.0" r="1.7"/><circle cx="29.1" cy="757.2" r="1.7"/><circle cx="35.2" cy="758.3" r="1.7"/><circle cx="28.6" cy="733.4" r="1.7"/><circle cx="29.5" cy="744.2" r="1.7"/><circle cx="30.9" cy="767.0" r="1.7"/><circle cx="29.0" cy="777.4" r="1.7"/><circle cx="27.2" cy="744.4" r="1.7"/><circle cx="28.0" cy="730.0" r="1.7"/><circle cx="28.7" cy="796.0" r="1.7"/><circle cx="30.1" cy="753.0" r="1.7"/><circle cx="33.0" cy="741.4" r="1.7"/><circle cx="32.2" cy="755.4" r="1.7"/><circle cx="31.4" cy="775.8" r="1.7"/><circle cx="32.6" cy="748.2" r="1.7"/><circle cx="25.5" cy="753.2" r="1.7"/><circle cx="29.2" cy="778.4" r="1.7"/><circle cx="29.4" cy="755.7" r="1.7"/><circle cx="28.2" cy="775.7" r="1.7"/><circle cx="31.8" cy="794.8" r="1.7"/><circle cx="29.1" cy="768.0" r="1.7"/><circle cx="28.1" cy="768.1" r="1.7"/><circle cx="32.7" cy="764.9" r="1.7"/><circle cx="29.1" cy="755.5" r="1.7"/><circle cx="30.1" cy="744.5" r="1.7"/><circle cx="27.1" cy="732.7" r="1.7"/><circle cx="32.8" cy="731.2" r="1.7"/><circle cx="30.8" cy="729.6" r="1.7"/><circle cx="34.0" cy="748.8" r="1.7"/><circle cx="35.8" cy="769.5" r="1.7"/><circle cx="32.2" cy="780.3" r="1.7"/><circle cx="29.8" cy="756.1" r="1.7"/><circle cx="28.8" cy="758.3" r="1.7"/><circle cx="34.5" cy="754.7" r="1.7"/><circle cx="30.2" cy="789.2" r="1.7"/><circle cx="32.1" cy="778.6" r="1.7"/><circle cx="31.2" cy="736.5" r="1.7"/><circle cx="22.8" cy="756.8" r="1.7"/><circle cx="31.0" cy="754.1" r="1.7"/><circle cx="31.0" cy="789.0" r="1.7"/><circle cx="31.1" cy="764.8" r="1.7"/><circle cx="30.3" cy="737.5" r="1.7"/><circle cx="31.2" cy="755.4" r="1.7"/><circle cx="28.3" cy="729.8" r="1.7"/><circle cx="32.1" cy="778.1" r="1.7"/><circle cx="29.5" cy="761.9" r="1.7"/><circle cx="31.0" cy="747.8" r="1.7"/><circle cx="34.5" cy="762.4" r="1.7"/><circle cx="31.2" cy="748.9" r="1.7"/><circle cx="28.3" cy="757.9" r="1.7"/><circle cx="31.5" cy="786.6" r="1.7"/></g>
<line x1="30.60" y1="729.00" x2="30.60" y2="799.30" stroke="#527439" stroke-width="0.9"/>
<rect x="21.50" y="752.60" width="18.20" height="19.80" fill="none" stroke="#3a3a3a" stroke-width="0.9"/>
<line x1="21.50" y1="759.60" x2="39.70" y2="759.60" stroke="#333" stroke-width="1.6"/>
<rect x="45.6" y="752.6" width="17.9" height="19.8" fill="#ececec" fill-opacity="0.6"/>
<g fill="none" stroke="#4e9a3a" stroke-width="0.55" stroke-opacity="0.8"><circle cx="51.2" cy="794.2" r="1.7"/><circle cx="55.0" cy="784.5" r="1.7"/><circle cx="57.9" cy="764.7" r="1.7"/><circle cx="52.1" cy="754.3" r="1.7"/><circle cx="54.3" cy="785.7" r="1.7"/><circle cx="52.6" cy="785.0" r="1.7"/><circle cx="55.0" cy="773.2" r="1.7"/><circle cx="55.4" cy="752.8" r="1.7"/><circle cx="55.0" cy="786.3" r="1.7"/><circle cx="54.0" cy="752.9" r="1.7"/><circle cx="50.2" cy="755.1" r="1.7"/><circle cx="52.5" cy="783.1" r="1.7"/><circle cx="53.6" cy="759.1" r="1.7"/><circle cx="56.5" cy="763.0" r="1.7"/><circle cx="49.9" cy="763.7" r="1.7"/><circle cx="57.2" cy="723.6" r="1.7"/><circle cx="52.9" cy="787.6" r="1.7"/><circle cx="50.7" cy="795.1" r="1.7"/><circle cx="58.0" cy="732.1" r="1.7"/><circle cx="55.4" cy="766.5" r="1.7"/><circle cx="52.4" cy="777.8" r="1.7"/><circle cx="55.2" cy="768.9" r="1.7"/><circle cx="56.0" cy="766.3" r="1.7"/><circle cx="51.3" cy="733.7" r="1.7"/><circle cx="57.6" cy="776.8" r="1.7"/><circle cx="52.6" cy="775.8" r="1.7"/><circle cx="56.5" cy="757.5" r="1.7"/><circle cx="53.3" cy="758.0" r="1.7"/><circle cx="50.9" cy="728.6" r="1.7"/><circle cx="53.2" cy="741.8" r="1.7"/><circle cx="53.4" cy="765.9" r="1.7"/><circle cx="54.9" cy="775.1" r="1.7"/><circle cx="50.7" cy="740.2" r="1.7"/><circle cx="52.3" cy="723.9" r="1.7"/><circle cx="55.3" cy="795.7" r="1.7"/><circle cx="53.7" cy="752.8" r="1.7"/><circle cx="53.4" cy="738.1" r="1.7"/><circle cx="55.6" cy="755.7" r="1.7"/><circle cx="51.5" cy="775.1" r="1.7"/><circle cx="59.2" cy="745.4" r="1.7"/><circle cx="52.9" cy="753.3" r="1.7"/><circle cx="55.5" cy="780.3" r="1.7"/><circle cx="54.2" cy="755.4" r="1.7"/><circle cx="56.9" cy="777.0" r="1.7"/><circle cx="53.6" cy="797.4" r="1.7"/><circle cx="52.8" cy="768.2" r="1.7"/><circle cx="55.2" cy="769.3" r="1.7"/><circle cx="56.0" cy="764.6" r="1.7"/><circle cx="54.3" cy="755.7" r="1.7"/><circle cx="59.3" cy="742.3" r="1.7"/><circle cx="56.3" cy="725.7" r="1.7"/><circle cx="57.8" cy="724.0" r="1.7"/><circle cx="57.6" cy="724.3" r="1.7"/><circle cx="57.0" cy="752.1" r="1.7"/><circle cx="54.2" cy="769.9" r="1.7"/><circle cx="58.4" cy="782.3" r="1.7"/><circle cx="53.7" cy="755.7" r="1.7"/><circle cx="54.9" cy="757.6" r="1.7"/><circle cx="57.8" cy="754.4" r="1.7"/><circle cx="56.8" cy="788.1" r="1.7"/><circle cx="52.1" cy="777.6" r="1.7"/><circle cx="53.9" cy="731.3" r="1.7"/><circle cx="52.5" cy="756.9" r="1.7"/><circle cx="57.3" cy="753.7" r="1.7"/><circle cx="53.8" cy="789.5" r="1.7"/><circle cx="54.6" cy="765.7" r="1.7"/><circle cx="53.0" cy="733.8" r="1.7"/><circle cx="53.4" cy="754.7" r="1.7"/><circle cx="56.1" cy="724.7" r="1.7"/><circle cx="52.3" cy="781.1" r="1.7"/><circle cx="54.7" cy="760.9" r="1.7"/><circle cx="53.4" cy="746.2" r="1.7"/><circle cx="53.7" cy="762.0" r="1.7"/><circle cx="51.6" cy="748.9" r="1.7"/><circle cx="57.3" cy="757.6" r="1.7"/><circle cx="50.9" cy="783.8" r="1.7"/></g>
<line x1="54.55" y1="723.40" x2="54.55" y2="799.30" stroke="#2a541f" stroke-width="0.9"/>
<rect x="45.60" y="752.60" width="17.90" height="19.80" fill="none" stroke="#3a3a3a" stroke-width="0.9"/>
<line x1="45.60" y1="759.60" x2="63.50" y2="759.60" stroke="#333" stroke-width="1.6"/>
<line x1="15.90" y1="707.00" x2="15.90" y2="815.00" stroke="#444" stroke-width="0.9"/>
<line x1="15.90" y1="815.00" x2="68.50" y2="815.00" stroke="#444" stroke-width="0.9"/>
<text x="43.2" y="713.6" font-size="5.7" fill="#161616" text-anchor="middle">T-test, p = 0.2</text>
<text x="30.6" y="810.7" font-size="7.7" fill="#161616" text-anchor="middle">n=76</text>
<text x="54.5" y="810.7" font-size="7.7" fill="#161616" text-anchor="middle">n=76</text>
<text x="30.6" y="823.3" font-size="7.8" fill="#96d468" text-anchor="middle">Q1</text>
<text x="54.5" y="823.3" font-size="7.8" fill="#4e9a3a" text-anchor="middle">Q3</text>
<text x="12.5" y="757.0" font-size="8.6" fill="#161616" text-anchor="middle" transform="rotate(-90 12.5 757.0)">CombiWISE</text>
<path d="M100.4,792.3L124.1,769.2M98.5,786.2L123.7,755.9M97.3,783.2L119.4,755.8M101.9,765.5L120.2,732.5M97.3,778.1L122.2,748.5M98.7,774.7L119.4,746.0M101.8,791.3L119.9,776.0M98.5,777.9L120.6,752.3M98.4,768.8L122.2,735.9M99.1,777.7L122.3,750.3M95.1,762.9L120.8,722.3M98.5,766.6L122.0,728.6M99.2,781.4L125.2,748.2M99.6,795.8L123.8,773.4M97.9,774.0L123.5,747.8M93.9,790.1L121.0,775.2M97.0,795.4L121.0,774.3M100.5,774.6L119.8,745.5M97.0,768.8L120.6,716.4M96.7,769.2L118.4,737.7M100.0,762.3L122.2,724.8M100.0,786.8L121.7,760.0M99.1,792.1L121.0,771.3M100.2,790.4L121.1,763.5M100.6,760.9L119.6,721.1M99.9,790.8L124.1,765.6M99.6,788.7L123.9,767.8M102.9,794.9L125.2,776.0M96.3,793.6L123.3,769.7M103.8,794.1L122.2,762.8M99.4,781.9L124.6,756.3M97.1,788.5L119.7,767.1M100.4,783.0L119.4,753.5M101.1,763.8L124.6,728.5M96.1,788.3L123.6,762.6M99.2,770.5L123.1,738.2M100.7,774.5L125.6,739.0M100.6,777.0L122.5,748.4M98.9,776.9L123.1,743.3M96.4,773.1L123.5,740.4M98.6,776.7L119.9,748.2M103.7,785.5L123.4,767.5M96.7,782.5L123.9,754.6M105.7,784.9L122.4,763.3M98.7,780.6L120.9,751.3M98.6,760.3L120.7,716.4M97.6,779.9L117.6,746.0M99.2,792.7L120.7,775.6M99.3,778.6L125.6,750.3M96.5,770.6L125.3,727.2M103.4,779.4L122.3,756.1M101.5,775.0L120.8,742.4M99.7,791.7L125.2,757.7M95.9,793.0L125.0,770.9M98.0,775.6L123.7,745.5M98.4,793.6L120.9,764.7M100.6,783.2L124.3,754.9M98.5,781.0L124.6,752.5M96.2,787.1L121.5,756.6M98.4,794.2L120.7,776.0M98.3,795.5L121.6,763.5M98.8,762.4L123.0,724.5M100.8,775.2L123.5,744.7M97.2,762.4L123.7,724.9M95.3,778.2L122.6,756.1M101.5,762.3L121.4,735.4M101.0,767.7L123.3,734.2M96.1,776.3L124.8,746.7M100.5,777.6L122.9,746.6M97.6,777.9L124.1,743.7" stroke="#bdbdbd" stroke-width="0.4" fill="none"/>
<rect x="89.5" y="774.3" width="18.5" height="10.3" fill="#ececec" fill-opacity="0.6"/>
<g fill="none" stroke="#96d468" stroke-width="0.55" stroke-opacity="0.8"><circle cx="100.4" cy="792.3" r="1.7"/><circle cx="98.5" cy="786.2" r="1.7"/><circle cx="97.3" cy="783.2" r="1.7"/><circle cx="101.9" cy="765.5" r="1.7"/><circle cx="97.3" cy="778.1" r="1.7"/><circle cx="98.7" cy="774.7" r="1.7"/><circle cx="101.8" cy="791.3" r="1.7"/><circle cx="98.5" cy="777.9" r="1.7"/><circle cx="98.4" cy="768.8" r="1.7"/><circle cx="99.1" cy="777.7" r="1.7"/><circle cx="95.1" cy="762.9" r="1.7"/><circle cx="98.5" cy="766.6" r="1.7"/><circle cx="99.2" cy="781.4" r="1.7"/><circle cx="99.6" cy="795.8" r="1.7"/><circle cx="97.9" cy="774.0" r="1.7"/><circle cx="93.9" cy="790.1" r="1.7"/><circle cx="97.0" cy="795.4" r="1.7"/><circle cx="100.5" cy="774.6" r="1.7"/><circle cx="97.0" cy="768.8" r="1.7"/><circle cx="96.7" cy="769.2" r="1.7"/><circle cx="100.0" cy="762.3" r="1.7"/><circle cx="100.0" cy="786.8" r="1.7"/><circle cx="99.1" cy="792.1" r="1.7"/><circle cx="100.2" cy="790.4" r="1.7"/><circle cx="100.6" cy="760.9" r="1.7"/><circle cx="99.9" cy="790.8" r="1.7"/><circle cx="99.6" cy="788.7" r="1.7"/><circle cx="102.9" cy="794.9" r="1.7"/><circle cx="96.3" cy="793.6" r="1.7"/><circle cx="103.8" cy="794.1" r="1.7"/><circle cx="99.4" cy="781.9" r="1.7"/><circle cx="97.1" cy="788.5" r="1.7"/><circle cx="100.4" cy="783.0" r="1.7"/><circle cx="101.1" cy="763.8" r="1.7"/><circle cx="96.1" cy="788.3" r="1.7"/><circle cx="99.2" cy="770.5" r="1.7"/><circle cx="100.7" cy="774.5" r="1.7"/><circle cx="100.6" cy="777.0" r="1.7"/><circle cx="98.9" cy="776.9" r="1.7"/><circle cx="96.4" cy="773.1" r="1.7"/><circle cx="98.6" cy="776.7" r="1.7"/><circle cx="103.7" cy="785.5" r="1.7"/><circle cx="96.7" cy="782.5" r="1.7"/><circle cx="105.7" cy="784.9" r="1.7"/><circle cx="98.7" cy="780.6" r="1.7"/><circle cx="98.6" cy="760.3" r="1.7"/><circle cx="97.6" cy="779.9" r="1.7"/><circle cx="99.2" cy="792.7" r="1.7"/><circle cx="99.3" cy="778.6" r="1.7"/><circle cx="96.5" cy="770.6" r="1.7"/><circle cx="103.4" cy="779.4" r="1.7"/><circle cx="101.5" cy="775.0" r="1.7"/><circle cx="99.7" cy="791.7" r="1.7"/><circle cx="95.9" cy="793.0" r="1.7"/><circle cx="98.0" cy="775.6" r="1.7"/><circle cx="98.4" cy="793.6" r="1.7"/><circle cx="100.6" cy="783.2" r="1.7"/><circle cx="98.5" cy="781.0" r="1.7"/><circle cx="96.2" cy="787.1" r="1.7"/><circle cx="98.4" cy="794.2" r="1.7"/><circle cx="98.3" cy="795.5" r="1.7"/><circle cx="98.8" cy="762.4" r="1.7"/><circle cx="100.8" cy="775.2" r="1.7"/><circle cx="97.2" cy="762.4" r="1.7"/><circle cx="95.3" cy="778.2" r="1.7"/><circle cx="101.5" cy="762.3" r="1.7"/><circle cx="101.0" cy="767.7" r="1.7"/><circle cx="96.1" cy="776.3" r="1.7"/><circle cx="100.5" cy="777.6" r="1.7"/><circle cx="97.6" cy="777.9" r="1.7"/></g>
<line x1="98.75" y1="759.60" x2="98.75" y2="795.80" stroke="#527439" stroke-width="0.9"/>
<rect x="89.50" y="774.30" width="18.50" height="10.30" fill="none" stroke="#3a3a3a" stroke-width="0.9"/>
<line x1="89.50" y1="778.00" x2="108.00" y2="778.00" stroke="#333" stroke-width="1.6"/>
<rect x="113.5" y="743.0" width="18.0" height="14.0" fill="#ececec" fill-opacity="0.6"/>
<g fill="none" stroke="#4e9a3a" stroke-width="0.55" stroke-opacity="0.8"><circle cx="124.1" cy="769.2" r="1.7"/><circle cx="123.7" cy="755.9" r="1.7"/><circle cx="119.4" cy="755.8" r="1.7"/><circle cx="120.2" cy="732.5" r="1.7"/><circle cx="122.2" cy="748.5" r="1.7"/><circle cx="119.4" cy="746.0" r="1.7"/><circle cx="119.9" cy="776.0" r="1.7"/><circle cx="120.6" cy="752.3" r="1.7"/><circle cx="122.2" cy="735.9" r="1.7"/><circle cx="122.3" cy="750.3" r="1.7"/><circle cx="120.8" cy="722.3" r="1.7"/><circle cx="122.0" cy="728.6" r="1.7"/><circle cx="125.2" cy="748.2" r="1.7"/><circle cx="123.8" cy="773.4" r="1.7"/><circle cx="123.5" cy="747.8" r="1.7"/><circle cx="121.0" cy="775.2" r="1.7"/><circle cx="121.0" cy="774.3" r="1.7"/><circle cx="119.8" cy="745.5" r="1.7"/><circle cx="120.6" cy="716.4" r="1.7"/><circle cx="118.4" cy="737.7" r="1.7"/><circle cx="122.2" cy="724.8" r="1.7"/><circle cx="121.7" cy="760.0" r="1.7"/><circle cx="121.0" cy="771.3" r="1.7"/><circle cx="121.1" cy="763.5" r="1.7"/><circle cx="119.6" cy="721.1" r="1.7"/><circle cx="124.1" cy="765.6" r="1.7"/><circle cx="123.9" cy="767.8" r="1.7"/><circle cx="125.2" cy="776.0" r="1.7"/><circle cx="123.3" cy="769.7" r="1.7"/><circle cx="122.2" cy="762.8" r="1.7"/><circle cx="124.6" cy="756.3" r="1.7"/><circle cx="119.7" cy="767.1" r="1.7"/><circle cx="119.4" cy="753.5" r="1.7"/><circle cx="124.6" cy="728.5" r="1.7"/><circle cx="123.6" cy="762.6" r="1.7"/><circle cx="123.1" cy="738.2" r="1.7"/><circle cx="125.6" cy="739.0" r="1.7"/><circle cx="122.5" cy="748.4" r="1.7"/><circle cx="123.1" cy="743.3" r="1.7"/><circle cx="123.5" cy="740.4" r="1.7"/><circle cx="119.9" cy="748.2" r="1.7"/><circle cx="123.4" cy="767.5" r="1.7"/><circle cx="123.9" cy="754.6" r="1.7"/><circle cx="122.4" cy="763.3" r="1.7"/><circle cx="120.9" cy="751.3" r="1.7"/><circle cx="120.7" cy="716.4" r="1.7"/><circle cx="117.6" cy="746.0" r="1.7"/><circle cx="120.7" cy="775.6" r="1.7"/><circle cx="125.6" cy="750.3" r="1.7"/><circle cx="125.3" cy="727.2" r="1.7"/><circle cx="122.3" cy="756.1" r="1.7"/><circle cx="120.8" cy="742.4" r="1.7"/><circle cx="125.2" cy="757.7" r="1.7"/><circle cx="125.0" cy="770.9" r="1.7"/><circle cx="123.7" cy="745.5" r="1.7"/><circle cx="120.9" cy="764.7" r="1.7"/><circle cx="124.3" cy="754.9" r="1.7"/><circle cx="124.6" cy="752.5" r="1.7"/><circle cx="121.5" cy="756.6" r="1.7"/><circle cx="120.7" cy="776.0" r="1.7"/><circle cx="121.6" cy="763.5" r="1.7"/><circle cx="123.0" cy="724.5" r="1.7"/><circle cx="123.5" cy="744.7" r="1.7"/><circle cx="123.7" cy="724.9" r="1.7"/><circle cx="122.6" cy="756.1" r="1.7"/><circle cx="121.4" cy="735.4" r="1.7"/><circle cx="123.3" cy="734.2" r="1.7"/><circle cx="124.8" cy="746.7" r="1.7"/><circle cx="122.9" cy="746.6" r="1.7"/><circle cx="124.1" cy="743.7" r="1.7"/></g>
<line x1="122.50" y1="716.40" x2="122.50" y2="776.00" stroke="#2a541f" stroke-width="0.9"/>
<rect x="113.50" y="743.00" width="18.00" height="14.00" fill="none" stroke="#3a3a3a" stroke-width="0.9"/>
<line x1="113.50" y1="750.00" x2="131.50" y2="750.00" stroke="#333" stroke-width="1.6"/>
<line x1="84.00" y1="707.00" x2="84.00" y2="815.00" stroke="#444" stroke-width="0.9"/>
<line x1="84.00" y1="815.00" x2="136.70" y2="815.00" stroke="#444" stroke-width="0.9"/>
<text x="111.3" y="713.6" font-size="5.7" fill="#161616" text-anchor="middle">T-test, p &lt; 2.2e-16</text>
<text x="98.8" y="811.0" font-size="7.7" fill="#161616" text-anchor="middle">n=76</text>
<text x="122.5" y="811.0" font-size="7.7" fill="#161616" text-anchor="middle">n=76</text>
<text x="98.8" y="823.3" font-size="7.8" fill="#96d468" text-anchor="middle">Q1</text>
<text x="122.5" y="823.3" font-size="7.8" fill="#4e9a3a" text-anchor="middle">Q3</text>
<text x="81.0" y="757.0" font-size="8.6" fill="#161616" text-anchor="middle" transform="rotate(-90 81.0 757.0)">Brain damage</text>
<rect x="158.50" y="577.00" width="13.70" height="253.00" fill="url(#dvert)"/>
<rect x="172.60" y="831.50" width="510.40" height="14.00" fill="url(#dhor)"/>
<line x1="173.60" y1="772.20" x2="683.00" y2="772.20" stroke="#c8c8c8" stroke-width="0.9"/>
<line x1="381.80" y1="577.00" x2="381.80" y2="830.00" stroke="#c8c8c8" stroke-width="0.9"/>
<path d="M174.8,577 L188.5,577 L174.8,829 Z" fill="url(#dgreen)" stroke="#4e9a46" stroke-width="0.6"/>
<path d="M174,829.5 L683,817.5 L683,829.5 Z" fill="url(#dpurp)" stroke="#b060d0" stroke-width="0.6"/>
<line x1="173.60" y1="577.00" x2="173.60" y2="830.00" stroke="#444" stroke-width="1"/>
<line x1="173.60" y1="830.00" x2="683.00" y2="830.00" stroke="#444" stroke-width="1"/>
<line x1="170.10" y1="598.60" x2="173.60" y2="598.60" stroke="#444" stroke-width="0.9"/>
<text x="168.5" y="602.0" font-size="9.4" fill="#161616" text-anchor="end">4</text>
<line x1="170.10" y1="642.00" x2="173.60" y2="642.00" stroke="#444" stroke-width="0.9"/>
<text x="168.5" y="645.4" font-size="9.4" fill="#161616" text-anchor="end">3</text>
<line x1="170.10" y1="685.40" x2="173.60" y2="685.40" stroke="#444" stroke-width="0.9"/>
<text x="168.5" y="688.8" font-size="9.4" fill="#161616" text-anchor="end">2</text>
<line x1="170.10" y1="728.80" x2="173.60" y2="728.80" stroke="#444" stroke-width="0.9"/>
<text x="168.5" y="732.2" font-size="9.4" fill="#161616" text-anchor="end">1</text>
<line x1="170.10" y1="772.20" x2="173.60" y2="772.20" stroke="#444" stroke-width="0.9"/>
<text x="168.5" y="775.6" font-size="9.4" fill="#161616" text-anchor="end">0</text>
<line x1="170.10" y1="815.60" x2="173.60" y2="815.60" stroke="#444" stroke-width="0.9"/>
<text x="168.5" y="819.0" font-size="9.4" fill="#161616" text-anchor="end">-1</text>
<line x1="217.00" y1="830.00" x2="217.00" y2="833.50" stroke="#444" stroke-width="0.9"/>
<text x="217.0" y="844.6" font-size="9.4" fill="#161616" text-anchor="middle">-2</text>
<line x1="381.80" y1="830.00" x2="381.80" y2="833.50" stroke="#444" stroke-width="0.9"/>
<text x="381.8" y="844.6" font-size="9.4" fill="#161616" text-anchor="middle">0</text>
<line x1="546.60" y1="830.00" x2="546.60" y2="833.50" stroke="#444" stroke-width="0.9"/>
<text x="546.6" y="844.6" font-size="9.4" fill="#161616" text-anchor="middle">2</text>
<text x="154.3" y="705.4" font-size="11" fill="#4e9a3a" text-anchor="middle" transform="rotate(-90 154.3 705.4)">Q3-Q1 difference</text>
<text x="199.0" y="652.5" font-size="9.3" fill="#4e9a3a" text-anchor="middle" transform="rotate(-90 199.0 652.5)" textLength="147" lengthAdjust="spacing">Proportionally higher brain damage</text>
<text x="427.2" y="857.6" font-size="11" fill="#9a34b4" text-anchor="middle">Q3-Q1 difference</text>
<text x="507.0" y="817.0" font-size="8.8" fill="#9a34b4" textLength="120" lengthAdjust="spacing">Proportionally higher SC damage</text>
<text x="191.3" y="818.0" font-size="8.8" fill="#161616">n=68</text>
<rect x="210.80" y="577.80" width="167.60" height="99.80" fill="#fff" stroke="#f0902a" stroke-width="1.5" rx="5"/>
<path d="M246.0,631.1L279.3,623.2M248.4,635.6L277.3,627.2M244.5,639.1L283.4,614.8M245.0,617.2L275.1,609.0M246.9,626.5L281.0,630.2M248.1,624.3L276.2,626.9M248.2,627.0L282.4,620.2M247.0,631.0L275.6,621.5M249.7,623.6L280.3,627.3M244.3,626.5L278.2,626.7M249.7,622.1L280.8,608.7M247.2,624.9L275.5,629.4M245.1,619.9L277.8,631.8M242.5,629.6L279.7,621.4M249.5,639.7L280.6,629.4M246.5,640.0L277.1,612.3M247.2,623.7L274.0,628.6M249.6,639.0L277.7,610.9M244.9,625.0L276.9,627.8M247.7,625.7L278.7,612.9M247.9,644.9L277.5,619.7M249.8,621.9L276.1,620.2M246.6,646.4L278.1,631.7M250.2,618.9L281.9,634.3M244.6,619.8L279.9,641.4M245.7,636.4L277.6,633.5M244.3,623.7L280.0,621.8M243.6,623.5L275.1,639.6M249.9,641.3L277.1,630.5M246.5,624.7L278.3,624.3M245.8,641.4L277.6,634.8M246.3,617.2L277.0,628.6M246.2,624.4L278.5,630.9M242.3,614.7L282.9,621.6M244.8,645.3L278.4,636.7M246.8,632.7L279.5,607.1M243.0,625.7L282.6,623.5M245.4,625.9L272.7,620.7M244.9,638.2L277.8,624.6M243.5,618.1L280.7,625.9M242.7,619.6L275.0,608.5M244.4,633.2L277.5,612.4M246.4,640.2L281.7,616.1M247.1,624.8L278.8,641.4M242.2,630.4L279.1,623.7M246.2,624.9L283.6,610.0M247.3,628.2L274.0,622.5M241.8,630.7L281.3,625.6M242.6,647.0L275.5,622.2M247.2,640.8L279.5,633.7M247.6,629.1L280.0,620.3M247.2,623.6L278.9,618.1M249.7,629.9L277.9,639.2M247.6,623.3L280.6,625.7M249.1,627.2L279.6,623.6M245.8,618.4L280.6,628.2M245.9,625.0L281.0,621.5M243.7,632.6L280.0,611.0M246.1,640.6L282.8,611.8M245.0,644.6L277.5,628.9M244.4,646.0L274.1,635.0M247.3,619.1L274.2,614.5M246.7,618.6L278.1,623.2M244.8,623.1L275.5,615.7M246.4,642.2L277.7,613.7M246.7,624.9L278.8,629.3M246.9,641.2L282.2,623.8M244.3,618.1L275.6,629.0M247.4,625.0L279.7,617.4M244.8,623.2L275.4,621.2" stroke="#bdbdbd" stroke-width="0.4" fill="none"/>
<rect x="233.4" y="623.2" width="24.9" height="11.3" fill="#ececec" fill-opacity="0.6"/>
<g fill="none" stroke="#96d468" stroke-width="0.55" stroke-opacity="0.8"><circle cx="246.0" cy="631.1" r="1.7"/><circle cx="248.4" cy="635.6" r="1.7"/><circle cx="244.5" cy="639.1" r="1.7"/><circle cx="245.0" cy="617.2" r="1.7"/><circle cx="246.9" cy="626.5" r="1.7"/><circle cx="248.1" cy="624.3" r="1.7"/><circle cx="248.2" cy="627.0" r="1.7"/><circle cx="247.0" cy="631.0" r="1.7"/><circle cx="249.7" cy="623.6" r="1.7"/><circle cx="244.3" cy="626.5" r="1.7"/><circle cx="249.7" cy="622.1" r="1.7"/><circle cx="247.2" cy="624.9" r="1.7"/><circle cx="245.1" cy="619.9" r="1.7"/><circle cx="242.5" cy="629.6" r="1.7"/><circle cx="249.5" cy="639.7" r="1.7"/><circle cx="246.5" cy="640.0" r="1.7"/><circle cx="247.2" cy="623.7" r="1.7"/><circle cx="249.6" cy="639.0" r="1.7"/><circle cx="244.9" cy="625.0" r="1.7"/><circle cx="247.7" cy="625.7" r="1.7"/><circle cx="247.9" cy="644.9" r="1.7"/><circle cx="249.8" cy="621.9" r="1.7"/><circle cx="246.6" cy="646.4" r="1.7"/><circle cx="250.2" cy="618.9" r="1.7"/><circle cx="244.6" cy="619.8" r="1.7"/><circle cx="245.7" cy="636.4" r="1.7"/><circle cx="244.3" cy="623.7" r="1.7"/><circle cx="243.6" cy="623.5" r="1.7"/><circle cx="249.9" cy="641.3" r="1.7"/><circle cx="246.5" cy="624.7" r="1.7"/><circle cx="245.8" cy="641.4" r="1.7"/><circle cx="246.3" cy="617.2" r="1.7"/><circle cx="246.2" cy="624.4" r="1.7"/><circle cx="242.3" cy="614.7" r="1.7"/><circle cx="244.8" cy="645.3" r="1.7"/><circle cx="246.8" cy="632.7" r="1.7"/><circle cx="243.0" cy="625.7" r="1.7"/><circle cx="245.4" cy="625.9" r="1.7"/><circle cx="244.9" cy="638.2" r="1.7"/><circle cx="243.5" cy="618.1" r="1.7"/><circle cx="242.7" cy="619.6" r="1.7"/><circle cx="244.4" cy="633.2" r="1.7"/><circle cx="246.4" cy="640.2" r="1.7"/><circle cx="247.1" cy="624.8" r="1.7"/><circle cx="242.2" cy="630.4" r="1.7"/><circle cx="246.2" cy="624.9" r="1.7"/><circle cx="247.3" cy="628.2" r="1.7"/><circle cx="241.8" cy="630.7" r="1.7"/><circle cx="242.6" cy="647.0" r="1.7"/><circle cx="247.2" cy="640.8" r="1.7"/><circle cx="247.6" cy="629.1" r="1.7"/><circle cx="247.2" cy="623.6" r="1.7"/><circle cx="249.7" cy="629.9" r="1.7"/><circle cx="247.6" cy="623.3" r="1.7"/><circle cx="249.1" cy="627.2" r="1.7"/><circle cx="245.8" cy="618.4" r="1.7"/><circle cx="245.9" cy="625.0" r="1.7"/><circle cx="243.7" cy="632.6" r="1.7"/><circle cx="246.1" cy="640.6" r="1.7"/><circle cx="245.0" cy="644.6" r="1.7"/><circle cx="244.4" cy="646.0" r="1.7"/><circle cx="247.3" cy="619.1" r="1.7"/><circle cx="246.7" cy="618.6" r="1.7"/><circle cx="244.8" cy="623.1" r="1.7"/><circle cx="246.4" cy="642.2" r="1.7"/><circle cx="246.7" cy="624.9" r="1.7"/><circle cx="246.9" cy="641.2" r="1.7"/><circle cx="244.3" cy="618.1" r="1.7"/><circle cx="247.4" cy="625.0" r="1.7"/><circle cx="244.8" cy="623.2" r="1.7"/></g>
<line x1="245.85" y1="614.00" x2="245.85" y2="648.20" stroke="#527439" stroke-width="0.9"/>
<rect x="233.40" y="623.20" width="24.90" height="11.30" fill="none" stroke="#3a3a3a" stroke-width="0.9"/>
<line x1="233.40" y1="628.00" x2="258.30" y2="628.00" stroke="#333" stroke-width="1.6"/>
<rect x="266.2" y="619.8" width="24.7" height="10.0" fill="#ececec" fill-opacity="0.6"/>
<g fill="none" stroke="#4e9a3a" stroke-width="0.55" stroke-opacity="0.8"><circle cx="279.3" cy="623.2" r="1.7"/><circle cx="277.3" cy="627.2" r="1.7"/><circle cx="283.4" cy="614.8" r="1.7"/><circle cx="275.1" cy="609.0" r="1.7"/><circle cx="281.0" cy="630.2" r="1.7"/><circle cx="276.2" cy="626.9" r="1.7"/><circle cx="282.4" cy="620.2" r="1.7"/><circle cx="275.6" cy="621.5" r="1.7"/><circle cx="280.3" cy="627.3" r="1.7"/><circle cx="278.2" cy="626.7" r="1.7"/><circle cx="280.8" cy="608.7" r="1.7"/><circle cx="275.5" cy="629.4" r="1.7"/><circle cx="277.8" cy="631.8" r="1.7"/><circle cx="279.7" cy="621.4" r="1.7"/><circle cx="280.6" cy="629.4" r="1.7"/><circle cx="277.1" cy="612.3" r="1.7"/><circle cx="274.0" cy="628.6" r="1.7"/><circle cx="277.7" cy="610.9" r="1.7"/><circle cx="276.9" cy="627.8" r="1.7"/><circle cx="278.7" cy="612.9" r="1.7"/><circle cx="277.5" cy="619.7" r="1.7"/><circle cx="276.1" cy="620.2" r="1.7"/><circle cx="278.1" cy="631.7" r="1.7"/><circle cx="281.9" cy="634.3" r="1.7"/><circle cx="279.9" cy="641.4" r="1.7"/><circle cx="277.6" cy="633.5" r="1.7"/><circle cx="280.0" cy="621.8" r="1.7"/><circle cx="275.1" cy="639.6" r="1.7"/><circle cx="277.1" cy="630.5" r="1.7"/><circle cx="278.3" cy="624.3" r="1.7"/><circle cx="277.6" cy="634.8" r="1.7"/><circle cx="277.0" cy="628.6" r="1.7"/><circle cx="278.5" cy="630.9" r="1.7"/><circle cx="282.9" cy="621.6" r="1.7"/><circle cx="278.4" cy="636.7" r="1.7"/><circle cx="279.5" cy="607.1" r="1.7"/><circle cx="282.6" cy="623.5" r="1.7"/><circle cx="272.7" cy="620.7" r="1.7"/><circle cx="277.8" cy="624.6" r="1.7"/><circle cx="280.7" cy="625.9" r="1.7"/><circle cx="275.0" cy="608.5" r="1.7"/><circle cx="277.5" cy="612.4" r="1.7"/><circle cx="281.7" cy="616.1" r="1.7"/><circle cx="278.8" cy="641.4" r="1.7"/><circle cx="279.1" cy="623.7" r="1.7"/><circle cx="283.6" cy="610.0" r="1.7"/><circle cx="274.0" cy="622.5" r="1.7"/><circle cx="281.3" cy="625.6" r="1.7"/><circle cx="275.5" cy="622.2" r="1.7"/><circle cx="279.5" cy="633.7" r="1.7"/><circle cx="280.0" cy="620.3" r="1.7"/><circle cx="278.9" cy="618.1" r="1.7"/><circle cx="277.9" cy="639.2" r="1.7"/><circle cx="280.6" cy="625.7" r="1.7"/><circle cx="279.6" cy="623.6" r="1.7"/><circle cx="280.6" cy="628.2" r="1.7"/><circle cx="281.0" cy="621.5" r="1.7"/><circle cx="280.0" cy="611.0" r="1.7"/><circle cx="282.8" cy="611.8" r="1.7"/><circle cx="277.5" cy="628.9" r="1.7"/><circle cx="274.1" cy="635.0" r="1.7"/><circle cx="274.2" cy="614.5" r="1.7"/><circle cx="278.1" cy="623.2" r="1.7"/><circle cx="275.5" cy="615.7" r="1.7"/><circle cx="277.7" cy="613.7" r="1.7"/><circle cx="278.8" cy="629.3" r="1.7"/><circle cx="282.2" cy="623.8" r="1.7"/><circle cx="275.6" cy="629.0" r="1.7"/><circle cx="279.7" cy="617.4" r="1.7"/><circle cx="275.4" cy="621.2" r="1.7"/></g>
<line x1="278.55" y1="607.00" x2="278.55" y2="643.00" stroke="#2a541f" stroke-width="0.9"/>
<rect x="266.20" y="619.80" width="24.70" height="10.00" fill="none" stroke="#3a3a3a" stroke-width="0.9"/>
<line x1="266.20" y1="625.90" x2="290.90" y2="625.90" stroke="#333" stroke-width="1.6"/>
<line x1="225.50" y1="581.20" x2="225.50" y2="665.30" stroke="#444" stroke-width="0.9"/>
<line x1="225.50" y1="665.30" x2="297.50" y2="665.30" stroke="#444" stroke-width="0.9"/>
<text x="262.5" y="587.8" font-size="7.6" fill="#161616" text-anchor="middle">T-test, p = 0.0082</text>
<text x="245.9" y="663.6" font-size="7.7" fill="#161616" text-anchor="middle">n=76</text>
<text x="278.5" y="663.6" font-size="7.7" fill="#161616" text-anchor="middle">n=76</text>
<text x="245.9" y="673.6" font-size="7.8" fill="#96d468" text-anchor="middle">Q1</text>
<text x="278.5" y="673.6" font-size="7.8" fill="#4e9a3a" text-anchor="middle">Q3</text>
<text x="222.5" y="619.2" font-size="8.6" fill="#161616" text-anchor="middle" transform="rotate(-90 222.5 619.2)">IL34</text>
<path d="M318.8,620.3L353.4,635.2M321.9,641.5L357.6,615.9M321.1,628.0L351.6,618.2M325.9,630.1L354.4,632.6M320.2,618.3L360.8,625.0M322.2,619.5L351.9,631.1M318.0,606.8L350.5,616.9M320.6,638.0L352.6,630.0M322.1,624.9L354.8,633.4M323.3,641.3L355.3,633.8M324.7,630.3L356.6,627.6M321.4,623.1L353.2,633.5M319.0,641.5L350.3,627.0M322.5,631.5L352.8,617.4M322.6,620.1L356.5,631.1M322.6,622.3L354.8,634.8M320.0,630.2L349.5,614.1M324.0,621.3L353.7,629.0M321.7,613.3L356.9,639.6M323.0,642.6L358.5,641.2M324.3,613.6L355.0,638.9M322.8,619.1L354.5,625.8M322.1,626.6L351.1,621.0M326.2,634.0L351.9,630.7M322.0,601.7L353.9,640.6M320.8,626.7L354.9,631.4M321.7,637.6L355.1,614.1M324.8,637.4L352.7,628.5M321.8,610.3L351.3,615.0M322.6,621.0L352.1,618.7M324.1,613.5L351.3,642.6M320.4,618.4L355.2,623.2M317.7,622.4L348.7,624.3M322.2,600.4L353.1,628.3M322.0,625.8L354.8,633.4M320.2,622.1L357.1,625.4M323.4,611.7L354.0,638.9M322.8,620.7L356.0,630.4M319.3,609.2L352.9,630.1M322.6,621.6L352.2,615.6M321.1,618.9L352.3,618.2M318.2,640.3L357.2,633.5M322.5,629.8L356.0,629.3M321.4,627.7L354.9,636.4M319.9,638.4L361.1,616.9M322.7,629.5L353.7,618.4M322.6,637.1L355.2,632.8M320.2,627.9L354.5,625.5M322.4,620.4L353.3,626.3M323.7,626.1L358.9,637.3M319.9,626.0L357.1,622.0M322.3,630.8L350.7,628.2M321.5,628.1L352.9,621.4M326.5,603.3L354.7,628.5M317.4,620.1L355.5,643.0M323.0,620.9L350.8,632.4M320.8,633.1L348.8,642.3M321.3,618.4L349.6,616.4M325.7,633.5L353.6,618.1M321.5,625.8L353.6,619.7M326.4,599.1L354.6,632.7M320.5,620.3L352.1,640.8M322.3,622.0L351.1,618.1M320.4,619.4L349.3,615.8M320.0,610.7L354.5,639.8M321.6,616.0L354.6,629.5M320.9,629.7L356.0,640.4M321.9,641.1L355.5,622.0M316.9,627.1L353.4,621.9M325.9,628.1L356.8,638.2" stroke="#bdbdbd" stroke-width="0.4" fill="none"/>
<rect x="309.3" y="618.0" width="24.4" height="10.5" fill="#ececec" fill-opacity="0.6"/>
<g fill="none" stroke="#ee86ea" stroke-width="0.55" stroke-opacity="0.8"><circle cx="318.8" cy="620.3" r="1.7"/><circle cx="321.9" cy="641.5" r="1.7"/><circle cx="321.1" cy="628.0" r="1.7"/><circle cx="325.9" cy="630.1" r="1.7"/><circle cx="320.2" cy="618.3" r="1.7"/><circle cx="322.2" cy="619.5" r="1.7"/><circle cx="318.0" cy="606.8" r="1.7"/><circle cx="320.6" cy="638.0" r="1.7"/><circle cx="322.1" cy="624.9" r="1.7"/><circle cx="323.3" cy="641.3" r="1.7"/><circle cx="324.7" cy="630.3" r="1.7"/><circle cx="321.4" cy="623.1" r="1.7"/><circle cx="319.0" cy="641.5" r="1.7"/><circle cx="322.5" cy="631.5" r="1.7"/><circle cx="322.6" cy="620.1" r="1.7"/><circle cx="322.6" cy="622.3" r="1.7"/><circle cx="320.0" cy="630.2" r="1.7"/><circle cx="324.0" cy="621.3" r="1.7"/><circle cx="321.7" cy="613.3" r="1.7"/><circle cx="323.0" cy="642.6" r="1.7"/><circle cx="324.3" cy="613.6" r="1.7"/><circle cx="322.8" cy="619.1" r="1.7"/><circle cx="322.1" cy="626.6" r="1.7"/><circle cx="326.2" cy="634.0" r="1.7"/><circle cx="322.0" cy="601.7" r="1.7"/><circle cx="320.8" cy="626.7" r="1.7"/><circle cx="321.7" cy="637.6" r="1.7"/><circle cx="324.8" cy="637.4" r="1.7"/><circle cx="321.8" cy="610.3" r="1.7"/><circle cx="322.6" cy="621.0" r="1.7"/><circle cx="324.1" cy="613.5" r="1.7"/><circle cx="320.4" cy="618.4" r="1.7"/><circle cx="317.7" cy="622.4" r="1.7"/><circle cx="322.2" cy="600.4" r="1.7"/><circle cx="322.0" cy="625.8" r="1.7"/><circle cx="320.2" cy="622.1" r="1.7"/><circle cx="323.4" cy="611.7" r="1.7"/><circle cx="322.8" cy="620.7" r="1.7"/><circle cx="319.3" cy="609.2" r="1.7"/><circle cx="322.6" cy="621.6" r="1.7"/><circle cx="321.1" cy="618.9" r="1.7"/><circle cx="318.2" cy="640.3" r="1.7"/><circle cx="322.5" cy="629.8" r="1.7"/><circle cx="321.4" cy="627.7" r="1.7"/><circle cx="319.9" cy="638.4" r="1.7"/><circle cx="322.7" cy="629.5" r="1.7"/><circle cx="322.6" cy="637.1" r="1.7"/><circle cx="320.2" cy="627.9" r="1.7"/><circle cx="322.4" cy="620.4" r="1.7"/><circle cx="323.7" cy="626.1" r="1.7"/><circle cx="319.9" cy="626.0" r="1.7"/><circle cx="322.3" cy="630.8" r="1.7"/><circle cx="321.5" cy="628.1" r="1.7"/><circle cx="326.5" cy="603.3" r="1.7"/><circle cx="317.4" cy="620.1" r="1.7"/><circle cx="323.0" cy="620.9" r="1.7"/><circle cx="320.8" cy="633.1" r="1.7"/><circle cx="321.3" cy="618.4" r="1.7"/><circle cx="325.7" cy="633.5" r="1.7"/><circle cx="321.5" cy="625.8" r="1.7"/><circle cx="326.4" cy="599.1" r="1.7"/><circle cx="320.5" cy="620.3" r="1.7"/><circle cx="322.3" cy="622.0" r="1.7"/><circle cx="320.4" cy="619.4" r="1.7"/><circle cx="320.0" cy="610.7" r="1.7"/><circle cx="321.6" cy="616.0" r="1.7"/><circle cx="320.9" cy="629.7" r="1.7"/><circle cx="321.9" cy="641.1" r="1.7"/><circle cx="316.9" cy="627.1" r="1.7"/><circle cx="325.9" cy="628.1" r="1.7"/></g>
<line x1="321.50" y1="598.30" x2="321.50" y2="643.00" stroke="#824980" stroke-width="0.9"/>
<rect x="309.30" y="618.00" width="24.40" height="10.50" fill="none" stroke="#3a3a3a" stroke-width="0.9"/>
<line x1="309.30" y1="623.20" x2="333.70" y2="623.20" stroke="#333" stroke-width="1.6"/>
<rect x="341.6" y="622.4" width="24.4" height="11.3" fill="#ececec" fill-opacity="0.6"/>
<g fill="none" stroke="#9a34b4" stroke-width="0.55" stroke-opacity="0.8"><circle cx="353.4" cy="635.2" r="1.7"/><circle cx="357.6" cy="615.9" r="1.7"/><circle cx="351.6" cy="618.2" r="1.7"/><circle cx="354.4" cy="632.6" r="1.7"/><circle cx="360.8" cy="625.0" r="1.7"/><circle cx="351.9" cy="631.1" r="1.7"/><circle cx="350.5" cy="616.9" r="1.7"/><circle cx="352.6" cy="630.0" r="1.7"/><circle cx="354.8" cy="633.4" r="1.7"/><circle cx="355.3" cy="633.8" r="1.7"/><circle cx="356.6" cy="627.6" r="1.7"/><circle cx="353.2" cy="633.5" r="1.7"/><circle cx="350.3" cy="627.0" r="1.7"/><circle cx="352.8" cy="617.4" r="1.7"/><circle cx="356.5" cy="631.1" r="1.7"/><circle cx="354.8" cy="634.8" r="1.7"/><circle cx="349.5" cy="614.1" r="1.7"/><circle cx="353.7" cy="629.0" r="1.7"/><circle cx="356.9" cy="639.6" r="1.7"/><circle cx="358.5" cy="641.2" r="1.7"/><circle cx="355.0" cy="638.9" r="1.7"/><circle cx="354.5" cy="625.8" r="1.7"/><circle cx="351.1" cy="621.0" r="1.7"/><circle cx="351.9" cy="630.7" r="1.7"/><circle cx="353.9" cy="640.6" r="1.7"/><circle cx="354.9" cy="631.4" r="1.7"/><circle cx="355.1" cy="614.1" r="1.7"/><circle cx="352.7" cy="628.5" r="1.7"/><circle cx="351.3" cy="615.0" r="1.7"/><circle cx="352.1" cy="618.7" r="1.7"/><circle cx="351.3" cy="642.6" r="1.7"/><circle cx="355.2" cy="623.2" r="1.7"/><circle cx="348.7" cy="624.3" r="1.7"/><circle cx="353.1" cy="628.3" r="1.7"/><circle cx="354.8" cy="633.4" r="1.7"/><circle cx="357.1" cy="625.4" r="1.7"/><circle cx="354.0" cy="638.9" r="1.7"/><circle cx="356.0" cy="630.4" r="1.7"/><circle cx="352.9" cy="630.1" r="1.7"/><circle cx="352.2" cy="615.6" r="1.7"/><circle cx="352.3" cy="618.2" r="1.7"/><circle cx="357.2" cy="633.5" r="1.7"/><circle cx="356.0" cy="629.3" r="1.7"/><circle cx="354.9" cy="636.4" r="1.7"/><circle cx="361.1" cy="616.9" r="1.7"/><circle cx="353.7" cy="618.4" r="1.7"/><circle cx="355.2" cy="632.8" r="1.7"/><circle cx="354.5" cy="625.5" r="1.7"/><circle cx="353.3" cy="626.3" r="1.7"/><circle cx="358.9" cy="637.3" r="1.7"/><circle cx="357.1" cy="622.0" r="1.7"/><circle cx="350.7" cy="628.2" r="1.7"/><circle cx="352.9" cy="621.4" r="1.7"/><circle cx="354.7" cy="628.5" r="1.7"/><circle cx="355.5" cy="643.0" r="1.7"/><circle cx="350.8" cy="632.4" r="1.7"/><circle cx="348.8" cy="642.3" r="1.7"/><circle cx="349.6" cy="616.4" r="1.7"/><circle cx="353.6" cy="618.1" r="1.7"/><circle cx="353.6" cy="619.7" r="1.7"/><circle cx="354.6" cy="632.7" r="1.7"/><circle cx="352.1" cy="640.8" r="1.7"/><circle cx="351.1" cy="618.1" r="1.7"/><circle cx="349.3" cy="615.8" r="1.7"/><circle cx="354.5" cy="639.8" r="1.7"/><circle cx="354.6" cy="629.5" r="1.7"/><circle cx="356.0" cy="640.4" r="1.7"/><circle cx="355.5" cy="622.0" r="1.7"/><circle cx="353.4" cy="621.9" r="1.7"/><circle cx="356.8" cy="638.2" r="1.7"/></g>
<line x1="353.80" y1="614.00" x2="353.80" y2="643.00" stroke="#541c63" stroke-width="0.9"/>
<rect x="341.60" y="622.40" width="24.40" height="11.30" fill="none" stroke="#3a3a3a" stroke-width="0.9"/>
<line x1="341.60" y1="629.30" x2="366.00" y2="629.30" stroke="#333" stroke-width="1.6"/>
<line x1="302.20" y1="581.20" x2="302.20" y2="665.30" stroke="#444" stroke-width="0.9"/>
<line x1="302.20" y1="665.30" x2="374.50" y2="665.30" stroke="#444" stroke-width="0.9"/>
<text x="339.4" y="587.8" font-size="7.6" fill="#161616" text-anchor="middle">T-test, p = 0.00016</text>
<text x="321.5" y="663.6" font-size="7.7" fill="#161616" text-anchor="middle">n=77</text>
<text x="353.8" y="663.6" font-size="7.7" fill="#161616" text-anchor="middle">n=77</text>
<text x="321.5" y="673.6" font-size="7.8" fill="#ee86ea" text-anchor="middle">Q1</text>
<text x="353.8" y="673.6" font-size="7.8" fill="#9a34b4" text-anchor="middle">Q3</text>
<rect x="380.30" y="577.80" width="163.70" height="99.30" fill="#fff" stroke="#2626e0" stroke-width="1.5" rx="5"/>
<path d="M411.2,641.7L447.3,640.4M412.7,617.2L445.5,621.5M414.5,636.8L449.2,624.2M414.9,625.2L451.6,645.5M413.9,618.1L444.0,648.0M417.6,612.2L445.1,610.0M413.8,625.5L448.4,607.1M417.4,624.1L446.0,639.3M417.3,642.6L442.1,616.5M415.8,626.1L447.0,606.6M415.2,628.0L447.6,610.0M415.5,607.9L448.5,610.8M413.9,622.4L450.1,627.5M411.8,615.0L444.1,616.9M413.1,626.1L445.8,622.5M412.9,635.3L446.8,608.7M413.3,608.0L447.9,617.3M412.6,610.2L445.3,612.4M411.9,627.9L447.0,611.9M414.5,639.1L445.3,626.0M417.4,623.6L448.9,617.0M412.3,624.1L449.7,641.5M410.2,613.8L445.3,633.4M413.0,620.7L448.3,608.7M411.5,623.8L444.7,625.4M412.0,621.4L447.9,617.7M411.4,627.9L443.8,620.5M413.9,641.2L447.5,630.0M415.4,640.7L449.5,620.2M419.2,601.3L449.0,609.7M411.6,608.8L442.9,627.9M411.1,630.4L447.3,627.2M413.9,605.2L446.2,634.9M413.9,623.2L450.1,635.5M417.8,638.7L447.9,613.0M417.1,607.6L450.2,617.2M412.8,621.1L445.8,607.6M409.7,601.9L444.4,618.1M415.5,617.8L441.6,607.8M413.3,639.1L447.6,632.3M417.3,619.8L446.4,634.8M414.0,612.7L447.7,632.7M413.9,604.4L446.6,626.1M411.6,629.3L447.5,606.6M414.2,623.0L450.2,632.1M416.8,617.1L444.3,623.7M412.5,635.8L448.2,643.8M414.7,608.2L449.8,646.3M413.0,613.1L448.2,621.2M416.2,641.2L451.1,619.5M414.1,620.9L446.3,622.1M415.4,628.2L447.3,609.6M414.9,634.9L446.3,611.7M412.3,620.4L446.3,608.1M411.7,599.3L450.9,620.4M417.1,622.2L443.8,629.9M413.5,638.2L445.7,638.9M412.0,624.2L445.9,615.5M412.8,613.3L447.0,637.1M417.9,600.3L446.3,647.8M414.5,616.6L448.4,617.4M416.7,641.6L448.2,639.3M409.2,599.5L451.0,619.3M419.3,620.5L448.9,633.8M414.4,639.6L445.0,624.8M417.2,637.6L443.5,647.1M413.6,639.5L446.1,626.3M414.1,618.3L445.6,627.8M416.2,636.3L446.4,629.9M418.4,611.2L449.9,638.6" stroke="#bdbdbd" stroke-width="0.4" fill="none"/>
<rect x="402.0" y="615.4" width="24.5" height="16.5" fill="#ececec" fill-opacity="0.6"/>
<g fill="none" stroke="#96d468" stroke-width="0.55" stroke-opacity="0.8"><circle cx="411.2" cy="641.7" r="1.7"/><circle cx="412.7" cy="617.2" r="1.7"/><circle cx="414.5" cy="636.8" r="1.7"/><circle cx="414.9" cy="625.2" r="1.7"/><circle cx="413.9" cy="618.1" r="1.7"/><circle cx="417.6" cy="612.2" r="1.7"/><circle cx="413.8" cy="625.5" r="1.7"/><circle cx="417.4" cy="624.1" r="1.7"/><circle cx="417.3" cy="642.6" r="1.7"/><circle cx="415.8" cy="626.1" r="1.7"/><circle cx="415.2" cy="628.0" r="1.7"/><circle cx="415.5" cy="607.9" r="1.7"/><circle cx="413.9" cy="622.4" r="1.7"/><circle cx="411.8" cy="615.0" r="1.7"/><circle cx="413.1" cy="626.1" r="1.7"/><circle cx="412.9" cy="635.3" r="1.7"/><circle cx="413.3" cy="608.0" r="1.7"/><circle cx="412.6" cy="610.2" r="1.7"/><circle cx="411.9" cy="627.9" r="1.7"/><circle cx="414.5" cy="639.1" r="1.7"/><circle cx="417.4" cy="623.6" r="1.7"/><circle cx="412.3" cy="624.1" r="1.7"/><circle cx="410.2" cy="613.8" r="1.7"/><circle cx="413.0" cy="620.7" r="1.7"/><circle cx="411.5" cy="623.8" r="1.7"/><circle cx="412.0" cy="621.4" r="1.7"/><circle cx="411.4" cy="627.9" r="1.7"/><circle cx="413.9" cy="641.2" r="1.7"/><circle cx="415.4" cy="640.7" r="1.7"/><circle cx="419.2" cy="601.3" r="1.7"/><circle cx="411.6" cy="608.8" r="1.7"/><circle cx="411.1" cy="630.4" r="1.7"/><circle cx="413.9" cy="605.2" r="1.7"/><circle cx="413.9" cy="623.2" r="1.7"/><circle cx="417.8" cy="638.7" r="1.7"/><circle cx="417.1" cy="607.6" r="1.7"/><circle cx="412.8" cy="621.1" r="1.7"/><circle cx="409.7" cy="601.9" r="1.7"/><circle cx="415.5" cy="617.8" r="1.7"/><circle cx="413.3" cy="639.1" r="1.7"/><circle cx="417.3" cy="619.8" r="1.7"/><circle cx="414.0" cy="612.7" r="1.7"/><circle cx="413.9" cy="604.4" r="1.7"/><circle cx="411.6" cy="629.3" r="1.7"/><circle cx="414.2" cy="623.0" r="1.7"/><circle cx="416.8" cy="617.1" r="1.7"/><circle cx="412.5" cy="635.8" r="1.7"/><circle cx="414.7" cy="608.2" r="1.7"/><circle cx="413.0" cy="613.1" r="1.7"/><circle cx="416.2" cy="641.2" r="1.7"/><circle cx="414.1" cy="620.9" r="1.7"/><circle cx="415.4" cy="628.2" r="1.7"/><circle cx="414.9" cy="634.9" r="1.7"/><circle cx="412.3" cy="620.4" r="1.7"/><circle cx="411.7" cy="599.3" r="1.7"/><circle cx="417.1" cy="622.2" r="1.7"/><circle cx="413.5" cy="638.2" r="1.7"/><circle cx="412.0" cy="624.2" r="1.7"/><circle cx="412.8" cy="613.3" r="1.7"/><circle cx="417.9" cy="600.3" r="1.7"/><circle cx="414.5" cy="616.6" r="1.7"/><circle cx="416.7" cy="641.6" r="1.7"/><circle cx="409.2" cy="599.5" r="1.7"/><circle cx="419.3" cy="620.5" r="1.7"/><circle cx="414.4" cy="639.6" r="1.7"/><circle cx="417.2" cy="637.6" r="1.7"/><circle cx="413.6" cy="639.5" r="1.7"/><circle cx="414.1" cy="618.3" r="1.7"/><circle cx="416.2" cy="636.3" r="1.7"/><circle cx="418.4" cy="611.2" r="1.7"/></g>
<line x1="414.25" y1="597.00" x2="414.25" y2="643.50" stroke="#527439" stroke-width="0.9"/>
<rect x="402.00" y="615.40" width="24.50" height="16.50" fill="none" stroke="#3a3a3a" stroke-width="0.9"/>
<line x1="402.00" y1="624.00" x2="426.50" y2="624.00" stroke="#333" stroke-width="1.6"/>
<rect x="434.6" y="616.1" width="24.7" height="14.2" fill="#ececec" fill-opacity="0.6"/>
<g fill="none" stroke="#4e9a3a" stroke-width="0.55" stroke-opacity="0.8"><circle cx="447.3" cy="640.4" r="1.7"/><circle cx="445.5" cy="621.5" r="1.7"/><circle cx="449.2" cy="624.2" r="1.7"/><circle cx="451.6" cy="645.5" r="1.7"/><circle cx="444.0" cy="648.0" r="1.7"/><circle cx="445.1" cy="610.0" r="1.7"/><circle cx="448.4" cy="607.1" r="1.7"/><circle cx="446.0" cy="639.3" r="1.7"/><circle cx="442.1" cy="616.5" r="1.7"/><circle cx="447.0" cy="606.6" r="1.7"/><circle cx="447.6" cy="610.0" r="1.7"/><circle cx="448.5" cy="610.8" r="1.7"/><circle cx="450.1" cy="627.5" r="1.7"/><circle cx="444.1" cy="616.9" r="1.7"/><circle cx="445.8" cy="622.5" r="1.7"/><circle cx="446.8" cy="608.7" r="1.7"/><circle cx="447.9" cy="617.3" r="1.7"/><circle cx="445.3" cy="612.4" r="1.7"/><circle cx="447.0" cy="611.9" r="1.7"/><circle cx="445.3" cy="626.0" r="1.7"/><circle cx="448.9" cy="617.0" r="1.7"/><circle cx="449.7" cy="641.5" r="1.7"/><circle cx="445.3" cy="633.4" r="1.7"/><circle cx="448.3" cy="608.7" r="1.7"/><circle cx="444.7" cy="625.4" r="1.7"/><circle cx="447.9" cy="617.7" r="1.7"/><circle cx="443.8" cy="620.5" r="1.7"/><circle cx="447.5" cy="630.0" r="1.7"/><circle cx="449.5" cy="620.2" r="1.7"/><circle cx="449.0" cy="609.7" r="1.7"/><circle cx="442.9" cy="627.9" r="1.7"/><circle cx="447.3" cy="627.2" r="1.7"/><circle cx="446.2" cy="634.9" r="1.7"/><circle cx="450.1" cy="635.5" r="1.7"/><circle cx="447.9" cy="613.0" r="1.7"/><circle cx="450.2" cy="617.2" r="1.7"/><circle cx="445.8" cy="607.6" r="1.7"/><circle cx="444.4" cy="618.1" r="1.7"/><circle cx="441.6" cy="607.8" r="1.7"/><circle cx="447.6" cy="632.3" r="1.7"/><circle cx="446.4" cy="634.8" r="1.7"/><circle cx="447.7" cy="632.7" r="1.7"/><circle cx="446.6" cy="626.1" r="1.7"/><circle cx="447.5" cy="606.6" r="1.7"/><circle cx="450.2" cy="632.1" r="1.7"/><circle cx="444.3" cy="623.7" r="1.7"/><circle cx="448.2" cy="643.8" r="1.7"/><circle cx="449.8" cy="646.3" r="1.7"/><circle cx="448.2" cy="621.2" r="1.7"/><circle cx="451.1" cy="619.5" r="1.7"/><circle cx="446.3" cy="622.1" r="1.7"/><circle cx="447.3" cy="609.6" r="1.7"/><circle cx="446.3" cy="611.7" r="1.7"/><circle cx="446.3" cy="608.1" r="1.7"/><circle cx="450.9" cy="620.4" r="1.7"/><circle cx="443.8" cy="629.9" r="1.7"/><circle cx="445.7" cy="638.9" r="1.7"/><circle cx="445.9" cy="615.5" r="1.7"/><circle cx="447.0" cy="637.1" r="1.7"/><circle cx="446.3" cy="647.8" r="1.7"/><circle cx="448.4" cy="617.4" r="1.7"/><circle cx="448.2" cy="639.3" r="1.7"/><circle cx="451.0" cy="619.3" r="1.7"/><circle cx="448.9" cy="633.8" r="1.7"/><circle cx="445.0" cy="624.8" r="1.7"/><circle cx="443.5" cy="647.1" r="1.7"/><circle cx="446.1" cy="626.3" r="1.7"/><circle cx="445.6" cy="627.8" r="1.7"/><circle cx="446.4" cy="629.9" r="1.7"/><circle cx="449.9" cy="638.6" r="1.7"/></g>
<line x1="446.95" y1="606.20" x2="446.95" y2="648.20" stroke="#2a541f" stroke-width="0.9"/>
<rect x="434.60" y="616.10" width="24.70" height="14.20" fill="none" stroke="#3a3a3a" stroke-width="0.9"/>
<line x1="434.60" y1="622.40" x2="459.30" y2="622.40" stroke="#333" stroke-width="1.6"/>
<line x1="394.70" y1="581.20" x2="394.70" y2="665.30" stroke="#444" stroke-width="0.9"/>
<line x1="394.70" y1="665.30" x2="465.60" y2="665.30" stroke="#444" stroke-width="0.9"/>
<text x="431.1" y="587.8" font-size="7.6" fill="#161616" text-anchor="middle">T-test, p = 0.63</text>
<text x="414.2" y="663.6" font-size="7.7" fill="#161616" text-anchor="middle">n=76</text>
<text x="447.0" y="663.6" font-size="7.7" fill="#161616" text-anchor="middle">n=76</text>
<text x="414.2" y="673.6" font-size="7.8" fill="#96d468" text-anchor="middle">Q1</text>
<text x="447.0" y="673.6" font-size="7.8" fill="#4e9a3a" text-anchor="middle">Q3</text>
<text x="391.7" y="619.2" font-size="8.6" fill="#161616" text-anchor="middle" transform="rotate(-90 391.7 619.2)">CSF1</text>
<path d="M489.3,630.6L525.6,621.4M492.0,626.7L521.7,641.3M488.6,614.6L521.2,636.9M488.4,638.9L522.9,620.8M487.6,636.7L519.5,610.5M491.2,645.6L519.1,621.5M488.9,641.6L520.0,630.3M489.8,646.5L524.7,620.7M488.8,639.8L523.0,630.8M489.0,627.4L520.2,650.3M490.2,606.3L521.4,630.8M490.2,623.2L521.6,619.4M485.5,631.5L520.1,621.3M488.6,630.7L520.6,635.9M488.2,623.3L519.5,610.1M489.7,633.2L518.6,610.9M491.4,643.6L519.8,630.7M487.2,615.9L524.3,600.2M487.2,625.0L522.9,631.1M485.6,641.8L521.1,645.8M487.4,643.7L522.3,624.7M491.3,642.6L519.2,608.1M487.3,608.3L522.4,622.1M491.6,642.0L521.3,623.7M488.8,624.8L520.6,625.4M488.3,607.6L522.5,630.5M489.0,645.3L521.3,630.1M487.6,631.3L526.2,627.5M489.5,628.4L519.6,623.7M488.7,611.0L521.2,601.7M484.6,638.4L522.3,645.2M487.0,635.3L521.4,631.3M489.8,635.7L525.3,601.6M488.1,644.7L522.0,620.3M483.9,623.7L517.7,645.0M490.9,617.6L520.1,626.6M491.8,629.7L516.3,620.5M486.0,645.2L521.7,604.2M488.7,622.7L520.8,644.3M490.4,622.2L523.0,605.0M489.7,624.1L523.6,615.8M490.0,633.1L519.8,630.7M485.4,616.7L521.9,624.1M490.9,624.7L521.7,611.3M487.9,625.6L525.1,631.9M487.5,626.8L522.0,619.0M489.7,636.4L520.9,623.3M490.8,629.1L520.8,645.1M490.6,619.0L522.7,630.9M487.1,623.4L518.0,627.3M489.5,632.6L519.6,640.0M485.4,617.4L519.5,601.6M490.5,616.1L518.5,631.4M486.9,644.9L523.0,632.8M486.9,639.8L517.7,622.1M490.3,636.8L524.8,624.3M489.2,646.2L518.8,629.7M487.0,621.7L519.8,629.5M490.1,624.3L527.2,625.2M492.6,626.7L518.8,604.4M485.5,605.9L520.5,644.7M489.0,632.2L521.4,604.2M488.9,637.9L516.7,602.1M489.2,641.9L520.8,619.5M489.0,632.8L522.0,613.2M491.0,616.2L523.2,628.1M490.4,625.2L521.3,600.1M489.0,644.2L523.2,617.7M490.9,629.8L522.6,619.4M487.8,644.7L519.1,626.4" stroke="#bdbdbd" stroke-width="0.4" fill="none"/>
<rect x="476.2" y="621.9" width="24.9" height="13.7" fill="#ececec" fill-opacity="0.6"/>
<g fill="none" stroke="#ee86ea" stroke-width="0.55" stroke-opacity="0.8"><circle cx="489.3" cy="630.6" r="1.7"/><circle cx="492.0" cy="626.7" r="1.7"/><circle cx="488.6" cy="614.6" r="1.7"/><circle cx="488.4" cy="638.9" r="1.7"/><circle cx="487.6" cy="636.7" r="1.7"/><circle cx="491.2" cy="645.6" r="1.7"/><circle cx="488.9" cy="641.6" r="1.7"/><circle cx="489.8" cy="646.5" r="1.7"/><circle cx="488.8" cy="639.8" r="1.7"/><circle cx="489.0" cy="627.4" r="1.7"/><circle cx="490.2" cy="606.3" r="1.7"/><circle cx="490.2" cy="623.2" r="1.7"/><circle cx="485.5" cy="631.5" r="1.7"/><circle cx="488.6" cy="630.7" r="1.7"/><circle cx="488.2" cy="623.3" r="1.7"/><circle cx="489.7" cy="633.2" r="1.7"/><circle cx="491.4" cy="643.6" r="1.7"/><circle cx="487.2" cy="615.9" r="1.7"/><circle cx="487.2" cy="625.0" r="1.7"/><circle cx="485.6" cy="641.8" r="1.7"/><circle cx="487.4" cy="643.7" r="1.7"/><circle cx="491.3" cy="642.6" r="1.7"/><circle cx="487.3" cy="608.3" r="1.7"/><circle cx="491.6" cy="642.0" r="1.7"/><circle cx="488.8" cy="624.8" r="1.7"/><circle cx="488.3" cy="607.6" r="1.7"/><circle cx="489.0" cy="645.3" r="1.7"/><circle cx="487.6" cy="631.3" r="1.7"/><circle cx="489.5" cy="628.4" r="1.7"/><circle cx="488.7" cy="611.0" r="1.7"/><circle cx="484.6" cy="638.4" r="1.7"/><circle cx="487.0" cy="635.3" r="1.7"/><circle cx="489.8" cy="635.7" r="1.7"/><circle cx="488.1" cy="644.7" r="1.7"/><circle cx="483.9" cy="623.7" r="1.7"/><circle cx="490.9" cy="617.6" r="1.7"/><circle cx="491.8" cy="629.7" r="1.7"/><circle cx="486.0" cy="645.2" r="1.7"/><circle cx="488.7" cy="622.7" r="1.7"/><circle cx="490.4" cy="622.2" r="1.7"/><circle cx="489.7" cy="624.1" r="1.7"/><circle cx="490.0" cy="633.1" r="1.7"/><circle cx="485.4" cy="616.7" r="1.7"/><circle cx="490.9" cy="624.7" r="1.7"/><circle cx="487.9" cy="625.6" r="1.7"/><circle cx="487.5" cy="626.8" r="1.7"/><circle cx="489.7" cy="636.4" r="1.7"/><circle cx="490.8" cy="629.1" r="1.7"/><circle cx="490.6" cy="619.0" r="1.7"/><circle cx="487.1" cy="623.4" r="1.7"/><circle cx="489.5" cy="632.6" r="1.7"/><circle cx="485.4" cy="617.4" r="1.7"/><circle cx="490.5" cy="616.1" r="1.7"/><circle cx="486.9" cy="644.9" r="1.7"/><circle cx="486.9" cy="639.8" r="1.7"/><circle cx="490.3" cy="636.8" r="1.7"/><circle cx="489.2" cy="646.2" r="1.7"/><circle cx="487.0" cy="621.7" r="1.7"/><circle cx="490.1" cy="624.3" r="1.7"/><circle cx="492.6" cy="626.7" r="1.7"/><circle cx="485.5" cy="605.9" r="1.7"/><circle cx="489.0" cy="632.2" r="1.7"/><circle cx="488.9" cy="637.9" r="1.7"/><circle cx="489.2" cy="641.9" r="1.7"/><circle cx="489.0" cy="632.8" r="1.7"/><circle cx="491.0" cy="616.2" r="1.7"/><circle cx="490.4" cy="625.2" r="1.7"/><circle cx="489.0" cy="644.2" r="1.7"/><circle cx="490.9" cy="629.8" r="1.7"/><circle cx="487.8" cy="644.7" r="1.7"/></g>
<line x1="488.65" y1="605.60" x2="488.65" y2="646.90" stroke="#824980" stroke-width="0.9"/>
<rect x="476.20" y="621.90" width="24.90" height="13.70" fill="none" stroke="#3a3a3a" stroke-width="0.9"/>
<line x1="476.20" y1="627.70" x2="501.10" y2="627.70" stroke="#333" stroke-width="1.6"/>
<rect x="509.5" y="617.5" width="24.2" height="13.9" fill="#ececec" fill-opacity="0.6"/>
<g fill="none" stroke="#9a34b4" stroke-width="0.55" stroke-opacity="0.8"><circle cx="525.6" cy="621.4" r="1.7"/><circle cx="521.7" cy="641.3" r="1.7"/><circle cx="521.2" cy="636.9" r="1.7"/><circle cx="522.9" cy="620.8" r="1.7"/><circle cx="519.5" cy="610.5" r="1.7"/><circle cx="519.1" cy="621.5" r="1.7"/><circle cx="520.0" cy="630.3" r="1.7"/><circle cx="524.7" cy="620.7" r="1.7"/><circle cx="523.0" cy="630.8" r="1.7"/><circle cx="520.2" cy="650.3" r="1.7"/><circle cx="521.4" cy="630.8" r="1.7"/><circle cx="521.6" cy="619.4" r="1.7"/><circle cx="520.1" cy="621.3" r="1.7"/><circle cx="520.6" cy="635.9" r="1.7"/><circle cx="519.5" cy="610.1" r="1.7"/><circle cx="518.6" cy="610.9" r="1.7"/><circle cx="519.8" cy="630.7" r="1.7"/><circle cx="524.3" cy="600.2" r="1.7"/><circle cx="522.9" cy="631.1" r="1.7"/><circle cx="521.1" cy="645.8" r="1.7"/><circle cx="522.3" cy="624.7" r="1.7"/><circle cx="519.2" cy="608.1" r="1.7"/><circle cx="522.4" cy="622.1" r="1.7"/><circle cx="521.3" cy="623.7" r="1.7"/><circle cx="520.6" cy="625.4" r="1.7"/><circle cx="522.5" cy="630.5" r="1.7"/><circle cx="521.3" cy="630.1" r="1.7"/><circle cx="526.2" cy="627.5" r="1.7"/><circle cx="519.6" cy="623.7" r="1.7"/><circle cx="521.2" cy="601.7" r="1.7"/><circle cx="522.3" cy="645.2" r="1.7"/><circle cx="521.4" cy="631.3" r="1.7"/><circle cx="525.3" cy="601.6" r="1.7"/><circle cx="522.0" cy="620.3" r="1.7"/><circle cx="517.7" cy="645.0" r="1.7"/><circle cx="520.1" cy="626.6" r="1.7"/><circle cx="516.3" cy="620.5" r="1.7"/><circle cx="521.7" cy="604.2" r="1.7"/><circle cx="520.8" cy="644.3" r="1.7"/><circle cx="523.0" cy="605.0" r="1.7"/><circle cx="523.6" cy="615.8" r="1.7"/><circle cx="519.8" cy="630.7" r="1.7"/><circle cx="521.9" cy="624.1" r="1.7"/><circle cx="521.7" cy="611.3" r="1.7"/><circle cx="525.1" cy="631.9" r="1.7"/><circle cx="522.0" cy="619.0" r="1.7"/><circle cx="520.9" cy="623.3" r="1.7"/><circle cx="520.8" cy="645.1" r="1.7"/><circle cx="522.7" cy="630.9" r="1.7"/><circle cx="518.0" cy="627.3" r="1.7"/><circle cx="519.6" cy="640.0" r="1.7"/><circle cx="519.5" cy="601.6" r="1.7"/><circle cx="518.5" cy="631.4" r="1.7"/><circle cx="523.0" cy="632.8" r="1.7"/><circle cx="517.7" cy="622.1" r="1.7"/><circle cx="524.8" cy="624.3" r="1.7"/><circle cx="518.8" cy="629.7" r="1.7"/><circle cx="519.8" cy="629.5" r="1.7"/><circle cx="527.2" cy="625.2" r="1.7"/><circle cx="518.8" cy="604.4" r="1.7"/><circle cx="520.5" cy="644.7" r="1.7"/><circle cx="521.4" cy="604.2" r="1.7"/><circle cx="516.7" cy="602.1" r="1.7"/><circle cx="520.8" cy="619.5" r="1.7"/><circle cx="522.0" cy="613.2" r="1.7"/><circle cx="523.2" cy="628.1" r="1.7"/><circle cx="521.3" cy="600.1" r="1.7"/><circle cx="523.2" cy="617.7" r="1.7"/><circle cx="522.6" cy="619.4" r="1.7"/><circle cx="519.1" cy="626.4" r="1.7"/></g>
<line x1="521.60" y1="597.00" x2="521.60" y2="650.80" stroke="#541c63" stroke-width="0.9"/>
<rect x="509.50" y="617.50" width="24.20" height="13.90" fill="none" stroke="#3a3a3a" stroke-width="0.9"/>
<line x1="509.50" y1="625.10" x2="533.70" y2="625.10" stroke="#333" stroke-width="1.6"/>
<line x1="469.00" y1="581.20" x2="469.00" y2="665.30" stroke="#444" stroke-width="0.9"/>
<line x1="469.00" y1="665.30" x2="540.50" y2="665.30" stroke="#444" stroke-width="0.9"/>
<text x="505.8" y="587.8" font-size="7.6" fill="#161616" text-anchor="middle">T-test, p = 0.0015</text>
<text x="488.6" y="663.6" font-size="7.7" fill="#161616" text-anchor="middle">n=77</text>
<text x="521.6" y="663.6" font-size="7.7" fill="#161616" text-anchor="middle">n=77</text>
<text x="488.6" y="673.6" font-size="7.8" fill="#ee86ea" text-anchor="middle">Q1</text>
<text x="521.6" y="673.6" font-size="7.8" fill="#9a34b4" text-anchor="middle">Q3</text>
<line x1="385.00" y1="702.00" x2="440.00" y2="730.00" stroke="#bbb" stroke-width="0.6"/>
<line x1="437.50" y1="728.00" x2="445.00" y2="742.00" stroke="#bbb" stroke-width="0.6"/>
<line x1="382.00" y1="737.00" x2="440.00" y2="748.00" stroke="#bbb" stroke-width="0.6"/>
<line x1="487.00" y1="738.00" x2="470.00" y2="750.00" stroke="#bbb" stroke-width="0.6"/>
<line x1="425.00" y1="763.00" x2="440.00" y2="760.00" stroke="#bbb" stroke-width="0.6"/>
<line x1="491.80" y1="765.00" x2="470.00" y2="762.00" stroke="#bbb" stroke-width="0.6"/>
<line x1="434.00" y1="789.00" x2="445.00" y2="775.00" stroke="#bbb" stroke-width="0.6"/>
<line x1="498.00" y1="791.00" x2="470.00" y2="770.00" stroke="#bbb" stroke-width="0.6"/>
<line x1="451.00" y1="797.00" x2="455.00" y2="785.00" stroke="#bbb" stroke-width="0.6"/>
<line x1="422.00" y1="813.00" x2="440.00" y2="780.00" stroke="#bbb" stroke-width="0.6"/>
<line x1="400.00" y1="813.00" x2="460.00" y2="782.00" stroke="#bbb" stroke-width="0.6"/>
<line x1="531.00" y1="701.00" x2="525.00" y2="688.00" stroke="#bbb" stroke-width="0.6"/>
<line x1="540.00" y1="765.00" x2="527.00" y2="752.00" stroke="#bbb" stroke-width="0.6"/>
<line x1="556.00" y1="792.00" x2="545.00" y2="780.00" stroke="#bbb" stroke-width="0.6"/>
<line x1="588.00" y1="592.00" x2="600.00" y2="596.00" stroke="#bbb" stroke-width="0.6"/>
<line x1="596.70" y1="632.00" x2="600.00" y2="646.00" stroke="#bbb" stroke-width="0.6"/>
<line x1="630.00" y1="677.00" x2="658.00" y2="663.00" stroke="#bbb" stroke-width="0.6"/>
<line x1="598.00" y1="731.00" x2="577.00" y2="740.00" stroke="#bbb" stroke-width="0.6"/>
<line x1="270.80" y1="739.00" x2="296.00" y2="746.00" stroke="#bbb" stroke-width="0.6"/>
<line x1="235.00" y1="760.00" x2="256.00" y2="751.00" stroke="#bbb" stroke-width="0.6"/>
<line x1="294.00" y1="772.00" x2="304.00" y2="761.00" stroke="#bbb" stroke-width="0.6"/>
<line x1="318.00" y1="763.00" x2="309.00" y2="753.00" stroke="#bbb" stroke-width="0.6"/>
<line x1="197.00" y1="744.00" x2="196.00" y2="752.00" stroke="#bbb" stroke-width="0.6"/>
<circle cx="479.9" cy="774.8" r="3.1" fill="#f8e4dc" stroke="#555" stroke-width="0.5"/>
<circle cx="464.6" cy="758.9" r="3.1" fill="#f2c4b0" stroke="#555" stroke-width="0.5"/>
<circle cx="453.8" cy="748.8" r="3.1" fill="#fbf4f2" stroke="#555" stroke-width="0.5"/>
<circle cx="478.4" cy="745.3" r="3.1" fill="#f4d8cc" stroke="#555" stroke-width="0.5"/>
<circle cx="442.0" cy="756.0" r="3.1" fill="#dcd8f0" stroke="#555" stroke-width="0.5"/>
<circle cx="441.2" cy="785.9" r="3.1" fill="#faeeea" stroke="#555" stroke-width="0.5"/>
<circle cx="454.5" cy="755.6" r="3.1" fill="#fbf0ec" stroke="#555" stroke-width="0.5"/>
<circle cx="462.8" cy="761.2" r="3.1" fill="#f4d0c0" stroke="#555" stroke-width="0.5"/>
<circle cx="432.4" cy="749.2" r="3.1" fill="#f4d0c0" stroke="#555" stroke-width="0.5"/>
<circle cx="450.1" cy="762.6" r="3.1" fill="#dcd8f0" stroke="#555" stroke-width="0.5"/>
<circle cx="461.2" cy="778.2" r="3.1" fill="#dcd8f0" stroke="#555" stroke-width="0.5"/>
<circle cx="459.4" cy="768.4" r="3.1" fill="#f4d0c0" stroke="#555" stroke-width="0.5"/>
<circle cx="476.8" cy="776.4" r="3.1" fill="#fbf0ec" stroke="#555" stroke-width="0.5"/>
<circle cx="446.1" cy="773.9" r="3.1" fill="#ecb8a4" stroke="#555" stroke-width="0.5"/>
<circle cx="430.5" cy="763.6" r="3.1" fill="#ecb8a4" stroke="#555" stroke-width="0.5"/>
<circle cx="451.3" cy="765.6" r="3.1" fill="#ecb8a4" stroke="#555" stroke-width="0.5"/>
<circle cx="451.9" cy="765.0" r="3.1" fill="#dcd8f0" stroke="#555" stroke-width="0.5"/>
<circle cx="461.6" cy="744.8" r="3.1" fill="#f2c4b0" stroke="#555" stroke-width="0.5"/>
<circle cx="439.2" cy="769.4" r="3.1" fill="#f2c4b0" stroke="#555" stroke-width="0.5"/>
<circle cx="453.4" cy="781.1" r="3.1" fill="#fbf0ec" stroke="#555" stroke-width="0.5"/>
<circle cx="451.0" cy="768.1" r="3.1" fill="#f2c4b0" stroke="#555" stroke-width="0.5"/>
<circle cx="436.1" cy="746.6" r="3.1" fill="#f4d8cc" stroke="#555" stroke-width="0.5"/>
<circle cx="439.7" cy="760.1" r="3.1" fill="#faeeea" stroke="#555" stroke-width="0.5"/>
<circle cx="447.8" cy="766.7" r="3.1" fill="#dcd8f0" stroke="#555" stroke-width="0.5"/>
<circle cx="440.8" cy="754.1" r="3.1" fill="#f8e4dc" stroke="#555" stroke-width="0.5"/>
<circle cx="451.2" cy="755.9" r="3.1" fill="#ecb8a4" stroke="#555" stroke-width="0.5"/>
<circle cx="460.1" cy="740.6" r="3.1" fill="#fbf4f2" stroke="#555" stroke-width="0.5"/>
<circle cx="459.5" cy="749.8" r="3.1" fill="#fbf4f2" stroke="#555" stroke-width="0.5"/>
<circle cx="437.5" cy="752.5" r="3.1" fill="#f4d0c0" stroke="#555" stroke-width="0.5"/>
<circle cx="442.6" cy="773.1" r="3.1" fill="#f4d8cc" stroke="#555" stroke-width="0.5"/>
<circle cx="446.8" cy="772.0" r="3.1" fill="#faeeea" stroke="#555" stroke-width="0.5"/>
<circle cx="439.1" cy="768.7" r="3.1" fill="#ecb8a4" stroke="#555" stroke-width="0.5"/>
<circle cx="440.6" cy="739.0" r="3.1" fill="#f8e4dc" stroke="#555" stroke-width="0.5"/>
<circle cx="435.7" cy="754.4" r="3.1" fill="#fbf4f2" stroke="#555" stroke-width="0.5"/>
<circle cx="437.0" cy="764.8" r="3.1" fill="#f4d0c0" stroke="#555" stroke-width="0.5"/>
<circle cx="452.9" cy="755.4" r="3.1" fill="#f2c4b0" stroke="#555" stroke-width="0.5"/>
<circle cx="446.1" cy="753.8" r="3.1" fill="#f4d8cc" stroke="#555" stroke-width="0.5"/>
<circle cx="458.5" cy="776.3" r="3.1" fill="#f2c4b0" stroke="#555" stroke-width="0.5"/>
<circle cx="445.0" cy="763.6" r="3.1" fill="#ecb8a4" stroke="#555" stroke-width="0.5"/>
<circle cx="454.8" cy="756.2" r="3.1" fill="#ecb8a4" stroke="#555" stroke-width="0.5"/>
<circle cx="438.1" cy="761.9" r="3.1" fill="#ecb8a4" stroke="#555" stroke-width="0.5"/>
<circle cx="454.6" cy="756.3" r="3.1" fill="#f4d8cc" stroke="#555" stroke-width="0.5"/>
<circle cx="452.1" cy="771.5" r="3.1" fill="#dcd8f0" stroke="#555" stroke-width="0.5"/>
<circle cx="416.2" cy="747.4" r="3.1" fill="#fbf4f2" stroke="#555" stroke-width="0.5"/>
<circle cx="475.2" cy="769.6" r="3.1" fill="#f8e4dc" stroke="#555" stroke-width="0.5"/>
<circle cx="451.4" cy="760.1" r="3.1" fill="#faeeea" stroke="#555" stroke-width="0.5"/>
<circle cx="451.3" cy="741.7" r="3.1" fill="#fbf0ec" stroke="#555" stroke-width="0.5"/>
<circle cx="453.0" cy="740.3" r="3.1" fill="#f4d0c0" stroke="#555" stroke-width="0.5"/>
<circle cx="482.6" cy="725.4" r="3.1" fill="#faeeea" stroke="#555" stroke-width="0.5"/>
<circle cx="468.1" cy="765.3" r="3.1" fill="#ecb8a4" stroke="#555" stroke-width="0.5"/>
<circle cx="451.2" cy="745.0" r="3.1" fill="#f2c4b0" stroke="#555" stroke-width="0.5"/>
<circle cx="466.9" cy="761.9" r="3.1" fill="#f4d0c0" stroke="#555" stroke-width="0.5"/>
<circle cx="196.2" cy="752.2" r="3.1" fill="#c8b8f4" stroke="#555" stroke-width="0.5"/>
<circle cx="256.3" cy="751.2" r="3.1" fill="#f4e0d4" stroke="#555" stroke-width="0.5"/>
<circle cx="295.9" cy="746.5" r="3.1" fill="#f8f0ee" stroke="#555" stroke-width="0.5"/>
<circle cx="309.4" cy="752.2" r="3.1" fill="#c8c0f4" stroke="#555" stroke-width="0.5"/>
<circle cx="304.3" cy="761.3" r="3.1" fill="#f0cfc0" stroke="#555" stroke-width="0.5"/>
<circle cx="512.6" cy="749.5" r="3.1" fill="#f2d2c8" stroke="#555" stroke-width="0.5"/>
<circle cx="532.8" cy="778.3" r="3.1" fill="#ea9a88" stroke="#555" stroke-width="0.5"/>
<circle cx="467.0" cy="729.5" r="3.1" fill="#f4dcd0" stroke="#555" stroke-width="0.5"/>
<circle cx="444.0" cy="765.0" r="3.1" fill="#fbeee8" stroke="#555" stroke-width="0.5"/>
<circle cx="440.0" cy="788.0" r="3.1" fill="#d8d4f0" stroke="#555" stroke-width="0.5"/>
<circle cx="433.7" cy="781.5" r="3.1" fill="#d8d4f0" stroke="#555" stroke-width="0.5"/>
<rect x="655.30" y="588.60" width="6.00" height="6.00" fill="#f0b8a8" stroke="#555" stroke-width="0.5"/>
<rect x="596.90" y="642.90" width="6.00" height="6.00" fill="#f0a898" stroke="#555" stroke-width="0.5"/>
<rect x="569.30" y="665.00" width="6.00" height="6.00" fill="#e05848" stroke="#555" stroke-width="0.5"/>
<rect x="655.70" y="659.90" width="6.00" height="6.00" fill="#f0b8a8" stroke="#555" stroke-width="0.5"/>
<rect x="522.40" y="685.00" width="6.00" height="6.00" fill="#f0b8a8" stroke="#555" stroke-width="0.5"/>
<rect x="637.80" y="719.00" width="6.00" height="6.00" fill="#dc3a3a" stroke="#555" stroke-width="0.5"/>
<rect x="574.30" y="737.50" width="6.00" height="6.00" fill="#fdf8f6" stroke="#555" stroke-width="0.5"/>
<rect x="526.40" y="749.80" width="6.00" height="6.00" fill="#f8ece8" stroke="#555" stroke-width="0.5"/>
<rect x="431.00" y="796.30" width="6.00" height="6.00" fill="#fff" stroke="#555" stroke-width="0.5"/>
<rect x="588.4" y="586.4" width="59.6" height="10.4" rx="2.5" fill="#fff" fill-opacity="0.85" stroke="#888888" stroke-width="0.7"/>
<text x="618.2" y="594.4" font-size="7.8" fill="#333333" text-anchor="middle">Hepatic Fibrosis</text>
<rect x="547.0" y="626.8" width="49.7" height="10.4" rx="2.5" fill="#fff" fill-opacity="0.85" stroke="#888888" stroke-width="0.7"/>
<text x="571.9" y="634.8" font-size="7.8" fill="#333333" text-anchor="middle">ID1 Signaling</text>
<rect x="600.8" y="671.8" width="59.8" height="10.4" rx="2.5" fill="#fff" fill-opacity="0.85" stroke="#888888" stroke-width="0.7"/>
<text x="630.7" y="679.8" font-size="7.8" fill="#333333" text-anchor="middle">HIF1a Signaling</text>
<rect x="409.0" y="696.7" width="122.2" height="10.4" rx="2.5" fill="#fff" fill-opacity="0.85" stroke="#888888" stroke-width="0.7"/>
<text x="470.1" y="704.7" font-size="7.8" fill="#333333" text-anchor="middle">Role of PKR in Antiviral Response</text>
<rect x="346.3" y="696.6" width="38.7" height="10.4" rx="2.5" fill="#fff" fill-opacity="0.85" stroke="#888888" stroke-width="0.7"/>
<text x="365.6" y="704.6" font-size="7.8" fill="#333333" text-anchor="middle">COL15A1</text>
<rect x="342.3" y="731.8" width="39.9" height="10.4" rx="2.5" fill="#fff" fill-opacity="0.85" stroke="#888888" stroke-width="0.7"/>
<text x="362.2" y="739.8" font-size="7.8" fill="#333333" text-anchor="middle">CSNK2A2</text>
<rect x="398.4" y="722.4" width="39.1" height="10.4" rx="2.5" fill="#fff" fill-opacity="0.85" stroke="#888888" stroke-width="0.7"/>
<text x="417.9" y="730.4" font-size="7.8" fill="#333333" text-anchor="middle">COLEC12</text>
<rect x="487.0" y="733.2" width="38.0" height="10.4" rx="2.5" fill="#fff" fill-opacity="0.85" stroke="#888888" stroke-width="0.7"/>
<text x="506.0" y="741.2" font-size="7.8" fill="#333333" text-anchor="middle">ALOX15B</text>
<rect x="566.4" y="721.5" width="79.0" height="10.4" rx="2.5" fill="#fff" fill-opacity="0.85" stroke="#888888" stroke-width="0.7"/>
<text x="605.9" y="729.5" font-size="7.8" fill="#333333" text-anchor="middle">Collagen degradation</text>
<rect x="381.5" y="758.0" width="43.8" height="10.4" rx="2.5" fill="#fff" fill-opacity="0.85" stroke="#888888" stroke-width="0.7"/>
<text x="403.4" y="766.0" font-size="7.8" fill="#333333" text-anchor="middle">TNFRSF1A</text>
<rect x="451.0" y="758.0" width="18.0" height="10.4" rx="2.5" fill="#fff" fill-opacity="0.85" stroke="#888888" stroke-width="0.7"/>
<text x="460.0" y="766.0" font-size="7.8" fill="#333333" text-anchor="middle" textLength="15.0" lengthAdjust="spacingAndGlyphs">EDA</text>
<rect x="491.8" y="759.5" width="25.4" height="10.4" rx="2.5" fill="#fff" fill-opacity="0.85" stroke="#888888" stroke-width="0.7"/>
<text x="504.5" y="767.5" font-size="7.8" fill="#333333" text-anchor="middle" textLength="22.4" lengthAdjust="spacingAndGlyphs">IL2RG</text>
<rect x="540.0" y="759.5" width="68.4" height="10.4" rx="2.5" fill="#fff" fill-opacity="0.85" stroke="#888888" stroke-width="0.7"/>
<text x="574.2" y="767.5" font-size="7.8" fill="#333333" text-anchor="middle">Inhibition of MMPs</text>
<rect x="399.0" y="783.7" width="35.0" height="10.4" rx="2.5" fill="#fff" fill-opacity="0.85" stroke="#888888" stroke-width="0.7"/>
<text x="416.5" y="791.7" font-size="7.8" fill="#333333" text-anchor="middle">SCARA3</text>
<rect x="498.0" y="785.8" width="25.0" height="10.4" rx="2.5" fill="#fff" fill-opacity="0.85" stroke="#888888" stroke-width="0.7"/>
<text x="510.5" y="793.8" font-size="7.8" fill="#333333" text-anchor="middle">IL1R1</text>
<rect x="543.0" y="785.8" width="31.7" height="10.4" rx="2.5" fill="#fff" fill-opacity="0.85" stroke="#888888" stroke-width="0.7"/>
<text x="558.9" y="793.8" font-size="7.8" fill="#333333" text-anchor="middle">PDCD1</text>
<rect x="451.0" y="792.2" width="30.3" height="10.4" rx="2.5" fill="#fff" fill-opacity="0.85" stroke="#888888" stroke-width="0.7"/>
<text x="466.1" y="800.2" font-size="7.8" fill="#333333" text-anchor="middle">EDA2R</text>
<rect x="181.0" y="733.6" width="36.0" height="10.4" rx="2.5" fill="#fff" fill-opacity="0.85" stroke="#888888" stroke-width="0.7"/>
<text x="199.0" y="741.6" font-size="7.8" fill="#333333" text-anchor="middle">FCGR2A</text>
<rect x="255.6" y="729.2" width="30.2" height="10.4" rx="2.5" fill="#fff" fill-opacity="0.85" stroke="#888888" stroke-width="0.7"/>
<text x="270.7" y="737.2" font-size="7.8" fill="#333333" text-anchor="middle">VEGFA</text>
<rect x="218.7" y="759.4" width="27.9" height="10.4" rx="2.5" fill="#fff" fill-opacity="0.85" stroke="#888888" stroke-width="0.7"/>
<text x="232.6" y="767.4" font-size="7.8" fill="#333333" text-anchor="middle">FLRT1</text>
<rect x="262.3" y="768.8" width="31.9" height="10.4" rx="2.5" fill="#fff" fill-opacity="0.85" stroke="#888888" stroke-width="0.7"/>
<text x="278.2" y="776.8" font-size="7.8" fill="#333333" text-anchor="middle">NAMPT</text>
<rect x="356.7" y="807.0" width="25.3" height="10.4" rx="2.5" fill="#fff" fill-opacity="0.85" stroke="#888888" stroke-width="0.7"/>
<text x="369.4" y="815.0" font-size="7.8" fill="#333333" text-anchor="middle">EDAR</text>
<rect x="318.4" y="757.3" width="21.2" height="11.4" rx="2.5" fill="#fff" fill-opacity="0.85" stroke="#f0902a" stroke-width="1.5"/>
<text x="329.0" y="765.8" font-size="7.8" fill="#333" text-anchor="middle">IL34</text>
<rect x="410.7" y="809.5" width="24.2" height="11.4" rx="2.5" fill="#fff" fill-opacity="0.85" stroke="#2626e0" stroke-width="1.5"/>
<text x="422.8" y="818.0" font-size="7.8" fill="#333" text-anchor="middle">CSF1</text>
<rect x="638.50" y="739.20" width="45.20" height="76.70" fill="#fff" stroke="#333" stroke-width="0.9"/>
<text x="660.7" y="747.2" font-size="7.4" fill="#161616" text-anchor="middle">MS-HC diff</text>
<rect x="655.80" y="750.20" width="6.00" height="42.50" fill="url(#dleg)"/>
<text x="672.5" y="758.5" font-size="6.2" fill="#161616" text-anchor="middle">4</text>
<text x="672.5" y="765.5" font-size="6.2" fill="#161616" text-anchor="middle">3</text>
<text x="672.5" y="772.6" font-size="6.2" fill="#161616" text-anchor="middle">2</text>
<text x="672.5" y="779.6" font-size="6.2" fill="#161616" text-anchor="middle">1</text>
<text x="672.5" y="786.7" font-size="6.2" fill="#161616" text-anchor="middle">0</text>
<text x="672.5" y="793.8" font-size="6.2" fill="#161616" text-anchor="middle">-1</text>
<circle cx="643.6" cy="801.3" r="1.9" fill="#fff" stroke="#444" stroke-width="0.6"/>
<text x="651.0" y="803.6" font-size="7.6" fill="#161616">protein</text>
<rect x="641.70" y="807.60" width="3.80" height="3.80" fill="#fff" stroke="#444" stroke-width="0.6"/>
<text x="651.0" y="811.8" font-size="7.6" fill="#161616">pathway</text>
<text x="225.6" y="899.0" font-size="9.6" fill="#9a34b4" text-anchor="middle">Cohort matched</text>
<text x="225.6" y="910.3" font-size="9.6" fill="#9a34b4" text-anchor="middle">for  brain injury</text>
<g fill="none" stroke-width="0.6" stroke-opacity="0.85"><circle cx="322.6" cy="893.3" r="1.8" stroke="#cccccc" stroke-width="0.5"/><circle cx="309.0" cy="904.5" r="1.8" stroke="#cccccc" stroke-width="0.5"/><circle cx="309.0" cy="905.1" r="1.8" stroke="#cccccc" stroke-width="0.5"/><circle cx="312.0" cy="901.4" r="1.8" stroke="#cccccc" stroke-width="0.5"/><circle cx="315.6" cy="901.6" r="1.8" stroke="#cccccc" stroke-width="0.5"/><circle cx="333.3" cy="893.8" r="1.8" stroke="#cccccc" stroke-width="0.5"/><circle cx="353.7" cy="878.6" r="1.8" stroke="#cccccc" stroke-width="0.5"/><circle cx="310.3" cy="901.6" r="1.8" stroke="#cccccc" stroke-width="0.5"/><circle cx="317.8" cy="904.2" r="1.8" stroke="#cccccc" stroke-width="0.5"/><circle cx="307.1" cy="911.3" r="1.8" stroke="#cccccc" stroke-width="0.5"/><circle cx="306.8" cy="910.4" r="1.8" stroke="#cccccc" stroke-width="0.5"/><circle cx="360.3" cy="876.0" r="1.8" stroke="#cccccc" stroke-width="0.5"/><circle cx="332.2" cy="893.1" r="1.8" stroke="#cccccc" stroke-width="0.5"/><circle cx="297.9" cy="908.6" r="1.8" stroke="#cccccc" stroke-width="0.5"/><circle cx="339.6" cy="888.3" r="1.8" stroke="#cccccc" stroke-width="0.5"/><circle cx="294.2" cy="918.1" r="1.8" stroke="#cccccc" stroke-width="0.5"/><circle cx="288.6" cy="918.0" r="1.8" stroke="#cccccc" stroke-width="0.5"/><circle cx="314.0" cy="903.8" r="1.8" stroke="#cccccc" stroke-width="0.5"/><circle cx="350.3" cy="885.3" r="1.8" stroke="#cccccc" stroke-width="0.5"/><circle cx="292.4" cy="916.0" r="1.8" stroke="#cccccc" stroke-width="0.5"/><circle cx="311.0" cy="907.1" r="1.8" stroke="#cccccc" stroke-width="0.5"/><circle cx="332.5" cy="893.5" r="1.8" stroke="#cccccc" stroke-width="0.5"/><circle cx="332.1" cy="896.2" r="1.8" stroke="#cccccc" stroke-width="0.5"/><circle cx="317.0" cy="902.4" r="1.8" stroke="#cccccc" stroke-width="0.5"/><circle cx="315.0" cy="904.8" r="1.8" stroke="#cccccc" stroke-width="0.5"/><circle cx="292.0" cy="918.6" r="1.8" stroke="#cccccc" stroke-width="0.5"/><circle cx="337.5" cy="887.2" r="1.8" stroke="#cccccc" stroke-width="0.5"/><circle cx="315.8" cy="899.0" r="1.8" stroke="#cccccc" stroke-width="0.5"/><circle cx="358.6" cy="876.0" r="1.8" stroke="#cccccc" stroke-width="0.5"/><circle cx="313.1" cy="905.4" r="1.8" stroke="#cccccc" stroke-width="0.5"/><circle cx="355.2" cy="882.1" r="1.8" stroke="#cccccc" stroke-width="0.5"/><circle cx="357.2" cy="882.4" r="1.8" stroke="#cccccc" stroke-width="0.5"/><circle cx="350.5" cy="878.9" r="1.8" stroke="#cccccc" stroke-width="0.5"/><circle cx="352.0" cy="881.9" r="1.8" stroke="#cccccc" stroke-width="0.5"/><circle cx="339.4" cy="889.2" r="1.8" stroke="#cccccc" stroke-width="0.5"/><circle cx="331.4" cy="891.5" r="1.8" stroke="#cccccc" stroke-width="0.5"/><circle cx="341.6" cy="887.5" r="1.8" stroke="#cccccc" stroke-width="0.5"/><circle cx="349.6" cy="884.6" r="1.8" stroke="#cccccc" stroke-width="0.5"/><circle cx="328.3" cy="892.1" r="1.8" stroke="#cccccc" stroke-width="0.5"/><circle cx="304.1" cy="911.1" r="1.8" stroke="#cccccc" stroke-width="0.5"/><circle cx="303.3" cy="912.1" r="1.8" stroke="#cccccc" stroke-width="0.5"/><circle cx="295.4" cy="916.2" r="1.8" stroke="#cccccc" stroke-width="0.5"/><circle cx="354.0" cy="883.9" r="1.8" stroke="#cccccc" stroke-width="0.5"/><circle cx="291.0" cy="915.8" r="1.8" stroke="#cccccc" stroke-width="0.5"/><circle cx="330.7" cy="895.3" r="1.8" stroke="#cccccc" stroke-width="0.5"/><circle cx="294.0" cy="917.6" r="1.8" stroke="#cccccc" stroke-width="0.5"/><circle cx="322.8" cy="900.5" r="1.8" stroke="#cccccc" stroke-width="0.5"/><circle cx="302.2" cy="911.4" r="1.8" stroke="#cccccc" stroke-width="0.5"/><circle cx="320.4" cy="903.3" r="1.8" stroke="#cccccc" stroke-width="0.5"/><circle cx="345.0" cy="883.6" r="1.8" stroke="#cccccc" stroke-width="0.5"/><circle cx="340.6" cy="886.8" r="1.8" stroke="#cccccc" stroke-width="0.5"/><circle cx="288.5" cy="918.1" r="1.8" stroke="#cccccc" stroke-width="0.5"/><circle cx="294.5" cy="912.1" r="1.8" stroke="#cccccc" stroke-width="0.5"/><circle cx="356.6" cy="878.2" r="1.8" stroke="#cccccc" stroke-width="0.5"/><circle cx="299.6" cy="914.8" r="1.8" stroke="#cccccc" stroke-width="0.5"/><circle cx="331.3" cy="896.5" r="1.8" stroke="#cccccc" stroke-width="0.5"/><circle cx="288.1" cy="916.8" r="1.8" stroke="#cccccc" stroke-width="0.5"/><circle cx="348.2" cy="886.1" r="1.8" stroke="#cccccc" stroke-width="0.5"/><circle cx="344.8" cy="888.0" r="1.8" stroke="#cccccc" stroke-width="0.5"/><circle cx="357.2" cy="875.5" r="1.8" stroke="#cccccc" stroke-width="0.5"/><circle cx="320.7" cy="899.1" r="1.8" stroke="#cccccc" stroke-width="0.5"/><circle cx="348.9" cy="884.6" r="1.8" stroke="#cccccc" stroke-width="0.5"/><circle cx="334.7" cy="885.2" r="1.8" stroke="#cccccc" stroke-width="0.5"/><circle cx="333.3" cy="886.6" r="1.8" stroke="#cccccc" stroke-width="0.5"/><circle cx="308.2" cy="904.5" r="1.8" stroke="#cccccc" stroke-width="0.5"/><circle cx="297.9" cy="906.4" r="1.8" stroke="#cccccc" stroke-width="0.5"/><circle cx="357.6" cy="876.7" r="1.8" stroke="#cccccc" stroke-width="0.5"/><circle cx="323.6" cy="898.5" r="1.8" stroke="#cccccc" stroke-width="0.5"/><circle cx="344.9" cy="883.0" r="1.8" stroke="#cccccc" stroke-width="0.5"/><circle cx="343.9" cy="886.1" r="1.8" stroke="#cccccc" stroke-width="0.5"/><circle cx="291.9" cy="915.0" r="1.8" stroke="#cccccc" stroke-width="0.5"/><circle cx="331.8" cy="890.5" r="1.8" stroke="#cccccc" stroke-width="0.5"/><circle cx="323.5" cy="897.5" r="1.8" stroke="#cccccc" stroke-width="0.5"/><circle cx="348.0" cy="885.6" r="1.8" stroke="#cccccc" stroke-width="0.5"/><circle cx="319.6" cy="899.3" r="1.8" stroke="#cccccc" stroke-width="0.5"/><circle cx="343.9" cy="889.9" r="1.8" stroke="#cccccc" stroke-width="0.5"/><circle cx="290.9" cy="915.3" r="1.8" stroke="#cccccc" stroke-width="0.5"/><circle cx="343.9" cy="886.4" r="1.8" stroke="#cccccc" stroke-width="0.5"/><circle cx="287.5" cy="920.8" r="1.8" stroke="#cccccc" stroke-width="0.5"/><circle cx="324.3" cy="894.1" r="1.8" stroke="#cccccc" stroke-width="0.5"/><circle cx="321.2" cy="887.7" r="1.8" stroke="#9a34b4"/><circle cx="304.7" cy="901.2" r="1.8" stroke="#9a34b4"/><circle cx="313.0" cy="889.6" r="1.8" stroke="#9a34b4"/><circle cx="311.6" cy="891.5" r="1.8" stroke="#9a34b4"/><circle cx="324.7" cy="887.3" r="1.8" stroke="#9a34b4"/><circle cx="297.1" cy="897.2" r="1.8" stroke="#9a34b4"/><circle cx="319.5" cy="891.9" r="1.8" stroke="#9a34b4"/><circle cx="323.2" cy="891.9" r="1.8" stroke="#9a34b4"/><circle cx="316.9" cy="888.0" r="1.8" stroke="#9a34b4"/><circle cx="306.3" cy="894.6" r="1.8" stroke="#9a34b4"/><circle cx="338.1" cy="879.1" r="1.8" stroke="#9a34b4"/><circle cx="310.2" cy="894.9" r="1.8" stroke="#9a34b4"/><circle cx="303.4" cy="895.7" r="1.8" stroke="#9a34b4"/><circle cx="314.6" cy="895.1" r="1.8" stroke="#9a34b4"/><circle cx="340.6" cy="873.6" r="1.8" stroke="#9a34b4"/><circle cx="341.1" cy="882.9" r="1.8" stroke="#9a34b4"/><circle cx="321.7" cy="888.4" r="1.8" stroke="#9a34b4"/><circle cx="339.0" cy="876.7" r="1.8" stroke="#9a34b4"/><circle cx="316.9" cy="887.2" r="1.8" stroke="#9a34b4"/><circle cx="315.1" cy="897.6" r="1.8" stroke="#9a34b4"/><circle cx="301.0" cy="905.3" r="1.8" stroke="#9a34b4"/><circle cx="305.1" cy="898.6" r="1.8" stroke="#9a34b4"/><circle cx="325.6" cy="890.4" r="1.8" stroke="#9a34b4"/><circle cx="340.6" cy="879.7" r="1.8" stroke="#9a34b4"/><circle cx="313.6" cy="894.5" r="1.8" stroke="#9a34b4"/><circle cx="307.5" cy="890.1" r="1.8" stroke="#9a34b4"/><circle cx="318.3" cy="897.3" r="1.8" stroke="#9a34b4"/><circle cx="322.3" cy="887.5" r="1.8" stroke="#9a34b4"/><circle cx="321.7" cy="893.5" r="1.8" stroke="#9a34b4"/><circle cx="339.6" cy="878.2" r="1.8" stroke="#9a34b4"/><circle cx="322.4" cy="887.7" r="1.8" stroke="#9a34b4"/><circle cx="325.6" cy="887.2" r="1.8" stroke="#9a34b4"/><circle cx="328.2" cy="879.4" r="1.8" stroke="#9a34b4"/><circle cx="298.6" cy="898.1" r="1.8" stroke="#9a34b4"/><circle cx="297.3" cy="904.3" r="1.8" stroke="#9a34b4"/><circle cx="299.2" cy="902.6" r="1.8" stroke="#9a34b4"/><circle cx="307.9" cy="897.5" r="1.8" stroke="#9a34b4"/><circle cx="320.7" cy="893.8" r="1.8" stroke="#9a34b4"/><circle cx="306.0" cy="895.4" r="1.8" stroke="#9a34b4"/><circle cx="341.5" cy="876.3" r="1.8" stroke="#9a34b4"/><circle cx="301.1" cy="900.3" r="1.8" stroke="#9a34b4"/><circle cx="337.2" cy="882.8" r="1.8" stroke="#9a34b4"/><circle cx="326.5" cy="887.8" r="1.8" stroke="#9a34b4"/><circle cx="330.3" cy="886.0" r="1.8" stroke="#9a34b4"/><circle cx="339.0" cy="876.4" r="1.8" stroke="#9a34b4"/><circle cx="334.3" cy="878.9" r="1.8" stroke="#9a34b4"/><circle cx="328.5" cy="885.5" r="1.8" stroke="#9a34b4"/><circle cx="334.7" cy="879.1" r="1.8" stroke="#9a34b4"/><circle cx="318.6" cy="890.2" r="1.8" stroke="#9a34b4"/><circle cx="301.5" cy="902.0" r="1.8" stroke="#9a34b4"/><circle cx="354.0" cy="872.1" r="1.8" stroke="#c070d4" stroke-opacity="0.6"/><circle cx="333.4" cy="881.8" r="1.8" stroke="#c070d4" stroke-opacity="0.6"/><circle cx="303.5" cy="897.2" r="1.8" stroke="#c070d4" stroke-opacity="0.6"/><circle cx="350.0" cy="876.0" r="1.8" stroke="#c070d4" stroke-opacity="0.6"/><circle cx="314.4" cy="891.3" r="1.8" stroke="#c070d4" stroke-opacity="0.6"/><circle cx="321.9" cy="880.7" r="1.8" stroke="#c070d4" stroke-opacity="0.6"/><circle cx="347.4" cy="878.3" r="1.8" stroke="#c070d4" stroke-opacity="0.6"/><circle cx="289.0" cy="902.1" r="1.8" stroke="#c070d4" stroke-opacity="0.6"/><circle cx="299.3" cy="899.4" r="1.8" stroke="#c070d4" stroke-opacity="0.6"/><circle cx="325.3" cy="880.7" r="1.8" stroke="#c070d4" stroke-opacity="0.6"/><circle cx="301.0" cy="894.0" r="1.8" stroke="#c070d4" stroke-opacity="0.6"/><circle cx="320.9" cy="885.1" r="1.8" stroke="#c070d4" stroke-opacity="0.6"/><circle cx="339.2" cy="875.7" r="1.8" stroke="#c070d4" stroke-opacity="0.6"/><circle cx="290.5" cy="899.9" r="1.8" stroke="#c070d4" stroke-opacity="0.6"/><circle cx="303.8" cy="897.9" r="1.8" stroke="#c070d4" stroke-opacity="0.6"/><circle cx="291.8" cy="909.8" r="1.8" stroke="#c070d4" stroke-opacity="0.6"/><circle cx="318.6" cy="875.6" r="1.8" stroke="#c070d4" stroke-opacity="0.6"/><circle cx="331.9" cy="882.6" r="1.8" stroke="#c070d4" stroke-opacity="0.6"/><circle cx="358.2" cy="868.5" r="1.8" stroke="#c070d4" stroke-opacity="0.6"/><circle cx="336.7" cy="883.7" r="1.8" stroke="#c070d4" stroke-opacity="0.6"/><circle cx="349.3" cy="869.8" r="1.8" stroke="#c070d4" stroke-opacity="0.6"/><circle cx="319.3" cy="884.9" r="1.8" stroke="#c070d4" stroke-opacity="0.6"/><circle cx="303.3" cy="885.7" r="1.8" stroke="#c070d4" stroke-opacity="0.6"/><circle cx="316.9" cy="881.4" r="1.8" stroke="#c070d4" stroke-opacity="0.6"/><circle cx="293.7" cy="893.1" r="1.8" stroke="#c070d4" stroke-opacity="0.6"/><circle cx="319.2" cy="874.5" r="1.8" stroke="#c070d4" stroke-opacity="0.6"/><circle cx="313.4" cy="895.1" r="1.8" stroke="#c070d4" stroke-opacity="0.6"/><circle cx="293.2" cy="889.7" r="1.8" stroke="#c070d4" stroke-opacity="0.6"/><circle cx="302.6" cy="923.4" r="1.8" stroke="#ee86ea"/><circle cx="309.0" cy="928.3" r="1.8" stroke="#ee86ea"/><circle cx="310.1" cy="918.7" r="1.8" stroke="#ee86ea"/><circle cx="305.3" cy="923.7" r="1.8" stroke="#ee86ea"/><circle cx="304.3" cy="922.2" r="1.8" stroke="#ee86ea"/><circle cx="307.2" cy="927.4" r="1.8" stroke="#ee86ea"/><circle cx="295.5" cy="928.9" r="1.8" stroke="#ee86ea"/><circle cx="300.5" cy="922.8" r="1.8" stroke="#ee86ea"/><circle cx="305.2" cy="918.6" r="1.8" stroke="#ee86ea"/><circle cx="297.7" cy="925.6" r="1.8" stroke="#ee86ea"/><circle cx="303.7" cy="924.7" r="1.8" stroke="#ee86ea"/><circle cx="296.5" cy="929.3" r="1.8" stroke="#ee86ea"/><circle cx="317.9" cy="918.6" r="1.8" stroke="#ee86ea"/><circle cx="297.3" cy="931.4" r="1.8" stroke="#ee86ea"/><circle cx="305.0" cy="922.8" r="1.8" stroke="#ee86ea"/><circle cx="310.6" cy="918.0" r="1.8" stroke="#ee86ea"/><circle cx="324.6" cy="910.9" r="1.8" stroke="#ee86ea"/><circle cx="303.1" cy="923.0" r="1.8" stroke="#ee86ea"/><circle cx="298.8" cy="922.5" r="1.8" stroke="#ee86ea"/><circle cx="320.3" cy="911.3" r="1.8" stroke="#ee86ea"/><circle cx="296.6" cy="921.3" r="1.8" stroke="#ee86ea"/><circle cx="310.2" cy="917.5" r="1.8" stroke="#ee86ea"/><circle cx="307.1" cy="920.9" r="1.8" stroke="#ee86ea"/><circle cx="291.7" cy="928.6" r="1.8" stroke="#ee86ea"/><circle cx="310.7" cy="910.2" r="1.8" stroke="#ee86ea"/><circle cx="296.8" cy="929.4" r="1.8" stroke="#ee86ea"/><circle cx="304.9" cy="923.8" r="1.8" stroke="#ee86ea"/><circle cx="310.7" cy="926.9" r="1.8" stroke="#ee86ea"/><circle cx="318.1" cy="925.5" r="1.8" stroke="#ee86ea"/><circle cx="304.1" cy="926.1" r="1.8" stroke="#ee86ea"/><circle cx="314.2" cy="926.1" r="1.8" stroke="#ee86ea"/><circle cx="308.7" cy="920.7" r="1.8" stroke="#ee86ea"/><circle cx="300.3" cy="920.1" r="1.8" stroke="#ee86ea"/><circle cx="296.3" cy="929.6" r="1.8" stroke="#ee86ea"/><circle cx="308.0" cy="918.5" r="1.8" stroke="#ee86ea"/><circle cx="298.2" cy="924.7" r="1.8" stroke="#ee86ea"/><circle cx="295.1" cy="927.6" r="1.8" stroke="#ee86ea"/><circle cx="297.4" cy="928.0" r="1.8" stroke="#ee86ea"/><circle cx="310.0" cy="919.0" r="1.8" stroke="#ee86ea"/><circle cx="303.1" cy="918.9" r="1.8" stroke="#ee86ea"/><circle cx="307.0" cy="921.9" r="1.8" stroke="#ee86ea"/><circle cx="303.0" cy="920.3" r="1.8" stroke="#ee86ea"/><circle cx="314.2" cy="914.6" r="1.8" stroke="#ee86ea"/><circle cx="311.3" cy="919.4" r="1.8" stroke="#ee86ea"/><circle cx="284.9" cy="925.3" r="1.8" stroke="#ee86ea"/><circle cx="309.7" cy="917.5" r="1.8" stroke="#ee86ea"/><circle cx="295.0" cy="924.2" r="1.8" stroke="#ee86ea"/><circle cx="308.1" cy="918.2" r="1.8" stroke="#ee86ea"/><circle cx="292.2" cy="928.6" r="1.8" stroke="#ee86ea"/><circle cx="331.5" cy="910.0" r="1.8" stroke="#ee86ea" stroke-opacity="0.5"/><circle cx="301.2" cy="920.3" r="1.8" stroke="#ee86ea" stroke-opacity="0.5"/><circle cx="362.0" cy="888.0" r="1.8" stroke="#ee86ea" stroke-opacity="0.5"/><circle cx="362.6" cy="880.3" r="1.8" stroke="#ee86ea" stroke-opacity="0.5"/><circle cx="319.2" cy="926.8" r="1.8" stroke="#ee86ea" stroke-opacity="0.5"/><circle cx="300.0" cy="931.8" r="1.8" stroke="#ee86ea" stroke-opacity="0.5"/><circle cx="354.2" cy="891.6" r="1.8" stroke="#ee86ea" stroke-opacity="0.5"/><circle cx="355.6" cy="902.2" r="1.8" stroke="#ee86ea" stroke-opacity="0.5"/><circle cx="354.2" cy="894.2" r="1.8" stroke="#ee86ea" stroke-opacity="0.5"/><circle cx="312.2" cy="919.1" r="1.8" stroke="#ee86ea" stroke-opacity="0.5"/><circle cx="320.9" cy="910.4" r="1.8" stroke="#ee86ea" stroke-opacity="0.5"/><circle cx="358.1" cy="887.0" r="1.8" stroke="#ee86ea" stroke-opacity="0.5"/><circle cx="341.1" cy="904.2" r="1.8" stroke="#ee86ea" stroke-opacity="0.5"/><circle cx="330.6" cy="911.2" r="1.8" stroke="#ee86ea" stroke-opacity="0.5"/><circle cx="332.2" cy="921.5" r="1.8" stroke="#ee86ea" stroke-opacity="0.5"/><circle cx="343.8" cy="911.2" r="1.8" stroke="#ee86ea" stroke-opacity="0.5"/><circle cx="316.2" cy="919.9" r="1.8" stroke="#ee86ea" stroke-opacity="0.5"/><circle cx="346.9" cy="906.5" r="1.8" stroke="#ee86ea" stroke-opacity="0.5"/><circle cx="352.9" cy="886.5" r="1.8" stroke="#ee86ea" stroke-opacity="0.5"/><circle cx="325.5" cy="907.2" r="1.8" stroke="#ee86ea" stroke-opacity="0.5"/><circle cx="328.5" cy="904.2" r="1.8" stroke="#ee86ea" stroke-opacity="0.5"/><circle cx="347.9" cy="899.0" r="1.8" stroke="#ee86ea" stroke-opacity="0.5"/><circle cx="353.8" cy="896.9" r="1.8" stroke="#ee86ea" stroke-opacity="0.5"/><circle cx="364.6" cy="879.7" r="1.8" stroke="#ee86ea" stroke-opacity="0.5"/><circle cx="355.9" cy="886.4" r="1.8" stroke="#ee86ea" stroke-opacity="0.5"/><circle cx="331.9" cy="903.9" r="1.8" stroke="#ee86ea" stroke-opacity="0.5"/><circle cx="326.3" cy="923.6" r="1.8" stroke="#ee86ea" stroke-opacity="0.5"/><circle cx="314.7" cy="918.0" r="1.8" stroke="#ee86ea" stroke-opacity="0.5"/></g>
<path d="M284,918 L362.1,872 L362.1,878.5 L284,924 Z" fill="#aaa" fill-opacity="0.35"/>
<line x1="284.00" y1="921.00" x2="362.10" y2="875.30" stroke="#161616" stroke-width="1.5"/>
<line x1="279.80" y1="866.40" x2="279.80" y2="933.10" stroke="#444" stroke-width="0.9"/>
<line x1="279.80" y1="933.20" x2="366.10" y2="933.20" stroke="#444" stroke-width="0.9"/>
<text x="292.2" y="874.8" font-size="9.2" fill="#9a34b4">Q3</text>
<text x="340.9" y="919.8" font-size="9.2" fill="#ee86ea">Q1</text>
<text x="341.9" y="929.3" font-size="8.8" fill="#161616">n=462</text>
<text x="276.4" y="900.0" font-size="8.8" fill="#161616" text-anchor="middle" transform="rotate(-90 276.4 900.0)">CombiWISE</text>
<text x="322.4" y="941.1" font-size="8.8" fill="#161616" text-anchor="middle">Brain damage</text>
<path d="M401.3,917.0L434.0,894.8M400.5,912.4L435.2,887.7M401.9,923.8L432.4,904.0M398.5,900.7L437.3,874.0M399.0,907.6L439.7,881.0M396.6,900.0L438.2,876.8M401.4,918.0L434.1,897.8M401.7,919.4L433.3,898.1M405.8,922.7L436.7,904.0M403.2,919.5L438.5,897.3M403.0,923.4L435.7,904.0M402.8,911.5L436.4,888.3M399.6,916.3L436.8,895.5M398.7,907.9L434.0,881.2M401.7,910.2L435.9,888.3M398.8,916.5L433.1,895.7M399.5,920.1L433.6,899.7M405.8,916.6L434.8,895.5M403.3,923.3L437.2,900.4M401.8,912.0L432.1,889.4M403.1,919.6L433.5,896.1M401.5,920.5L437.4,898.5M403.3,904.8L434.8,885.2M399.1,915.1L440.4,894.6M399.5,902.3L432.7,874.0M399.4,900.8L436.4,878.5M397.6,911.8L434.7,890.8M403.0,918.2L435.1,896.8M403.3,920.6L433.7,901.4M402.3,918.3L438.9,895.9M402.1,910.9L434.2,883.7M398.1,913.8L434.7,891.3M399.5,917.4L437.8,896.0M399.0,923.6L439.4,904.0M400.8,916.5L437.3,894.9M404.5,915.8L431.4,895.5M398.0,922.4L436.8,903.6M399.9,918.2L438.1,894.3M401.9,917.4L433.5,894.7M403.4,915.4L436.5,893.9M401.0,914.1L433.6,893.7M403.0,913.1L438.0,889.0M401.3,906.4L434.8,882.1M399.1,917.4L435.2,892.5M405.9,921.8L436.9,898.8M403.6,917.3L435.9,894.7M397.6,919.0L437.2,901.2M401.1,913.0L431.5,890.7M401.6,914.4L434.6,893.3M399.4,917.0L433.7,894.6M400.5,921.8L432.5,901.1M404.2,910.7L435.0,890.4M405.3,912.4L438.2,893.4M400.2,912.4L440.5,892.0M404.4,911.3L436.1,889.9M400.9,906.2L435.3,878.8M399.9,923.2L435.5,904.0M401.1,919.6L437.4,897.9M399.0,914.5L438.7,893.2M400.8,911.3L431.9,888.9M402.0,913.9L437.8,889.3M397.5,913.9L434.8,891.0M403.0,917.2L434.2,895.8M400.7,918.3L435.2,895.9M401.2,905.4L438.7,878.6M401.0,900.7L436.2,876.7M401.1,914.0L431.3,893.2M404.6,914.5L434.3,893.3M406.0,921.0L438.0,898.1M401.7,912.7L434.3,889.0" stroke="#bdbdbd" stroke-width="0.4" fill="none"/>
<rect x="388.9" y="910.7" width="25.5" height="7.5" fill="#ececec" fill-opacity="0.6"/>
<g fill="none" stroke="#ee86ea" stroke-width="0.55" stroke-opacity="0.8"><circle cx="401.3" cy="917.0" r="1.7"/><circle cx="400.5" cy="912.4" r="1.7"/><circle cx="401.9" cy="923.8" r="1.7"/><circle cx="398.5" cy="900.7" r="1.7"/><circle cx="399.0" cy="907.6" r="1.7"/><circle cx="396.6" cy="900.0" r="1.7"/><circle cx="401.4" cy="918.0" r="1.7"/><circle cx="401.7" cy="919.4" r="1.7"/><circle cx="405.8" cy="922.7" r="1.7"/><circle cx="403.2" cy="919.5" r="1.7"/><circle cx="403.0" cy="923.4" r="1.7"/><circle cx="402.8" cy="911.5" r="1.7"/><circle cx="399.6" cy="916.3" r="1.7"/><circle cx="398.7" cy="907.9" r="1.7"/><circle cx="401.7" cy="910.2" r="1.7"/><circle cx="398.8" cy="916.5" r="1.7"/><circle cx="399.5" cy="920.1" r="1.7"/><circle cx="405.8" cy="916.6" r="1.7"/><circle cx="403.3" cy="923.3" r="1.7"/><circle cx="401.8" cy="912.0" r="1.7"/><circle cx="403.1" cy="919.6" r="1.7"/><circle cx="401.5" cy="920.5" r="1.7"/><circle cx="403.3" cy="904.8" r="1.7"/><circle cx="399.1" cy="915.1" r="1.7"/><circle cx="399.5" cy="902.3" r="1.7"/><circle cx="399.4" cy="900.8" r="1.7"/><circle cx="397.6" cy="911.8" r="1.7"/><circle cx="403.0" cy="918.2" r="1.7"/><circle cx="403.3" cy="920.6" r="1.7"/><circle cx="402.3" cy="918.3" r="1.7"/><circle cx="402.1" cy="910.9" r="1.7"/><circle cx="398.1" cy="913.8" r="1.7"/><circle cx="399.5" cy="917.4" r="1.7"/><circle cx="399.0" cy="923.6" r="1.7"/><circle cx="400.8" cy="916.5" r="1.7"/><circle cx="404.5" cy="915.8" r="1.7"/><circle cx="398.0" cy="922.4" r="1.7"/><circle cx="399.9" cy="918.2" r="1.7"/><circle cx="401.9" cy="917.4" r="1.7"/><circle cx="403.4" cy="915.4" r="1.7"/><circle cx="401.0" cy="914.1" r="1.7"/><circle cx="403.0" cy="913.1" r="1.7"/><circle cx="401.3" cy="906.4" r="1.7"/><circle cx="399.1" cy="917.4" r="1.7"/><circle cx="405.9" cy="921.8" r="1.7"/><circle cx="403.6" cy="917.3" r="1.7"/><circle cx="397.6" cy="919.0" r="1.7"/><circle cx="401.1" cy="913.0" r="1.7"/><circle cx="401.6" cy="914.4" r="1.7"/><circle cx="399.4" cy="917.0" r="1.7"/><circle cx="400.5" cy="921.8" r="1.7"/><circle cx="404.2" cy="910.7" r="1.7"/><circle cx="405.3" cy="912.4" r="1.7"/><circle cx="400.2" cy="912.4" r="1.7"/><circle cx="404.4" cy="911.3" r="1.7"/><circle cx="400.9" cy="906.2" r="1.7"/><circle cx="399.9" cy="923.2" r="1.7"/><circle cx="401.1" cy="919.6" r="1.7"/><circle cx="399.0" cy="914.5" r="1.7"/><circle cx="400.8" cy="911.3" r="1.7"/><circle cx="402.0" cy="913.9" r="1.7"/><circle cx="397.5" cy="913.9" r="1.7"/><circle cx="403.0" cy="917.2" r="1.7"/><circle cx="400.7" cy="918.3" r="1.7"/><circle cx="401.2" cy="905.4" r="1.7"/><circle cx="401.0" cy="900.7" r="1.7"/><circle cx="401.1" cy="914.0" r="1.7"/><circle cx="404.6" cy="914.5" r="1.7"/><circle cx="406.0" cy="921.0" r="1.7"/><circle cx="401.7" cy="912.7" r="1.7"/></g>
<line x1="401.65" y1="900.00" x2="401.65" y2="924.00" stroke="#824980" stroke-width="0.9"/>
<rect x="388.90" y="910.70" width="25.50" height="7.50" fill="none" stroke="#3a3a3a" stroke-width="0.9"/>
<line x1="388.90" y1="914.00" x2="414.40" y2="914.00" stroke="#333" stroke-width="1.6"/>
<rect x="422.7" y="887.2" width="25.8" height="8.8" fill="#ececec" fill-opacity="0.6"/>
<g fill="none" stroke="#9a34b4" stroke-width="0.55" stroke-opacity="0.8"><circle cx="434.0" cy="894.8" r="1.7"/><circle cx="435.2" cy="887.7" r="1.7"/><circle cx="432.4" cy="904.0" r="1.7"/><circle cx="437.3" cy="874.0" r="1.7"/><circle cx="439.7" cy="881.0" r="1.7"/><circle cx="438.2" cy="876.8" r="1.7"/><circle cx="434.1" cy="897.8" r="1.7"/><circle cx="433.3" cy="898.1" r="1.7"/><circle cx="436.7" cy="904.0" r="1.7"/><circle cx="438.5" cy="897.3" r="1.7"/><circle cx="435.7" cy="904.0" r="1.7"/><circle cx="436.4" cy="888.3" r="1.7"/><circle cx="436.8" cy="895.5" r="1.7"/><circle cx="434.0" cy="881.2" r="1.7"/><circle cx="435.9" cy="888.3" r="1.7"/><circle cx="433.1" cy="895.7" r="1.7"/><circle cx="433.6" cy="899.7" r="1.7"/><circle cx="434.8" cy="895.5" r="1.7"/><circle cx="437.2" cy="900.4" r="1.7"/><circle cx="432.1" cy="889.4" r="1.7"/><circle cx="433.5" cy="896.1" r="1.7"/><circle cx="437.4" cy="898.5" r="1.7"/><circle cx="434.8" cy="885.2" r="1.7"/><circle cx="440.4" cy="894.6" r="1.7"/><circle cx="432.7" cy="874.0" r="1.7"/><circle cx="436.4" cy="878.5" r="1.7"/><circle cx="434.7" cy="890.8" r="1.7"/><circle cx="435.1" cy="896.8" r="1.7"/><circle cx="433.7" cy="901.4" r="1.7"/><circle cx="438.9" cy="895.9" r="1.7"/><circle cx="434.2" cy="883.7" r="1.7"/><circle cx="434.7" cy="891.3" r="1.7"/><circle cx="437.8" cy="896.0" r="1.7"/><circle cx="439.4" cy="904.0" r="1.7"/><circle cx="437.3" cy="894.9" r="1.7"/><circle cx="431.4" cy="895.5" r="1.7"/><circle cx="436.8" cy="903.6" r="1.7"/><circle cx="438.1" cy="894.3" r="1.7"/><circle cx="433.5" cy="894.7" r="1.7"/><circle cx="436.5" cy="893.9" r="1.7"/><circle cx="433.6" cy="893.7" r="1.7"/><circle cx="438.0" cy="889.0" r="1.7"/><circle cx="434.8" cy="882.1" r="1.7"/><circle cx="435.2" cy="892.5" r="1.7"/><circle cx="436.9" cy="898.8" r="1.7"/><circle cx="435.9" cy="894.7" r="1.7"/><circle cx="437.2" cy="901.2" r="1.7"/><circle cx="431.5" cy="890.7" r="1.7"/><circle cx="434.6" cy="893.3" r="1.7"/><circle cx="433.7" cy="894.6" r="1.7"/><circle cx="432.5" cy="901.1" r="1.7"/><circle cx="435.0" cy="890.4" r="1.7"/><circle cx="438.2" cy="893.4" r="1.7"/><circle cx="440.5" cy="892.0" r="1.7"/><circle cx="436.1" cy="889.9" r="1.7"/><circle cx="435.3" cy="878.8" r="1.7"/><circle cx="435.5" cy="904.0" r="1.7"/><circle cx="437.4" cy="897.9" r="1.7"/><circle cx="438.7" cy="893.2" r="1.7"/><circle cx="431.9" cy="888.9" r="1.7"/><circle cx="437.8" cy="889.3" r="1.7"/><circle cx="434.8" cy="891.0" r="1.7"/><circle cx="434.2" cy="895.8" r="1.7"/><circle cx="435.2" cy="895.9" r="1.7"/><circle cx="438.7" cy="878.6" r="1.7"/><circle cx="436.2" cy="876.7" r="1.7"/><circle cx="431.3" cy="893.2" r="1.7"/><circle cx="434.3" cy="893.3" r="1.7"/><circle cx="438.0" cy="898.1" r="1.7"/><circle cx="434.3" cy="889.0" r="1.7"/></g>
<line x1="435.60" y1="874.00" x2="435.60" y2="904.00" stroke="#541c63" stroke-width="0.9"/>
<rect x="422.70" y="887.20" width="25.80" height="8.80" fill="none" stroke="#3a3a3a" stroke-width="0.9"/>
<line x1="422.70" y1="893.00" x2="448.50" y2="893.00" stroke="#333" stroke-width="1.6"/>
<line x1="381.00" y1="865.00" x2="381.00" y2="933.10" stroke="#444" stroke-width="0.9"/>
<line x1="381.00" y1="933.10" x2="456.00" y2="933.10" stroke="#444" stroke-width="0.9"/>
<text x="419.5" y="871.6" font-size="7.6" fill="#161616" text-anchor="middle">T-test, p &lt; 2.2e-16</text>
<text x="401.6" y="930.2" font-size="7.7" fill="#161616" text-anchor="middle">n=77</text>
<text x="435.6" y="930.2" font-size="7.7" fill="#161616" text-anchor="middle">n=77</text>
<text x="401.6" y="941.4" font-size="7.8" fill="#ee86ea" text-anchor="middle">Q1</text>
<text x="435.6" y="941.4" font-size="7.8" fill="#9a34b4" text-anchor="middle">Q3</text>
<text x="378.5" y="895.0" font-size="8.6" fill="#161616" text-anchor="middle" transform="rotate(-90 378.5 895.0)">CombiWISE</text>
<path d="M491.3,921.6L525.8,921.4M490.5,907.3L521.8,907.4M490.6,890.6L523.6,889.3M492.6,911.8L523.2,912.1M491.0,908.2L522.5,908.1M491.8,911.3L522.6,911.6M489.5,904.6L527.6,904.8M493.3,905.6L527.3,905.6M492.9,907.2L526.0,906.9M490.7,891.4L524.7,889.6M491.9,905.3L529.7,905.2M488.1,911.8L525.1,912.5M488.0,911.2L522.4,911.2M491.3,906.5L526.0,906.8M489.1,905.5L523.8,905.6M489.7,914.8L526.0,914.7M490.4,901.0L522.6,900.6M492.2,910.0L530.0,909.4M488.5,903.1L527.4,903.2M488.2,920.8L526.3,921.2M491.6,912.3L524.7,912.6M491.3,924.2L528.3,924.3M491.2,910.5L528.1,910.3M493.2,913.4L524.1,914.5M493.6,911.8L526.5,911.8M490.5,914.9L531.1,914.6M495.0,898.5L521.7,896.8M488.6,906.5L527.6,906.2M492.4,911.7L526.7,911.8M490.7,909.0L524.0,909.0M486.6,916.5L528.1,916.5M490.2,893.3L529.9,892.5M491.5,895.4L526.3,893.7M493.8,907.7L524.1,907.6M491.6,917.9L528.1,918.5M491.8,892.7L522.4,889.2M490.2,915.0L525.5,914.7M489.3,922.5L526.2,922.3M493.7,910.5L523.5,910.4M496.4,911.2L524.3,911.2M489.2,898.6L525.3,898.7M494.4,918.3L525.4,919.0M491.3,922.2L525.1,922.6M491.7,910.1L525.6,910.2M488.2,923.1L526.7,923.2M488.2,906.0L525.7,906.0M491.6,909.2L522.2,909.1M490.1,897.2L525.0,897.0M493.4,893.7L524.3,891.3M491.4,914.2L526.4,913.9M492.9,902.3L522.3,902.0M494.4,909.0L524.6,908.7M490.8,892.9L523.1,890.6M488.4,921.3L526.7,921.6M491.6,909.8L520.5,909.7M491.7,891.1L521.9,889.1M492.9,922.4L528.7,921.9M490.7,912.5L527.7,912.2M490.7,912.4L526.0,912.0M493.0,911.5L523.1,910.8M494.2,890.4L522.2,888.3M488.0,916.2L521.7,917.2M495.1,900.2L525.9,901.3M486.7,913.2L521.5,913.4M492.1,897.2L526.6,894.9M492.4,918.2L526.0,918.9M488.7,920.4L528.7,919.7M490.7,890.8L530.1,887.0M491.3,924.4L525.7,923.9M492.7,906.4L527.4,906.4M490.9,915.6L524.3,915.7M494.1,907.6L521.1,907.7M486.4,912.3L524.4,912.1M495.1,906.7L529.9,907.0M488.8,905.7L522.9,906.1M492.4,904.4L528.9,904.5M489.4,919.4L528.2,920.4" stroke="#bdbdbd" stroke-width="0.4" fill="none"/>
<rect x="478.7" y="904.4" width="26.3" height="9.1" fill="#ececec" fill-opacity="0.6"/>
<g fill="none" stroke="#ee86ea" stroke-width="0.55" stroke-opacity="0.8"><circle cx="491.3" cy="921.6" r="1.7"/><circle cx="490.5" cy="907.3" r="1.7"/><circle cx="490.6" cy="890.6" r="1.7"/><circle cx="492.6" cy="911.8" r="1.7"/><circle cx="491.0" cy="908.2" r="1.7"/><circle cx="491.8" cy="911.3" r="1.7"/><circle cx="489.5" cy="904.6" r="1.7"/><circle cx="493.3" cy="905.6" r="1.7"/><circle cx="492.9" cy="907.2" r="1.7"/><circle cx="490.7" cy="891.4" r="1.7"/><circle cx="491.9" cy="905.3" r="1.7"/><circle cx="488.1" cy="911.8" r="1.7"/><circle cx="488.0" cy="911.2" r="1.7"/><circle cx="491.3" cy="906.5" r="1.7"/><circle cx="489.1" cy="905.5" r="1.7"/><circle cx="489.7" cy="914.8" r="1.7"/><circle cx="490.4" cy="901.0" r="1.7"/><circle cx="492.2" cy="910.0" r="1.7"/><circle cx="488.5" cy="903.1" r="1.7"/><circle cx="488.2" cy="920.8" r="1.7"/><circle cx="491.6" cy="912.3" r="1.7"/><circle cx="491.3" cy="924.2" r="1.7"/><circle cx="491.2" cy="910.5" r="1.7"/><circle cx="493.2" cy="913.4" r="1.7"/><circle cx="493.6" cy="911.8" r="1.7"/><circle cx="490.5" cy="914.9" r="1.7"/><circle cx="495.0" cy="898.5" r="1.7"/><circle cx="488.6" cy="906.5" r="1.7"/><circle cx="492.4" cy="911.7" r="1.7"/><circle cx="490.7" cy="909.0" r="1.7"/><circle cx="486.6" cy="916.5" r="1.7"/><circle cx="490.2" cy="893.3" r="1.7"/><circle cx="491.5" cy="895.4" r="1.7"/><circle cx="493.8" cy="907.7" r="1.7"/><circle cx="491.6" cy="917.9" r="1.7"/><circle cx="491.8" cy="892.7" r="1.7"/><circle cx="490.2" cy="915.0" r="1.7"/><circle cx="489.3" cy="922.5" r="1.7"/><circle cx="493.7" cy="910.5" r="1.7"/><circle cx="496.4" cy="911.2" r="1.7"/><circle cx="489.2" cy="898.6" r="1.7"/><circle cx="494.4" cy="918.3" r="1.7"/><circle cx="491.3" cy="922.2" r="1.7"/><circle cx="491.7" cy="910.1" r="1.7"/><circle cx="488.2" cy="923.1" r="1.7"/><circle cx="488.2" cy="906.0" r="1.7"/><circle cx="491.6" cy="909.2" r="1.7"/><circle cx="490.1" cy="897.2" r="1.7"/><circle cx="493.4" cy="893.7" r="1.7"/><circle cx="491.4" cy="914.2" r="1.7"/><circle cx="492.9" cy="902.3" r="1.7"/><circle cx="494.4" cy="909.0" r="1.7"/><circle cx="490.8" cy="892.9" r="1.7"/><circle cx="488.4" cy="921.3" r="1.7"/><circle cx="491.6" cy="909.8" r="1.7"/><circle cx="491.7" cy="891.1" r="1.7"/><circle cx="492.9" cy="922.4" r="1.7"/><circle cx="490.7" cy="912.5" r="1.7"/><circle cx="490.7" cy="912.4" r="1.7"/><circle cx="493.0" cy="911.5" r="1.7"/><circle cx="494.2" cy="890.4" r="1.7"/><circle cx="488.0" cy="916.2" r="1.7"/><circle cx="495.1" cy="900.2" r="1.7"/><circle cx="486.7" cy="913.2" r="1.7"/><circle cx="492.1" cy="897.2" r="1.7"/><circle cx="492.4" cy="918.2" r="1.7"/><circle cx="488.7" cy="920.4" r="1.7"/><circle cx="490.7" cy="890.8" r="1.7"/><circle cx="491.3" cy="924.4" r="1.7"/><circle cx="492.7" cy="906.4" r="1.7"/><circle cx="490.9" cy="915.6" r="1.7"/><circle cx="494.1" cy="907.6" r="1.7"/><circle cx="486.4" cy="912.3" r="1.7"/><circle cx="495.1" cy="906.7" r="1.7"/><circle cx="488.8" cy="905.7" r="1.7"/><circle cx="492.4" cy="904.4" r="1.7"/><circle cx="489.4" cy="919.4" r="1.7"/></g>
<line x1="491.85" y1="890.00" x2="491.85" y2="925.00" stroke="#824980" stroke-width="0.9"/>
<rect x="478.70" y="904.40" width="26.30" height="9.10" fill="none" stroke="#3a3a3a" stroke-width="0.9"/>
<line x1="478.70" y1="909.00" x2="505.00" y2="909.00" stroke="#333" stroke-width="1.6"/>
<rect x="512.0" y="904.4" width="26.4" height="9.1" fill="#ececec" fill-opacity="0.6"/>
<g fill="none" stroke="#9a34b4" stroke-width="0.55" stroke-opacity="0.8"><circle cx="525.8" cy="921.4" r="1.7"/><circle cx="521.8" cy="907.4" r="1.7"/><circle cx="523.6" cy="889.3" r="1.7"/><circle cx="523.2" cy="912.1" r="1.7"/><circle cx="522.5" cy="908.1" r="1.7"/><circle cx="522.6" cy="911.6" r="1.7"/><circle cx="527.6" cy="904.8" r="1.7"/><circle cx="527.3" cy="905.6" r="1.7"/><circle cx="526.0" cy="906.9" r="1.7"/><circle cx="524.7" cy="889.6" r="1.7"/><circle cx="529.7" cy="905.2" r="1.7"/><circle cx="525.1" cy="912.5" r="1.7"/><circle cx="522.4" cy="911.2" r="1.7"/><circle cx="526.0" cy="906.8" r="1.7"/><circle cx="523.8" cy="905.6" r="1.7"/><circle cx="526.0" cy="914.7" r="1.7"/><circle cx="522.6" cy="900.6" r="1.7"/><circle cx="530.0" cy="909.4" r="1.7"/><circle cx="527.4" cy="903.2" r="1.7"/><circle cx="526.3" cy="921.2" r="1.7"/><circle cx="524.7" cy="912.6" r="1.7"/><circle cx="528.3" cy="924.3" r="1.7"/><circle cx="528.1" cy="910.3" r="1.7"/><circle cx="524.1" cy="914.5" r="1.7"/><circle cx="526.5" cy="911.8" r="1.7"/><circle cx="531.1" cy="914.6" r="1.7"/><circle cx="521.7" cy="896.8" r="1.7"/><circle cx="527.6" cy="906.2" r="1.7"/><circle cx="526.7" cy="911.8" r="1.7"/><circle cx="524.0" cy="909.0" r="1.7"/><circle cx="528.1" cy="916.5" r="1.7"/><circle cx="529.9" cy="892.5" r="1.7"/><circle cx="526.3" cy="893.7" r="1.7"/><circle cx="524.1" cy="907.6" r="1.7"/><circle cx="528.1" cy="918.5" r="1.7"/><circle cx="522.4" cy="889.2" r="1.7"/><circle cx="525.5" cy="914.7" r="1.7"/><circle cx="526.2" cy="922.3" r="1.7"/><circle cx="523.5" cy="910.4" r="1.7"/><circle cx="524.3" cy="911.2" r="1.7"/><circle cx="525.3" cy="898.7" r="1.7"/><circle cx="525.4" cy="919.0" r="1.7"/><circle cx="525.1" cy="922.6" r="1.7"/><circle cx="525.6" cy="910.2" r="1.7"/><circle cx="526.7" cy="923.2" r="1.7"/><circle cx="525.7" cy="906.0" r="1.7"/><circle cx="522.2" cy="909.1" r="1.7"/><circle cx="525.0" cy="897.0" r="1.7"/><circle cx="524.3" cy="891.3" r="1.7"/><circle cx="526.4" cy="913.9" r="1.7"/><circle cx="522.3" cy="902.0" r="1.7"/><circle cx="524.6" cy="908.7" r="1.7"/><circle cx="523.1" cy="890.6" r="1.7"/><circle cx="526.7" cy="921.6" r="1.7"/><circle cx="520.5" cy="909.7" r="1.7"/><circle cx="521.9" cy="889.1" r="1.7"/><circle cx="528.7" cy="921.9" r="1.7"/><circle cx="527.7" cy="912.2" r="1.7"/><circle cx="526.0" cy="912.0" r="1.7"/><circle cx="523.1" cy="910.8" r="1.7"/><circle cx="522.2" cy="888.3" r="1.7"/><circle cx="521.7" cy="917.2" r="1.7"/><circle cx="525.9" cy="901.3" r="1.7"/><circle cx="521.5" cy="913.4" r="1.7"/><circle cx="526.6" cy="894.9" r="1.7"/><circle cx="526.0" cy="918.9" r="1.7"/><circle cx="528.7" cy="919.7" r="1.7"/><circle cx="530.1" cy="887.0" r="1.7"/><circle cx="525.7" cy="923.9" r="1.7"/><circle cx="527.4" cy="906.4" r="1.7"/><circle cx="524.3" cy="915.7" r="1.7"/><circle cx="521.1" cy="907.7" r="1.7"/><circle cx="524.4" cy="912.1" r="1.7"/><circle cx="529.9" cy="907.0" r="1.7"/><circle cx="522.9" cy="906.1" r="1.7"/><circle cx="528.9" cy="904.5" r="1.7"/><circle cx="528.2" cy="920.4" r="1.7"/></g>
<line x1="525.20" y1="887.00" x2="525.20" y2="925.00" stroke="#541c63" stroke-width="0.9"/>
<rect x="512.00" y="904.40" width="26.40" height="9.10" fill="none" stroke="#3a3a3a" stroke-width="0.9"/>
<line x1="512.00" y1="909.00" x2="538.40" y2="909.00" stroke="#333" stroke-width="1.6"/>
<line x1="470.40" y1="865.00" x2="470.40" y2="933.10" stroke="#444" stroke-width="0.9"/>
<line x1="470.40" y1="933.10" x2="547.50" y2="933.10" stroke="#444" stroke-width="0.9"/>
<text x="509.9" y="871.6" font-size="7.6" fill="#161616" text-anchor="middle">T-test, p = 0.41</text>
<text x="491.9" y="930.2" font-size="7.7" fill="#161616" text-anchor="middle">n=77</text>
<text x="525.2" y="930.2" font-size="7.7" fill="#161616" text-anchor="middle">n=77</text>
<text x="491.9" y="941.4" font-size="7.8" fill="#ee86ea" text-anchor="middle">Q1</text>
<text x="525.2" y="941.4" font-size="7.8" fill="#9a34b4" text-anchor="middle">Q3</text>
<text x="467.5" y="895.0" font-size="8.6" fill="#161616" text-anchor="middle" transform="rotate(-90 467.5 895.0)">Brain damage</text></svg></body></html>
